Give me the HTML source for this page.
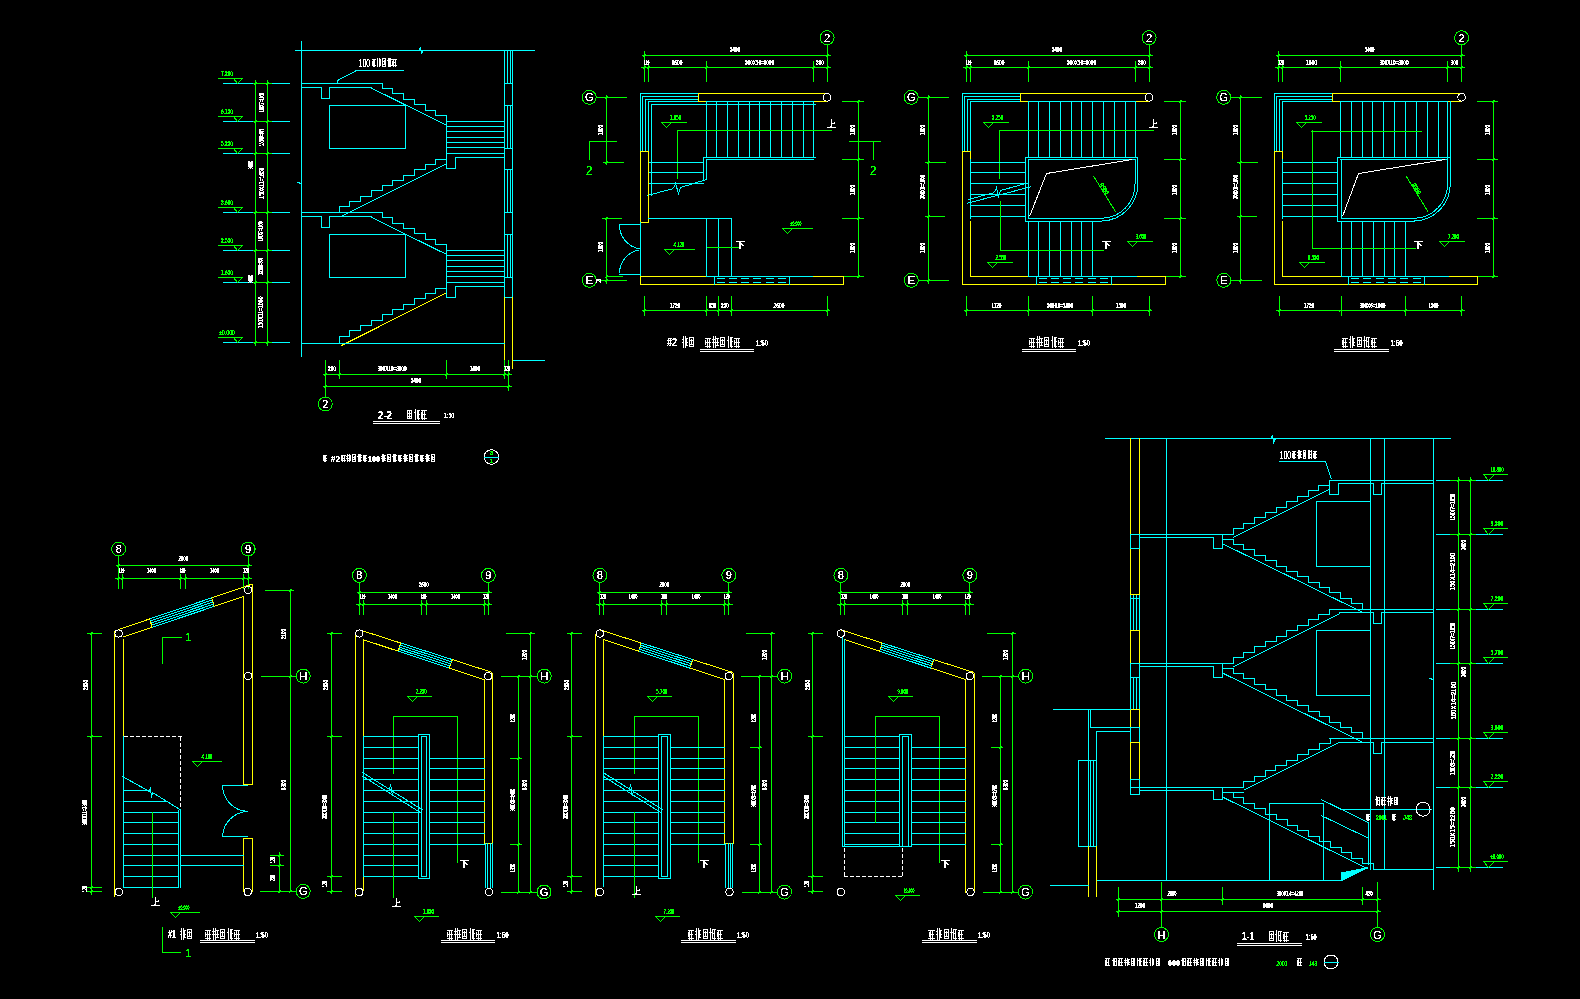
<!DOCTYPE html>
<html><head><meta charset="utf-8"><style>
html,body{margin:0;padding:0;background:#000;width:1580px;height:999px;overflow:hidden}
svg{display:block}
text{font-family:"Liberation Sans",sans-serif}
</style></head><body>
<svg width="1580" height="999" viewBox="0 0 1580 999" shape-rendering="crispEdges" stroke-width="1">
<rect width="1580" height="999" fill="#000"/>
<line x1="295" y1="50.5" x2="535" y2="50.5" stroke="#00ffff"/>
<polyline points="418.5,50.5 420.5,47.5 421.5,53.5 423.5,50.5" fill="none" stroke="#00ffff"/>
<line x1="301.5" y1="41" x2="301.5" y2="357" stroke="#00ffff"/>
<polyline points="297.5,182.5 301.5,183.5 301.5,186.5" fill="none" stroke="#00ffff"/>
<line x1="504.5" y1="50" x2="504.5" y2="298" stroke="#00ffff"/>
<line x1="512.5" y1="50" x2="512.5" y2="298" stroke="#00ffff"/>
<line x1="507.5" y1="50" x2="507.5" y2="84" stroke="#00ffff"/>
<line x1="510.5" y1="50" x2="510.5" y2="84" stroke="#00ffff"/>
<line x1="507.5" y1="105" x2="507.5" y2="149" stroke="#00ffff"/>
<line x1="510.5" y1="105" x2="510.5" y2="149" stroke="#00ffff"/>
<line x1="507.5" y1="169" x2="507.5" y2="213" stroke="#00ffff"/>
<line x1="510.5" y1="169" x2="510.5" y2="213" stroke="#00ffff"/>
<line x1="507.5" y1="234" x2="507.5" y2="278" stroke="#00ffff"/>
<line x1="510.5" y1="234" x2="510.5" y2="278" stroke="#00ffff"/>
<line x1="504" y1="83.5" x2="513" y2="83.5" stroke="#00ffff"/>
<line x1="504" y1="105.5" x2="513" y2="105.5" stroke="#00ffff"/>
<line x1="504" y1="148.5" x2="513" y2="148.5" stroke="#00ffff"/>
<line x1="504" y1="169.5" x2="513" y2="169.5" stroke="#00ffff"/>
<line x1="504" y1="212.5" x2="513" y2="212.5" stroke="#00ffff"/>
<line x1="504" y1="234.5" x2="513" y2="234.5" stroke="#00ffff"/>
<line x1="504" y1="277.5" x2="513" y2="277.5" stroke="#00ffff"/>
<line x1="504" y1="297.5" x2="513" y2="297.5" stroke="#00ffff"/>
<line x1="504.5" y1="297" x2="504.5" y2="367" stroke="#ffff00"/>
<line x1="512.5" y1="297" x2="512.5" y2="369" stroke="#ffff00"/>
<line x1="513" y1="360.5" x2="545" y2="360.5" stroke="#00ffff"/>
<line x1="301" y1="83.5" x2="383" y2="83.5" stroke="#00ffff"/>
<polyline points="301.5,87.5 321.5,87.5 321.5,98.5 329.5,98.5 329.5,87.5 371.5,87.5" fill="none" stroke="#00ffff"/>
<polyline points="382.5,83.5 382.5,88.5 392.5,88.5 392.5,93.5 403.5,93.5 403.5,99.5 414.5,99.5 414.5,104.5 425.5,104.5 425.5,110.5 435.5,110.5 435.5,115.5 446.5,115.5 446.5,121.5" fill="none" stroke="#00ffff"/>
<line x1="371" y1="87.9" x2="446.5" y2="125.2" stroke="#00ffff"/>
<line x1="446" y1="121.5" x2="505" y2="121.5" stroke="#00ffff"/>
<line x1="446" y1="126.5" x2="505" y2="126.5" stroke="#00ffff"/>
<line x1="446" y1="131.5" x2="505" y2="131.5" stroke="#00ffff"/>
<line x1="446" y1="137.5" x2="505" y2="137.5" stroke="#00ffff"/>
<line x1="446" y1="142.5" x2="505" y2="142.5" stroke="#00ffff"/>
<line x1="446" y1="147.5" x2="505" y2="147.5" stroke="#00ffff"/>
<line x1="446" y1="153.5" x2="505" y2="153.5" stroke="#00ffff"/>
<line x1="455" y1="157.5" x2="505" y2="157.5" stroke="#00ffff"/>
<line x1="446.5" y1="121" x2="446.5" y2="169" stroke="#00ffff"/>
<polyline points="446.5,168.5 455.5,168.5 455.5,157.5" fill="none" stroke="#00ffff"/>
<polyline points="446.5,159.5 435.5,159.5 435.5,164.5 425.5,164.5 425.5,169.5 414.5,169.5 414.5,175.5 403.5,175.5 403.5,180.5 392.5,180.5 392.5,185.5 382.5,185.5 382.5,190.5 371.5,190.5 371.5,196.5 360.5,196.5 360.5,201.5 349.5,201.5 349.5,206.5 339.5,206.5 339.5,212.5" fill="none" stroke="#00ffff"/>
<polygon points="329.5,105.5 405.5,105.5 405.5,148.5 329.5,148.5" fill="none" stroke="#00ffff"/>
<line x1="301" y1="212.5" x2="383" y2="212.5" stroke="#00ffff"/>
<polyline points="301.5,216.5 321.5,216.5 321.5,227.5 329.5,227.5 329.5,216.5 371.5,216.5" fill="none" stroke="#00ffff"/>
<polyline points="382.5,212.5 382.5,217.5 392.5,217.5 392.5,223.5 403.5,223.5 403.5,228.5 414.5,228.5 414.5,233.5 425.5,233.5 425.5,239.5 435.5,239.5 435.5,244.5 446.5,244.5 446.5,250.5" fill="none" stroke="#00ffff"/>
<line x1="371" y1="217.1" x2="446.5" y2="254.4" stroke="#00ffff"/>
<line x1="446" y1="250.5" x2="505" y2="250.5" stroke="#00ffff"/>
<line x1="446" y1="255.5" x2="505" y2="255.5" stroke="#00ffff"/>
<line x1="446" y1="260.5" x2="505" y2="260.5" stroke="#00ffff"/>
<line x1="446" y1="266.5" x2="505" y2="266.5" stroke="#00ffff"/>
<line x1="446" y1="271.5" x2="505" y2="271.5" stroke="#00ffff"/>
<line x1="446" y1="276.5" x2="505" y2="276.5" stroke="#00ffff"/>
<line x1="446" y1="282.5" x2="505" y2="282.5" stroke="#00ffff"/>
<line x1="455" y1="286.5" x2="505" y2="286.5" stroke="#00ffff"/>
<line x1="446.5" y1="250" x2="446.5" y2="298" stroke="#00ffff"/>
<polyline points="446.5,297.5 455.5,297.5 455.5,286.5" fill="none" stroke="#00ffff"/>
<polyline points="446.5,288.5 435.5,288.5 435.5,293.5 425.5,293.5 425.5,298.5 414.5,298.5 414.5,304.5 403.5,304.5 403.5,309.5 392.5,309.5 392.5,314.5 382.5,314.5 382.5,320.5 371.5,320.5 371.5,325.5 360.5,325.5 360.5,330.5 349.5,330.5 349.5,336.5 339.5,336.5 339.5,341.5" fill="none" stroke="#00ffff"/>
<polygon points="329.5,234.5 405.5,234.5 405.5,277.5 329.5,277.5" fill="none" stroke="#00ffff"/>
<line x1="446.5" y1="163.6" x2="341" y2="216.6" stroke="#00ffff"/>
<line x1="446.5" y1="292.8" x2="341" y2="345.8" stroke="#ffff00"/>
<line x1="339.5" y1="341" x2="339.5" y2="344" stroke="#00ffff"/>
<line x1="301" y1="343.5" x2="505" y2="343.5" stroke="#00ffff"/>
<polyline points="337.5,83.5 337.5,80.5 356.5,70.5 403.5,70.5" fill="none" stroke="#00ffff"/>
<line x1="223" y1="83.5" x2="290" y2="83.5" stroke="#00ffff"/>
<line x1="253" y1="83.5" x2="272" y2="83.5" stroke="#00ff00"/>
<line x1="218" y1="78.5" x2="243" y2="78.5" stroke="#00ff00"/>
<polyline points="233.5,78.5 237.5,83.5 242.5,78.5" fill="none" stroke="#00ff00"/>
<line x1="223" y1="121.5" x2="290" y2="121.5" stroke="#00ffff"/>
<line x1="253" y1="121.5" x2="272" y2="121.5" stroke="#00ff00"/>
<line x1="218" y1="116.5" x2="243" y2="116.5" stroke="#00ff00"/>
<polyline points="233.5,116.5 237.5,121.5 242.5,116.5" fill="none" stroke="#00ff00"/>
<line x1="223" y1="153.5" x2="290" y2="153.5" stroke="#00ffff"/>
<line x1="253" y1="153.5" x2="272" y2="153.5" stroke="#00ff00"/>
<line x1="218" y1="148.5" x2="243" y2="148.5" stroke="#00ff00"/>
<polyline points="233.5,148.5 237.5,153.5 242.5,148.5" fill="none" stroke="#00ff00"/>
<line x1="223" y1="212.5" x2="290" y2="212.5" stroke="#00ffff"/>
<line x1="253" y1="212.5" x2="272" y2="212.5" stroke="#00ff00"/>
<line x1="218" y1="207.5" x2="243" y2="207.5" stroke="#00ff00"/>
<polyline points="233.5,207.5 237.5,212.5 242.5,207.5" fill="none" stroke="#00ff00"/>
<line x1="223" y1="250.5" x2="290" y2="250.5" stroke="#00ffff"/>
<line x1="253" y1="250.5" x2="272" y2="250.5" stroke="#00ff00"/>
<line x1="218" y1="245.5" x2="243" y2="245.5" stroke="#00ff00"/>
<polyline points="233.5,245.5 237.5,250.5 242.5,245.5" fill="none" stroke="#00ff00"/>
<line x1="223" y1="282.5" x2="290" y2="282.5" stroke="#00ffff"/>
<line x1="253" y1="282.5" x2="272" y2="282.5" stroke="#00ff00"/>
<line x1="218" y1="277.5" x2="243" y2="277.5" stroke="#00ff00"/>
<polyline points="233.5,277.5 237.5,282.5 242.5,277.5" fill="none" stroke="#00ff00"/>
<line x1="223" y1="342.5" x2="290" y2="342.5" stroke="#00ffff"/>
<line x1="253" y1="342.5" x2="272" y2="342.5" stroke="#00ff00"/>
<line x1="218" y1="337.5" x2="243" y2="337.5" stroke="#00ff00"/>
<polyline points="233.5,337.5 237.5,342.5 242.5,337.5" fill="none" stroke="#00ff00"/>
<path d="M254 85 h1 v-1 h1 v-1 h1 v-1 h-1 v1 h-1 v1 h-1 z" fill="#00ff00" stroke="none"/>
<path d="M266 85 h1 v-1 h1 v-1 h1 v-1 h-1 v1 h-1 v1 h-1 z" fill="#00ff00" stroke="none"/>
<path d="M254 123 h1 v-1 h1 v-1 h1 v-1 h-1 v1 h-1 v1 h-1 z" fill="#00ff00" stroke="none"/>
<path d="M266 123 h1 v-1 h1 v-1 h1 v-1 h-1 v1 h-1 v1 h-1 z" fill="#00ff00" stroke="none"/>
<path d="M254 155 h1 v-1 h1 v-1 h1 v-1 h-1 v1 h-1 v1 h-1 z" fill="#00ff00" stroke="none"/>
<path d="M266 155 h1 v-1 h1 v-1 h1 v-1 h-1 v1 h-1 v1 h-1 z" fill="#00ff00" stroke="none"/>
<path d="M254 214 h1 v-1 h1 v-1 h1 v-1 h-1 v1 h-1 v1 h-1 z" fill="#00ff00" stroke="none"/>
<path d="M266 214 h1 v-1 h1 v-1 h1 v-1 h-1 v1 h-1 v1 h-1 z" fill="#00ff00" stroke="none"/>
<path d="M254 252 h1 v-1 h1 v-1 h1 v-1 h-1 v1 h-1 v1 h-1 z" fill="#00ff00" stroke="none"/>
<path d="M266 252 h1 v-1 h1 v-1 h1 v-1 h-1 v1 h-1 v1 h-1 z" fill="#00ff00" stroke="none"/>
<path d="M254 284 h1 v-1 h1 v-1 h1 v-1 h-1 v1 h-1 v1 h-1 z" fill="#00ff00" stroke="none"/>
<path d="M266 284 h1 v-1 h1 v-1 h1 v-1 h-1 v1 h-1 v1 h-1 z" fill="#00ff00" stroke="none"/>
<path d="M254 344 h1 v-1 h1 v-1 h1 v-1 h-1 v1 h-1 v1 h-1 z" fill="#00ff00" stroke="none"/>
<path d="M266 344 h1 v-1 h1 v-1 h1 v-1 h-1 v1 h-1 v1 h-1 z" fill="#00ff00" stroke="none"/>
<path d="M324 376 h1 v-1 h1 v-1 h1 v-1 h-1 v1 h-1 v1 h-1 z" fill="#00ff00" stroke="none"/>
<path d="M338 376 h1 v-1 h1 v-1 h1 v-1 h-1 v1 h-1 v1 h-1 z" fill="#00ff00" stroke="none"/>
<path d="M445 376 h1 v-1 h1 v-1 h1 v-1 h-1 v1 h-1 v1 h-1 z" fill="#00ff00" stroke="none"/>
<path d="M503 376 h1 v-1 h1 v-1 h1 v-1 h-1 v1 h-1 v1 h-1 z" fill="#00ff00" stroke="none"/>
<path d="M507 376 h1 v-1 h1 v-1 h1 v-1 h-1 v1 h-1 v1 h-1 z" fill="#00ff00" stroke="none"/>
<path d="M324 388 h1 v-1 h1 v-1 h1 v-1 h-1 v1 h-1 v1 h-1 z" fill="#00ff00" stroke="none"/>
<path d="M507 388 h1 v-1 h1 v-1 h1 v-1 h-1 v1 h-1 v1 h-1 z" fill="#00ff00" stroke="none"/>
<line x1="255.5" y1="80" x2="255.5" y2="346" stroke="#00ff00"/>
<line x1="267.5" y1="80" x2="267.5" y2="346" stroke="#00ff00"/>
<line x1="325.5" y1="360" x2="325.5" y2="379" stroke="#00ff00"/>
<line x1="339.5" y1="360" x2="339.5" y2="379" stroke="#00ff00"/>
<line x1="446.5" y1="360" x2="446.5" y2="379" stroke="#00ff00"/>
<line x1="504.5" y1="360" x2="504.5" y2="379" stroke="#00ff00"/>
<line x1="508.5" y1="360" x2="508.5" y2="379" stroke="#00ff00"/>
<line x1="323" y1="374.5" x2="512" y2="374.5" stroke="#00ff00"/>
<line x1="323" y1="386.5" x2="512" y2="386.5" stroke="#00ff00"/>
<line x1="325.5" y1="378" x2="325.5" y2="398" stroke="#00ff00"/>
<line x1="508.5" y1="378" x2="508.5" y2="391" stroke="#00ff00"/>
<circle cx="325.3" cy="404" r="7" fill="none" stroke="#00ff00"/>
<line x1="373" y1="421.5" x2="440" y2="421.5" stroke="#ffffff"/>
<line x1="373" y1="423.5" x2="440" y2="423.5" stroke="#ffffff"/>
<circle cx="491.4" cy="457" r="7.3" fill="none" stroke="#ffffff"/>
<line x1="484" y1="457.5" x2="499" y2="457.5" stroke="#00ffff"/>
<circle cx="827.1" cy="37.7" r="7" fill="none" stroke="#00ff00"/>
<line x1="827.5" y1="44" x2="827.5" y2="82" stroke="#00ff00"/>
<line x1="642" y1="55.5" x2="831" y2="55.5" stroke="#00ff00"/>
<line x1="644.5" y1="51" x2="644.5" y2="82" stroke="#00ff00"/>
<line x1="641" y1="67.5" x2="831" y2="67.5" stroke="#00ff00"/>
<line x1="648.5" y1="61" x2="648.5" y2="82" stroke="#00ff00"/>
<line x1="706.5" y1="61" x2="706.5" y2="82" stroke="#00ff00"/>
<line x1="813.5" y1="61" x2="813.5" y2="82" stroke="#00ff00"/>
<path d="M643 57 h1 v-1 h1 v-1 h1 v-1 h-1 v1 h-1 v1 h-1 z" fill="#00ff00" stroke="none"/>
<path d="M826 57 h1 v-1 h1 v-1 h1 v-1 h-1 v1 h-1 v1 h-1 z" fill="#00ff00" stroke="none"/>
<path d="M643 69 h1 v-1 h1 v-1 h1 v-1 h-1 v1 h-1 v1 h-1 z" fill="#00ff00" stroke="none"/>
<path d="M647 69 h1 v-1 h1 v-1 h1 v-1 h-1 v1 h-1 v1 h-1 z" fill="#00ff00" stroke="none"/>
<path d="M705 69 h1 v-1 h1 v-1 h1 v-1 h-1 v1 h-1 v1 h-1 z" fill="#00ff00" stroke="none"/>
<path d="M812 69 h1 v-1 h1 v-1 h1 v-1 h-1 v1 h-1 v1 h-1 z" fill="#00ff00" stroke="none"/>
<path d="M826 69 h1 v-1 h1 v-1 h1 v-1 h-1 v1 h-1 v1 h-1 z" fill="#00ff00" stroke="none"/>
<path d="M857 103 h1 v-1 h1 v-1 h1 v-1 h-1 v1 h-1 v1 h-1 z" fill="#00ff00" stroke="none"/>
<path d="M857 161 h1 v-1 h1 v-1 h1 v-1 h-1 v1 h-1 v1 h-1 z" fill="#00ff00" stroke="none"/>
<path d="M857 220 h1 v-1 h1 v-1 h1 v-1 h-1 v1 h-1 v1 h-1 z" fill="#00ff00" stroke="none"/>
<path d="M857 278 h1 v-1 h1 v-1 h1 v-1 h-1 v1 h-1 v1 h-1 z" fill="#00ff00" stroke="none"/>
<path d="M643 312 h1 v-1 h1 v-1 h1 v-1 h-1 v1 h-1 v1 h-1 z" fill="#00ff00" stroke="none"/>
<path d="M705 312 h1 v-1 h1 v-1 h1 v-1 h-1 v1 h-1 v1 h-1 z" fill="#00ff00" stroke="none"/>
<path d="M826 312 h1 v-1 h1 v-1 h1 v-1 h-1 v1 h-1 v1 h-1 z" fill="#00ff00" stroke="none"/>
<path d="M717 312 h1 v-1 h1 v-1 h1 v-1 h-1 v1 h-1 v1 h-1 z" fill="#00ff00" stroke="none"/>
<path d="M730 312 h1 v-1 h1 v-1 h1 v-1 h-1 v1 h-1 v1 h-1 z" fill="#00ff00" stroke="none"/>
<path d="M605 99 h1 v-1 h1 v-1 h1 v-1 h-1 v1 h-1 v1 h-1 z" fill="#00ff00" stroke="none"/>
<path d="M605 282 h1 v-1 h1 v-1 h1 v-1 h-1 v1 h-1 v1 h-1 z" fill="#00ff00" stroke="none"/>
<path d="M605 164 h1 v-1 h1 v-1 h1 v-1 h-1 v1 h-1 v1 h-1 z" fill="#00ff00" stroke="none"/>
<path d="M605 220 h1 v-1 h1 v-1 h1 v-1 h-1 v1 h-1 v1 h-1 z" fill="#00ff00" stroke="none"/>
<path d="M605 278 h1 v-1 h1 v-1 h1 v-1 h-1 v1 h-1 v1 h-1 z" fill="#00ff00" stroke="none"/>
<circle cx="589.2" cy="97.3" r="7" fill="none" stroke="#00ff00"/>
<line x1="596" y1="97.5" x2="627" y2="97.5" stroke="#00ff00"/>
<line x1="606.5" y1="95" x2="606.5" y2="165" stroke="#00ff00"/>
<line x1="606.5" y1="217" x2="606.5" y2="284" stroke="#00ff00"/>
<polyline points="640.5,151.5 640.5,93.5 698.5,93.5" fill="none" stroke="#00ffff"/>
<polyline points="642.5,151.5 642.5,96.5 698.5,96.5" fill="none" stroke="#00ffff"/>
<polyline points="645.5,151.5 645.5,99.5 698.5,99.5" fill="none" stroke="#00ffff"/>
<polyline points="648.5,218.5 648.5,101.5 706.5,101.5" fill="none" stroke="#00ffff"/>
<polyline points="651.5,195.5 651.5,104.5 815.5,104.5" fill="none" stroke="#00ffff"/>
<line x1="706" y1="101.5" x2="816" y2="101.5" stroke="#00ffff"/>
<polyline points="706.5,101.5 698.5,101.5 698.5,93.5 827.5,93.5" fill="none" stroke="#ffff00"/>
<line x1="813" y1="101.5" x2="828" y2="101.5" stroke="#ffff00"/>
<circle cx="827.1" cy="97.3" r="3.8" fill="none" stroke="#ffffff"/>
<line x1="706.5" y1="101" x2="706.5" y2="158" stroke="#00ffff"/>
<line x1="716.5" y1="101" x2="716.5" y2="158" stroke="#00ffff"/>
<line x1="727.5" y1="101" x2="727.5" y2="158" stroke="#00ffff"/>
<line x1="738.5" y1="101" x2="738.5" y2="158" stroke="#00ffff"/>
<line x1="749.5" y1="101" x2="749.5" y2="158" stroke="#00ffff"/>
<line x1="759.5" y1="101" x2="759.5" y2="158" stroke="#00ffff"/>
<line x1="770.5" y1="101" x2="770.5" y2="158" stroke="#00ffff"/>
<line x1="781.5" y1="101" x2="781.5" y2="158" stroke="#00ffff"/>
<line x1="792.5" y1="101" x2="792.5" y2="158" stroke="#00ffff"/>
<line x1="803.5" y1="101" x2="803.5" y2="158" stroke="#00ffff"/>
<line x1="813.5" y1="101" x2="813.5" y2="158" stroke="#00ffff"/>
<line x1="703" y1="157.5" x2="816" y2="157.5" stroke="#00ffff"/>
<line x1="706" y1="159.5" x2="814" y2="159.5" stroke="#00ffff"/>
<polyline points="640.5,200.5 640.5,151.5 648.5,151.5 648.5,158.5" fill="none" stroke="#ffff00"/>
<line x1="677" y1="130.5" x2="832" y2="130.5" stroke="#00ff00"/>
<line x1="677.5" y1="130" x2="677.5" y2="179" stroke="#00ff00"/>
<line x1="858.5" y1="100" x2="858.5" y2="278" stroke="#00ff00"/>
<line x1="842" y1="101.5" x2="864" y2="101.5" stroke="#00ff00"/>
<line x1="842" y1="159.5" x2="864" y2="159.5" stroke="#00ff00"/>
<line x1="842" y1="218.5" x2="864" y2="218.5" stroke="#00ff00"/>
<line x1="842" y1="276.5" x2="864" y2="276.5" stroke="#00ff00"/>
<line x1="603" y1="162.5" x2="624" y2="162.5" stroke="#00ff00"/>
<circle cx="589.3" cy="280.3" r="7" fill="none" stroke="#00ff00"/>
<line x1="596" y1="280.5" x2="627" y2="280.5" stroke="#00ff00"/>
<line x1="589" y1="141.5" x2="617" y2="141.5" stroke="#00ff00"/>
<line x1="589.5" y1="141" x2="589.5" y2="160" stroke="#00ff00"/>
<line x1="849" y1="141.5" x2="881" y2="141.5" stroke="#00ff00"/>
<line x1="873.5" y1="141" x2="873.5" y2="160" stroke="#00ff00"/>
<line x1="661" y1="122.5" x2="687" y2="122.5" stroke="#00ff00"/>
<polyline points="661.5,122.5 666.5,127.5 671.5,122.5" fill="none" stroke="#00ff00"/>
<line x1="703.5" y1="157" x2="703.5" y2="181" stroke="#00ffff"/>
<line x1="706.5" y1="159" x2="706.5" y2="180" stroke="#00ffff"/>
<line x1="648" y1="162.5" x2="704" y2="162.5" stroke="#00ffff"/>
<line x1="648" y1="172.5" x2="704" y2="172.5" stroke="#00ffff"/>
<line x1="648" y1="183.5" x2="704" y2="183.5" stroke="#00ffff"/>
<polyline points="647.5,195.5 673.5,188.5 675.5,183.5 678.5,193.5 680.5,187.5 706.5,179.5" fill="none" stroke="#00ffff"/>
<polyline points="640.5,151.5 640.5,222.5 648.5,222.5 648.5,151.5" fill="none" stroke="#ffff00"/>
<line x1="648" y1="218.5" x2="732" y2="218.5" stroke="#00ffff"/>
<line x1="706.5" y1="218" x2="706.5" y2="277" stroke="#00ffff"/>
<line x1="718.5" y1="218" x2="718.5" y2="277" stroke="#00ffff"/>
<line x1="731.5" y1="218" x2="731.5" y2="277" stroke="#00ffff"/>
<line x1="640.5" y1="222" x2="640.5" y2="277" stroke="#00ffff"/>
<line x1="619" y1="224.5" x2="641" y2="224.5" stroke="#00ffff"/>
<line x1="619" y1="274.5" x2="641" y2="274.5" stroke="#00ffff"/>
<path d="M619.5 224.5 A 24 24 0 0 0 639.5 248.8" fill="none" stroke="#00ffff"/>
<path d="M639.5 249.8 A 24 24 0 0 0 619.5 273.5" fill="none" stroke="#00ffff"/>
<line x1="640" y1="276.5" x2="707" y2="276.5" stroke="#ffff00"/>
<line x1="706" y1="276.5" x2="814" y2="276.5" stroke="#00ffff"/>
<line x1="813" y1="276.5" x2="844" y2="276.5" stroke="#ffff00"/>
<line x1="640" y1="284.5" x2="844" y2="284.5" stroke="#ffff00"/>
<line x1="640.5" y1="276" x2="640.5" y2="285" stroke="#ffff00"/>
<line x1="843.5" y1="276" x2="843.5" y2="285" stroke="#ffff00"/>
<line x1="714.5" y1="276" x2="714.5" y2="285" stroke="#00ffff"/>
<line x1="789.5" y1="276" x2="789.5" y2="285" stroke="#00ffff"/>
<line x1="717" y1="278.5" x2="725" y2="278.5" stroke="#00ffff"/>
<line x1="729" y1="278.5" x2="737" y2="278.5" stroke="#00ffff"/>
<line x1="741" y1="278.5" x2="749" y2="278.5" stroke="#00ffff"/>
<line x1="753" y1="278.5" x2="761" y2="278.5" stroke="#00ffff"/>
<line x1="766" y1="278.5" x2="774" y2="278.5" stroke="#00ffff"/>
<line x1="778" y1="278.5" x2="786" y2="278.5" stroke="#00ffff"/>
<line x1="717" y1="282.5" x2="725" y2="282.5" stroke="#00ffff"/>
<line x1="729" y1="282.5" x2="737" y2="282.5" stroke="#00ffff"/>
<line x1="741" y1="282.5" x2="749" y2="282.5" stroke="#00ffff"/>
<line x1="753" y1="282.5" x2="761" y2="282.5" stroke="#00ffff"/>
<line x1="766" y1="282.5" x2="774" y2="282.5" stroke="#00ffff"/>
<line x1="778" y1="282.5" x2="786" y2="282.5" stroke="#00ffff"/>
<line x1="602" y1="218.5" x2="622" y2="218.5" stroke="#00ff00"/>
<line x1="606" y1="276.5" x2="623" y2="276.5" stroke="#00ff00"/>
<line x1="642" y1="310.5" x2="830" y2="310.5" stroke="#00ff00"/>
<line x1="644.5" y1="296" x2="644.5" y2="316" stroke="#00ff00"/>
<line x1="706.5" y1="296" x2="706.5" y2="316" stroke="#00ff00"/>
<line x1="718.5" y1="296" x2="718.5" y2="316" stroke="#00ff00"/>
<line x1="731.5" y1="296" x2="731.5" y2="316" stroke="#00ff00"/>
<line x1="827.5" y1="296" x2="827.5" y2="316" stroke="#00ff00"/>
<line x1="664" y1="249.5" x2="695" y2="249.5" stroke="#00ff00"/>
<polyline points="664.5,249.5 669.5,254.5 674.5,249.5" fill="none" stroke="#00ff00"/>
<line x1="782" y1="228.5" x2="813" y2="228.5" stroke="#00ff00"/>
<polyline points="782.5,228.5 787.5,233.5 792.5,228.5" fill="none" stroke="#00ff00"/>
<line x1="707" y1="247.5" x2="739" y2="247.5" stroke="#00ff00"/>
<line x1="700" y1="349.5" x2="754" y2="349.5" stroke="#ffffff"/>
<line x1="700" y1="351.5" x2="754" y2="351.5" stroke="#ffffff"/>
<circle cx="1149.1" cy="37.7" r="7" fill="none" stroke="#00ff00"/>
<line x1="1149.5" y1="44" x2="1149.5" y2="82" stroke="#00ff00"/>
<line x1="964" y1="55.5" x2="1153" y2="55.5" stroke="#00ff00"/>
<line x1="966.5" y1="51" x2="966.5" y2="82" stroke="#00ff00"/>
<line x1="963" y1="67.5" x2="1153" y2="67.5" stroke="#00ff00"/>
<line x1="970.5" y1="61" x2="970.5" y2="82" stroke="#00ff00"/>
<line x1="1028.5" y1="61" x2="1028.5" y2="82" stroke="#00ff00"/>
<line x1="1135.5" y1="61" x2="1135.5" y2="82" stroke="#00ff00"/>
<path d="M965 57 h1 v-1 h1 v-1 h1 v-1 h-1 v1 h-1 v1 h-1 z" fill="#00ff00" stroke="none"/>
<path d="M1148 57 h1 v-1 h1 v-1 h1 v-1 h-1 v1 h-1 v1 h-1 z" fill="#00ff00" stroke="none"/>
<path d="M965 69 h1 v-1 h1 v-1 h1 v-1 h-1 v1 h-1 v1 h-1 z" fill="#00ff00" stroke="none"/>
<path d="M969 69 h1 v-1 h1 v-1 h1 v-1 h-1 v1 h-1 v1 h-1 z" fill="#00ff00" stroke="none"/>
<path d="M1027 69 h1 v-1 h1 v-1 h1 v-1 h-1 v1 h-1 v1 h-1 z" fill="#00ff00" stroke="none"/>
<path d="M1134 69 h1 v-1 h1 v-1 h1 v-1 h-1 v1 h-1 v1 h-1 z" fill="#00ff00" stroke="none"/>
<path d="M1148 69 h1 v-1 h1 v-1 h1 v-1 h-1 v1 h-1 v1 h-1 z" fill="#00ff00" stroke="none"/>
<path d="M1179 103 h1 v-1 h1 v-1 h1 v-1 h-1 v1 h-1 v1 h-1 z" fill="#00ff00" stroke="none"/>
<path d="M1179 161 h1 v-1 h1 v-1 h1 v-1 h-1 v1 h-1 v1 h-1 z" fill="#00ff00" stroke="none"/>
<path d="M1179 220 h1 v-1 h1 v-1 h1 v-1 h-1 v1 h-1 v1 h-1 z" fill="#00ff00" stroke="none"/>
<path d="M1179 278 h1 v-1 h1 v-1 h1 v-1 h-1 v1 h-1 v1 h-1 z" fill="#00ff00" stroke="none"/>
<path d="M965 312 h1 v-1 h1 v-1 h1 v-1 h-1 v1 h-1 v1 h-1 z" fill="#00ff00" stroke="none"/>
<path d="M1027 312 h1 v-1 h1 v-1 h1 v-1 h-1 v1 h-1 v1 h-1 z" fill="#00ff00" stroke="none"/>
<path d="M1148 312 h1 v-1 h1 v-1 h1 v-1 h-1 v1 h-1 v1 h-1 z" fill="#00ff00" stroke="none"/>
<path d="M1091 312 h1 v-1 h1 v-1 h1 v-1 h-1 v1 h-1 v1 h-1 z" fill="#00ff00" stroke="none"/>
<path d="M927 99 h1 v-1 h1 v-1 h1 v-1 h-1 v1 h-1 v1 h-1 z" fill="#00ff00" stroke="none"/>
<path d="M927 282 h1 v-1 h1 v-1 h1 v-1 h-1 v1 h-1 v1 h-1 z" fill="#00ff00" stroke="none"/>
<path d="M927 164 h1 v-1 h1 v-1 h1 v-1 h-1 v1 h-1 v1 h-1 z" fill="#00ff00" stroke="none"/>
<path d="M927 218 h1 v-1 h1 v-1 h1 v-1 h-1 v1 h-1 v1 h-1 z" fill="#00ff00" stroke="none"/>
<circle cx="911.2" cy="97.3" r="7" fill="none" stroke="#00ff00"/>
<line x1="918" y1="97.5" x2="949" y2="97.5" stroke="#00ff00"/>
<line x1="928.5" y1="95" x2="928.5" y2="284" stroke="#00ff00"/>
<polyline points="962.5,151.5 962.5,93.5 1020.5,93.5" fill="none" stroke="#00ffff"/>
<polyline points="964.5,151.5 964.5,96.5 1020.5,96.5" fill="none" stroke="#00ffff"/>
<polyline points="967.5,151.5 967.5,99.5 1020.5,99.5" fill="none" stroke="#00ffff"/>
<polyline points="970.5,218.5 970.5,101.5 1028.5,101.5" fill="none" stroke="#00ffff"/>
<line x1="1028" y1="101.5" x2="1138" y2="101.5" stroke="#00ffff"/>
<polyline points="1028.5,101.5 1020.5,101.5 1020.5,93.5 1149.5,93.5" fill="none" stroke="#ffff00"/>
<line x1="1135" y1="101.5" x2="1150" y2="101.5" stroke="#ffff00"/>
<circle cx="1149.1" cy="97.3" r="3.8" fill="none" stroke="#ffffff"/>
<line x1="1028.5" y1="101" x2="1028.5" y2="158" stroke="#00ffff"/>
<line x1="1038.5" y1="101" x2="1038.5" y2="158" stroke="#00ffff"/>
<line x1="1049.5" y1="101" x2="1049.5" y2="158" stroke="#00ffff"/>
<line x1="1060.5" y1="101" x2="1060.5" y2="158" stroke="#00ffff"/>
<line x1="1071.5" y1="101" x2="1071.5" y2="158" stroke="#00ffff"/>
<line x1="1081.5" y1="101" x2="1081.5" y2="158" stroke="#00ffff"/>
<line x1="1092.5" y1="101" x2="1092.5" y2="158" stroke="#00ffff"/>
<line x1="1103.5" y1="101" x2="1103.5" y2="158" stroke="#00ffff"/>
<line x1="1114.5" y1="101" x2="1114.5" y2="158" stroke="#00ffff"/>
<line x1="1125.5" y1="101" x2="1125.5" y2="158" stroke="#00ffff"/>
<line x1="1135.5" y1="101" x2="1135.5" y2="158" stroke="#00ffff"/>
<line x1="1025" y1="157.5" x2="1138" y2="157.5" stroke="#00ffff"/>
<line x1="1028" y1="159.5" x2="1136" y2="159.5" stroke="#00ffff"/>
<polyline points="962.5,200.5 962.5,151.5 970.5,151.5 970.5,158.5" fill="none" stroke="#ffff00"/>
<line x1="999" y1="130.5" x2="1154" y2="130.5" stroke="#00ff00"/>
<line x1="999.5" y1="130" x2="999.5" y2="179" stroke="#00ff00"/>
<line x1="1180.5" y1="100" x2="1180.5" y2="278" stroke="#00ff00"/>
<line x1="1164" y1="101.5" x2="1186" y2="101.5" stroke="#00ff00"/>
<line x1="1164" y1="159.5" x2="1186" y2="159.5" stroke="#00ff00"/>
<line x1="1164" y1="218.5" x2="1186" y2="218.5" stroke="#00ff00"/>
<line x1="1164" y1="276.5" x2="1186" y2="276.5" stroke="#00ff00"/>
<line x1="925" y1="162.5" x2="946" y2="162.5" stroke="#00ff00"/>
<circle cx="911.3" cy="280.3" r="7" fill="none" stroke="#00ff00"/>
<line x1="918" y1="280.5" x2="949" y2="280.5" stroke="#00ff00"/>
<line x1="983" y1="122.5" x2="1009" y2="122.5" stroke="#00ff00"/>
<polyline points="983.5,122.5 988.5,127.5 993.5,122.5" fill="none" stroke="#00ff00"/>
<line x1="962.5" y1="151" x2="962.5" y2="285" stroke="#ffff00"/>
<line x1="970.5" y1="221" x2="970.5" y2="277" stroke="#ffff00"/>
<line x1="970" y1="162.5" x2="1026" y2="162.5" stroke="#00ffff"/>
<line x1="970" y1="172.5" x2="1026" y2="172.5" stroke="#00ffff"/>
<line x1="970" y1="183.5" x2="1026" y2="183.5" stroke="#00ffff"/>
<line x1="970" y1="194.5" x2="1026" y2="194.5" stroke="#00ffff"/>
<line x1="970" y1="205.5" x2="1026" y2="205.5" stroke="#00ffff"/>
<line x1="970" y1="216.5" x2="1026" y2="216.5" stroke="#00ffff"/>
<path d="M1025.3 157.3 H 1137.8 V 183.6 A 37 37 0 0 1 1102 221 H 1025.3 Z" fill="none" stroke="#00ffff"/>
<path d="M1028.5 159.5 H 1135 V 183.6 A 34 34 0 0 1 1102 218.3 H 1028.5 Z" fill="none" stroke="#00ffff"/>
<polyline points="1029.5,216.5 1046.5,173.5 1132.5,159.5" fill="none" stroke="#ffffff"/>
<line x1="1093.7" y1="176.3" x2="1115.7" y2="212" stroke="#00ff00"/>
<line x1="1028.5" y1="221" x2="1028.5" y2="277" stroke="#00ffff"/>
<line x1="1038.5" y1="221" x2="1038.5" y2="277" stroke="#00ffff"/>
<line x1="1049.5" y1="221" x2="1049.5" y2="277" stroke="#00ffff"/>
<line x1="1060.5" y1="221" x2="1060.5" y2="277" stroke="#00ffff"/>
<line x1="1071.5" y1="221" x2="1071.5" y2="277" stroke="#00ffff"/>
<line x1="1081.5" y1="221" x2="1081.5" y2="277" stroke="#00ffff"/>
<line x1="1092.5" y1="221" x2="1092.5" y2="277" stroke="#00ffff"/>
<polyline points="968.5,199.5 994.5,192.5 996.5,187.5 998.5,196.5 1000.5,190.5 1029.5,182.5" fill="none" stroke="#00ffff"/>
<line x1="966.6" y1="203.4" x2="1031.5" y2="186.6" stroke="#00ffff"/>
<line x1="1000.5" y1="201" x2="1000.5" y2="251" stroke="#00ff00"/>
<line x1="1000" y1="250.5" x2="1104" y2="250.5" stroke="#00ff00"/>
<line x1="987" y1="262.5" x2="1013" y2="262.5" stroke="#00ff00"/>
<polyline points="987.5,262.5 992.5,267.5 997.5,262.5" fill="none" stroke="#00ff00"/>
<line x1="1127" y1="241.5" x2="1153" y2="241.5" stroke="#00ff00"/>
<polyline points="1127.5,241.5 1132.5,246.5 1137.5,241.5" fill="none" stroke="#00ff00"/>
<line x1="970" y1="276.5" x2="1029" y2="276.5" stroke="#ffff00"/>
<line x1="1028" y1="276.5" x2="1138" y2="276.5" stroke="#00ffff"/>
<line x1="1137" y1="276.5" x2="1166" y2="276.5" stroke="#ffff00"/>
<line x1="962" y1="284.5" x2="1166" y2="284.5" stroke="#ffff00"/>
<line x1="1165.5" y1="276" x2="1165.5" y2="285" stroke="#ffff00"/>
<line x1="1036.5" y1="276" x2="1036.5" y2="285" stroke="#00ffff"/>
<line x1="1111.5" y1="276" x2="1111.5" y2="285" stroke="#00ffff"/>
<line x1="1039" y1="278.5" x2="1047" y2="278.5" stroke="#00ffff"/>
<line x1="1051" y1="278.5" x2="1059" y2="278.5" stroke="#00ffff"/>
<line x1="1063" y1="278.5" x2="1071" y2="278.5" stroke="#00ffff"/>
<line x1="1075" y1="278.5" x2="1083" y2="278.5" stroke="#00ffff"/>
<line x1="1088" y1="278.5" x2="1096" y2="278.5" stroke="#00ffff"/>
<line x1="1100" y1="278.5" x2="1108" y2="278.5" stroke="#00ffff"/>
<line x1="1039" y1="282.5" x2="1047" y2="282.5" stroke="#00ffff"/>
<line x1="1051" y1="282.5" x2="1059" y2="282.5" stroke="#00ffff"/>
<line x1="1063" y1="282.5" x2="1071" y2="282.5" stroke="#00ffff"/>
<line x1="1075" y1="282.5" x2="1083" y2="282.5" stroke="#00ffff"/>
<line x1="1088" y1="282.5" x2="1096" y2="282.5" stroke="#00ffff"/>
<line x1="1100" y1="282.5" x2="1108" y2="282.5" stroke="#00ffff"/>
<line x1="925" y1="216.5" x2="945" y2="216.5" stroke="#00ff00"/>
<line x1="964" y1="310.5" x2="1152" y2="310.5" stroke="#00ff00"/>
<line x1="966.5" y1="296" x2="966.5" y2="316" stroke="#00ff00"/>
<line x1="1028.5" y1="296" x2="1028.5" y2="316" stroke="#00ff00"/>
<line x1="1092.5" y1="296" x2="1092.5" y2="316" stroke="#00ff00"/>
<line x1="1149.5" y1="296" x2="1149.5" y2="316" stroke="#00ff00"/>
<line x1="1022" y1="349.5" x2="1076" y2="349.5" stroke="#ffffff"/>
<line x1="1022" y1="351.5" x2="1076" y2="351.5" stroke="#ffffff"/>
<circle cx="1461.6" cy="37.7" r="7" fill="none" stroke="#00ff00"/>
<line x1="1461.5" y1="44" x2="1461.5" y2="82" stroke="#00ff00"/>
<line x1="1276" y1="55.5" x2="1465" y2="55.5" stroke="#00ff00"/>
<line x1="1278.5" y1="51" x2="1278.5" y2="82" stroke="#00ff00"/>
<line x1="1275" y1="67.5" x2="1465" y2="67.5" stroke="#00ff00"/>
<line x1="1282.5" y1="61" x2="1282.5" y2="82" stroke="#00ff00"/>
<line x1="1340.5" y1="61" x2="1340.5" y2="82" stroke="#00ff00"/>
<line x1="1447.5" y1="61" x2="1447.5" y2="82" stroke="#00ff00"/>
<path d="M1277 57 h1 v-1 h1 v-1 h1 v-1 h-1 v1 h-1 v1 h-1 z" fill="#00ff00" stroke="none"/>
<path d="M1460 57 h1 v-1 h1 v-1 h1 v-1 h-1 v1 h-1 v1 h-1 z" fill="#00ff00" stroke="none"/>
<path d="M1277 69 h1 v-1 h1 v-1 h1 v-1 h-1 v1 h-1 v1 h-1 z" fill="#00ff00" stroke="none"/>
<path d="M1281 69 h1 v-1 h1 v-1 h1 v-1 h-1 v1 h-1 v1 h-1 z" fill="#00ff00" stroke="none"/>
<path d="M1339 69 h1 v-1 h1 v-1 h1 v-1 h-1 v1 h-1 v1 h-1 z" fill="#00ff00" stroke="none"/>
<path d="M1446 69 h1 v-1 h1 v-1 h1 v-1 h-1 v1 h-1 v1 h-1 z" fill="#00ff00" stroke="none"/>
<path d="M1460 69 h1 v-1 h1 v-1 h1 v-1 h-1 v1 h-1 v1 h-1 z" fill="#00ff00" stroke="none"/>
<path d="M1492 103 h1 v-1 h1 v-1 h1 v-1 h-1 v1 h-1 v1 h-1 z" fill="#00ff00" stroke="none"/>
<path d="M1492 161 h1 v-1 h1 v-1 h1 v-1 h-1 v1 h-1 v1 h-1 z" fill="#00ff00" stroke="none"/>
<path d="M1492 220 h1 v-1 h1 v-1 h1 v-1 h-1 v1 h-1 v1 h-1 z" fill="#00ff00" stroke="none"/>
<path d="M1492 278 h1 v-1 h1 v-1 h1 v-1 h-1 v1 h-1 v1 h-1 z" fill="#00ff00" stroke="none"/>
<path d="M1278 312 h1 v-1 h1 v-1 h1 v-1 h-1 v1 h-1 v1 h-1 z" fill="#00ff00" stroke="none"/>
<path d="M1339 312 h1 v-1 h1 v-1 h1 v-1 h-1 v1 h-1 v1 h-1 z" fill="#00ff00" stroke="none"/>
<path d="M1460 312 h1 v-1 h1 v-1 h1 v-1 h-1 v1 h-1 v1 h-1 z" fill="#00ff00" stroke="none"/>
<path d="M1404 312 h1 v-1 h1 v-1 h1 v-1 h-1 v1 h-1 v1 h-1 z" fill="#00ff00" stroke="none"/>
<path d="M1239 99 h1 v-1 h1 v-1 h1 v-1 h-1 v1 h-1 v1 h-1 z" fill="#00ff00" stroke="none"/>
<path d="M1239 282 h1 v-1 h1 v-1 h1 v-1 h-1 v1 h-1 v1 h-1 z" fill="#00ff00" stroke="none"/>
<path d="M1239 164 h1 v-1 h1 v-1 h1 v-1 h-1 v1 h-1 v1 h-1 z" fill="#00ff00" stroke="none"/>
<path d="M1239 218 h1 v-1 h1 v-1 h1 v-1 h-1 v1 h-1 v1 h-1 z" fill="#00ff00" stroke="none"/>
<circle cx="1223.7" cy="97.3" r="7" fill="none" stroke="#00ff00"/>
<line x1="1230" y1="97.5" x2="1262" y2="97.5" stroke="#00ff00"/>
<line x1="1240.5" y1="95" x2="1240.5" y2="284" stroke="#00ff00"/>
<polyline points="1274.5,151.5 1274.5,93.5 1332.5,93.5" fill="none" stroke="#00ffff"/>
<polyline points="1276.5,151.5 1276.5,96.5 1332.5,96.5" fill="none" stroke="#00ffff"/>
<polyline points="1279.5,151.5 1279.5,99.5 1332.5,99.5" fill="none" stroke="#00ffff"/>
<polyline points="1282.5,218.5 1282.5,101.5 1340.5,101.5" fill="none" stroke="#00ffff"/>
<line x1="1340" y1="101.5" x2="1451" y2="101.5" stroke="#00ffff"/>
<polyline points="1340.5,101.5 1332.5,101.5 1332.5,93.5 1461.5,93.5" fill="none" stroke="#ffff00"/>
<line x1="1447" y1="101.5" x2="1462" y2="101.5" stroke="#ffff00"/>
<circle cx="1461.6" cy="97.3" r="3.8" fill="none" stroke="#ffffff"/>
<line x1="1340.5" y1="101" x2="1340.5" y2="158" stroke="#00ffff"/>
<line x1="1351.5" y1="101" x2="1351.5" y2="158" stroke="#00ffff"/>
<line x1="1362.5" y1="101" x2="1362.5" y2="158" stroke="#00ffff"/>
<line x1="1372.5" y1="101" x2="1372.5" y2="158" stroke="#00ffff"/>
<line x1="1383.5" y1="101" x2="1383.5" y2="158" stroke="#00ffff"/>
<line x1="1394.5" y1="101" x2="1394.5" y2="158" stroke="#00ffff"/>
<line x1="1405.5" y1="101" x2="1405.5" y2="158" stroke="#00ffff"/>
<line x1="1416.5" y1="101" x2="1416.5" y2="158" stroke="#00ffff"/>
<line x1="1427.5" y1="101" x2="1427.5" y2="158" stroke="#00ffff"/>
<line x1="1438.5" y1="101" x2="1438.5" y2="158" stroke="#00ffff"/>
<line x1="1447.5" y1="101" x2="1447.5" y2="158" stroke="#00ffff"/>
<line x1="1337" y1="157.5" x2="1451" y2="157.5" stroke="#00ffff"/>
<line x1="1340" y1="159.5" x2="1448" y2="159.5" stroke="#00ffff"/>
<polyline points="1274.5,200.5 1274.5,151.5 1282.5,151.5 1282.5,158.5" fill="none" stroke="#ffff00"/>
<line x1="1493.5" y1="100" x2="1493.5" y2="278" stroke="#00ff00"/>
<line x1="1477" y1="101.5" x2="1498" y2="101.5" stroke="#00ff00"/>
<line x1="1477" y1="159.5" x2="1498" y2="159.5" stroke="#00ff00"/>
<line x1="1477" y1="218.5" x2="1498" y2="218.5" stroke="#00ff00"/>
<line x1="1477" y1="276.5" x2="1498" y2="276.5" stroke="#00ff00"/>
<line x1="1237" y1="162.5" x2="1258" y2="162.5" stroke="#00ff00"/>
<circle cx="1223.8" cy="280.3" r="7" fill="none" stroke="#00ff00"/>
<line x1="1230" y1="280.5" x2="1262" y2="280.5" stroke="#00ff00"/>
<line x1="1311" y1="131.5" x2="1422" y2="131.5" stroke="#00ff00"/>
<line x1="1447.5" y1="101" x2="1447.5" y2="160" stroke="#00ffff"/>
<line x1="1450.5" y1="101" x2="1450.5" y2="158" stroke="#00ffff"/>
<line x1="1296" y1="122.5" x2="1322" y2="122.5" stroke="#00ff00"/>
<polyline points="1296.5,122.5 1301.5,127.5 1306.5,122.5" fill="none" stroke="#00ff00"/>
<line x1="1274.5" y1="151" x2="1274.5" y2="285" stroke="#ffff00"/>
<line x1="1282.5" y1="221" x2="1282.5" y2="277" stroke="#ffff00"/>
<line x1="1282" y1="162.5" x2="1338" y2="162.5" stroke="#00ffff"/>
<line x1="1282" y1="172.5" x2="1338" y2="172.5" stroke="#00ffff"/>
<line x1="1282" y1="183.5" x2="1338" y2="183.5" stroke="#00ffff"/>
<line x1="1282" y1="194.5" x2="1338" y2="194.5" stroke="#00ffff"/>
<line x1="1282" y1="205.5" x2="1338" y2="205.5" stroke="#00ffff"/>
<line x1="1282" y1="216.5" x2="1338" y2="216.5" stroke="#00ffff"/>
<path d="M1337.8 157.3 H 1450.3 V 183.6 A 37 37 0 0 1 1414.5 221 H 1337.8 Z" fill="none" stroke="#00ffff"/>
<path d="M1341 159.5 H 1447.5 V 183.6 A 34 34 0 0 1 1414.5 218.3 H 1341 Z" fill="none" stroke="#00ffff"/>
<polyline points="1342.5,216.5 1358.5,173.5 1445.5,159.5" fill="none" stroke="#ffffff"/>
<line x1="1406.2" y1="176.3" x2="1428.2" y2="212" stroke="#00ff00"/>
<line x1="1341.5" y1="221" x2="1341.5" y2="277" stroke="#00ffff"/>
<line x1="1351.5" y1="221" x2="1351.5" y2="277" stroke="#00ffff"/>
<line x1="1362.5" y1="221" x2="1362.5" y2="277" stroke="#00ffff"/>
<line x1="1373.5" y1="221" x2="1373.5" y2="277" stroke="#00ffff"/>
<line x1="1384.5" y1="221" x2="1384.5" y2="277" stroke="#00ffff"/>
<line x1="1394.5" y1="221" x2="1394.5" y2="277" stroke="#00ffff"/>
<line x1="1405.5" y1="221" x2="1405.5" y2="277" stroke="#00ffff"/>
<line x1="1312.5" y1="130" x2="1312.5" y2="249" stroke="#00ff00"/>
<line x1="1312" y1="248.5" x2="1416" y2="248.5" stroke="#00ff00"/>
<line x1="1299" y1="262.5" x2="1325" y2="262.5" stroke="#00ff00"/>
<polyline points="1299.5,262.5 1304.5,267.5 1309.5,262.5" fill="none" stroke="#00ff00"/>
<line x1="1439" y1="241.5" x2="1465" y2="241.5" stroke="#00ff00"/>
<polyline points="1439.5,241.5 1444.5,246.5 1449.5,241.5" fill="none" stroke="#00ff00"/>
<line x1="1282" y1="276.5" x2="1342" y2="276.5" stroke="#ffff00"/>
<line x1="1341" y1="276.5" x2="1450" y2="276.5" stroke="#00ffff"/>
<line x1="1449" y1="276.5" x2="1478" y2="276.5" stroke="#ffff00"/>
<line x1="1274" y1="284.5" x2="1478" y2="284.5" stroke="#ffff00"/>
<line x1="1477.5" y1="276" x2="1477.5" y2="285" stroke="#ffff00"/>
<line x1="1348.5" y1="276" x2="1348.5" y2="285" stroke="#00ffff"/>
<line x1="1424.5" y1="276" x2="1424.5" y2="285" stroke="#00ffff"/>
<line x1="1351" y1="278.5" x2="1359" y2="278.5" stroke="#00ffff"/>
<line x1="1363" y1="278.5" x2="1371" y2="278.5" stroke="#00ffff"/>
<line x1="1376" y1="278.5" x2="1384" y2="278.5" stroke="#00ffff"/>
<line x1="1388" y1="278.5" x2="1396" y2="278.5" stroke="#00ffff"/>
<line x1="1400" y1="278.5" x2="1408" y2="278.5" stroke="#00ffff"/>
<line x1="1413" y1="278.5" x2="1421" y2="278.5" stroke="#00ffff"/>
<line x1="1351" y1="282.5" x2="1359" y2="282.5" stroke="#00ffff"/>
<line x1="1363" y1="282.5" x2="1371" y2="282.5" stroke="#00ffff"/>
<line x1="1376" y1="282.5" x2="1384" y2="282.5" stroke="#00ffff"/>
<line x1="1388" y1="282.5" x2="1396" y2="282.5" stroke="#00ffff"/>
<line x1="1400" y1="282.5" x2="1408" y2="282.5" stroke="#00ffff"/>
<line x1="1413" y1="282.5" x2="1421" y2="282.5" stroke="#00ffff"/>
<line x1="1237" y1="216.5" x2="1257" y2="216.5" stroke="#00ff00"/>
<line x1="1276" y1="310.5" x2="1465" y2="310.5" stroke="#00ff00"/>
<line x1="1279.5" y1="296" x2="1279.5" y2="316" stroke="#00ff00"/>
<line x1="1341.5" y1="296" x2="1341.5" y2="316" stroke="#00ff00"/>
<line x1="1405.5" y1="296" x2="1405.5" y2="316" stroke="#00ff00"/>
<line x1="1461.5" y1="296" x2="1461.5" y2="316" stroke="#00ff00"/>
<line x1="1334" y1="349.5" x2="1389" y2="349.5" stroke="#ffffff"/>
<line x1="1334" y1="351.5" x2="1389" y2="351.5" stroke="#ffffff"/>
<circle cx="118.6" cy="549" r="7" fill="none" stroke="#00ff00"/>
<circle cx="248.1" cy="549" r="7" fill="none" stroke="#00ff00"/>
<line x1="118.5" y1="556" x2="118.5" y2="589" stroke="#00ff00"/>
<line x1="248.5" y1="556" x2="248.5" y2="589" stroke="#00ff00"/>
<line x1="116" y1="565.5" x2="252" y2="565.5" stroke="#00ff00"/>
<line x1="115" y1="578.5" x2="252" y2="578.5" stroke="#00ff00"/>
<line x1="122.5" y1="574" x2="122.5" y2="589" stroke="#00ff00"/>
<line x1="180.5" y1="574" x2="180.5" y2="589" stroke="#00ff00"/>
<line x1="185.5" y1="574" x2="185.5" y2="589" stroke="#00ff00"/>
<line x1="243.5" y1="574" x2="243.5" y2="589" stroke="#00ff00"/>
<path d="M117 567 h1 v-1 h1 v-1 h1 v-1 h-1 v1 h-1 v1 h-1 z" fill="#00ff00" stroke="none"/>
<path d="M247 567 h1 v-1 h1 v-1 h1 v-1 h-1 v1 h-1 v1 h-1 z" fill="#00ff00" stroke="none"/>
<path d="M117 580 h1 v-1 h1 v-1 h1 v-1 h-1 v1 h-1 v1 h-1 z" fill="#00ff00" stroke="none"/>
<path d="M121 580 h1 v-1 h1 v-1 h1 v-1 h-1 v1 h-1 v1 h-1 z" fill="#00ff00" stroke="none"/>
<path d="M179 580 h1 v-1 h1 v-1 h1 v-1 h-1 v1 h-1 v1 h-1 z" fill="#00ff00" stroke="none"/>
<path d="M184 580 h1 v-1 h1 v-1 h1 v-1 h-1 v1 h-1 v1 h-1 z" fill="#00ff00" stroke="none"/>
<path d="M242 580 h1 v-1 h1 v-1 h1 v-1 h-1 v1 h-1 v1 h-1 z" fill="#00ff00" stroke="none"/>
<path d="M247 580 h1 v-1 h1 v-1 h1 v-1 h-1 v1 h-1 v1 h-1 z" fill="#00ff00" stroke="none"/>
<line x1="118.6" y1="629.5" x2="149.8" y2="618.9" stroke="#ffff00"/>
<line x1="211.66" y1="597.88" x2="252.5" y2="584" stroke="#ffff00"/>
<line x1="123" y1="637" x2="151.97" y2="627.28" stroke="#ffff00"/>
<line x1="214.13" y1="606.42" x2="243.7" y2="596.5" stroke="#ffff00"/>
<line x1="149.8" y1="618.9" x2="151.97" y2="627.28" stroke="#ffff00"/>
<line x1="211.66" y1="597.88" x2="214.13" y2="606.42" stroke="#ffff00"/>
<line x1="149.8" y1="618.9" x2="211.66" y2="597.88" stroke="#00ffff"/>
<line x1="150.34" y1="620.99" x2="212.28" y2="600.01" stroke="#00ffff"/>
<line x1="150.88" y1="623.09" x2="212.89" y2="602.15" stroke="#00ffff"/>
<line x1="151.43" y1="625.18" x2="213.51" y2="604.29" stroke="#00ffff"/>
<line x1="151.97" y1="627.28" x2="214.13" y2="606.42" stroke="#00ffff"/>
<line x1="114.5" y1="631" x2="114.5" y2="897" stroke="#ffff00"/>
<line x1="123.5" y1="639" x2="123.5" y2="737" stroke="#ffff00"/>
<line x1="123.5" y1="736" x2="123.5" y2="888" stroke="#00ffff"/>
<line x1="252.5" y1="584" x2="252.5" y2="785" stroke="#ffff00"/>
<line x1="243.5" y1="597" x2="243.5" y2="785" stroke="#ffff00"/>
<line x1="243" y1="784.5" x2="253" y2="784.5" stroke="#ffff00"/>
<line x1="243.5" y1="838" x2="243.5" y2="892" stroke="#ffff00"/>
<line x1="252.5" y1="838" x2="252.5" y2="892" stroke="#ffff00"/>
<line x1="243" y1="838.5" x2="253" y2="838.5" stroke="#ffff00"/>
<circle cx="118.6" cy="633.5" r="3.6" fill="none" stroke="#ffffff"/>
<circle cx="248.1" cy="590" r="3.6" fill="none" stroke="#ffffff"/>
<circle cx="248.1" cy="676" r="3.6" fill="none" stroke="#ffffff"/>
<circle cx="118.8" cy="891.9" r="3.6" fill="none" stroke="#ffffff"/>
<circle cx="247.7" cy="891.9" r="3.6" fill="none" stroke="#ffffff"/>
<circle cx="303.2" cy="676.1" r="7" fill="none" stroke="#00ff00"/>
<line x1="261" y1="676.5" x2="297" y2="676.5" stroke="#00ff00"/>
<circle cx="303.2" cy="891.4" r="7" fill="none" stroke="#00ff00"/>
<line x1="260" y1="891.5" x2="297" y2="891.5" stroke="#00ff00"/>
<line x1="290.5" y1="589" x2="290.5" y2="892" stroke="#00ff00"/>
<line x1="265" y1="590.5" x2="294" y2="590.5" stroke="#00ff00"/>
<line x1="279.5" y1="852" x2="279.5" y2="893" stroke="#00ff00"/>
<line x1="270" y1="855.5" x2="284" y2="855.5" stroke="#00ff00"/>
<line x1="270" y1="865.5" x2="284" y2="865.5" stroke="#00ff00"/>
<line x1="91.5" y1="632" x2="91.5" y2="895" stroke="#00ff00"/>
<path d="M90 635 h1 v-1 h1 v-1 h1 v-1 h-1 v1 h-1 v1 h-1 z" fill="#00ff00" stroke="none"/>
<path d="M90 738 h1 v-1 h1 v-1 h1 v-1 h-1 v1 h-1 v1 h-1 z" fill="#00ff00" stroke="none"/>
<path d="M90 889 h1 v-1 h1 v-1 h1 v-1 h-1 v1 h-1 v1 h-1 z" fill="#00ff00" stroke="none"/>
<path d="M90 893 h1 v-1 h1 v-1 h1 v-1 h-1 v1 h-1 v1 h-1 z" fill="#00ff00" stroke="none"/>
<path d="M289 592 h1 v-1 h1 v-1 h1 v-1 h-1 v1 h-1 v1 h-1 z" fill="#00ff00" stroke="none"/>
<path d="M289 678 h1 v-1 h1 v-1 h1 v-1 h-1 v1 h-1 v1 h-1 z" fill="#00ff00" stroke="none"/>
<path d="M289 893 h1 v-1 h1 v-1 h1 v-1 h-1 v1 h-1 v1 h-1 z" fill="#00ff00" stroke="none"/>
<path d="M278 857 h1 v-1 h1 v-1 h1 v-1 h-1 v1 h-1 v1 h-1 z" fill="#00ff00" stroke="none"/>
<path d="M278 867 h1 v-1 h1 v-1 h1 v-1 h-1 v1 h-1 v1 h-1 z" fill="#00ff00" stroke="none"/>
<path d="M278 893 h1 v-1 h1 v-1 h1 v-1 h-1 v1 h-1 v1 h-1 z" fill="#00ff00" stroke="none"/>
<line x1="87" y1="633.5" x2="102" y2="633.5" stroke="#00ff00"/>
<line x1="87" y1="736.5" x2="102" y2="736.5" stroke="#00ff00"/>
<line x1="87" y1="887.5" x2="102" y2="887.5" stroke="#00ff00"/>
<line x1="87" y1="891.5" x2="102" y2="891.5" stroke="#00ff00"/>
<polyline points="162.5,663.5 162.5,637.5 181.5,637.5" fill="none" stroke="#00ff00"/>
<polyline points="162.5,926.5 162.5,952.5 180.5,952.5" fill="none" stroke="#00ff00"/>
<line x1="124" y1="736.5" x2="128" y2="736.5" stroke="#ffffff"/>
<line x1="130" y1="736.5" x2="134" y2="736.5" stroke="#ffffff"/>
<line x1="136" y1="736.5" x2="140" y2="736.5" stroke="#ffffff"/>
<line x1="142" y1="736.5" x2="146" y2="736.5" stroke="#ffffff"/>
<line x1="148" y1="736.5" x2="152" y2="736.5" stroke="#ffffff"/>
<line x1="154" y1="736.5" x2="158" y2="736.5" stroke="#ffffff"/>
<line x1="160" y1="736.5" x2="164" y2="736.5" stroke="#ffffff"/>
<line x1="166" y1="736.5" x2="170" y2="736.5" stroke="#ffffff"/>
<line x1="172" y1="736.5" x2="176" y2="736.5" stroke="#ffffff"/>
<line x1="178" y1="736.5" x2="182" y2="736.5" stroke="#ffffff"/>
<line x1="180.5" y1="737" x2="180.5" y2="741" stroke="#ffffff"/>
<line x1="180.5" y1="743" x2="180.5" y2="747" stroke="#ffffff"/>
<line x1="180.5" y1="749" x2="180.5" y2="753" stroke="#ffffff"/>
<line x1="180.5" y1="755" x2="180.5" y2="759" stroke="#ffffff"/>
<line x1="180.5" y1="761" x2="180.5" y2="765" stroke="#ffffff"/>
<line x1="180.5" y1="767" x2="180.5" y2="771" stroke="#ffffff"/>
<line x1="180.5" y1="773" x2="180.5" y2="777" stroke="#ffffff"/>
<line x1="180.5" y1="779" x2="180.5" y2="783" stroke="#ffffff"/>
<line x1="180.5" y1="785" x2="180.5" y2="789" stroke="#ffffff"/>
<line x1="180.5" y1="791" x2="180.5" y2="795" stroke="#ffffff"/>
<line x1="180.5" y1="797" x2="180.5" y2="801" stroke="#ffffff"/>
<line x1="180.5" y1="803" x2="180.5" y2="807" stroke="#ffffff"/>
<line x1="180.5" y1="809" x2="180.5" y2="813" stroke="#ffffff"/>
<line x1="123" y1="790.5" x2="150" y2="790.5" stroke="#00ffff"/>
<line x1="123" y1="801.5" x2="168" y2="801.5" stroke="#00ffff"/>
<line x1="123" y1="812.5" x2="179" y2="812.5" stroke="#00ffff"/>
<line x1="123" y1="822.5" x2="179" y2="822.5" stroke="#00ffff"/>
<line x1="123" y1="833.5" x2="179" y2="833.5" stroke="#00ffff"/>
<line x1="123" y1="844.5" x2="179" y2="844.5" stroke="#00ffff"/>
<line x1="123" y1="855.5" x2="179" y2="855.5" stroke="#00ffff"/>
<line x1="123" y1="865.5" x2="179" y2="865.5" stroke="#00ffff"/>
<line x1="123" y1="876.5" x2="179" y2="876.5" stroke="#00ffff"/>
<line x1="123" y1="887.5" x2="179" y2="887.5" stroke="#00ffff"/>
<polyline points="122.5,776.5 149.5,791.5 150.5,787.5 151.5,797.5 152.5,792.5 181.5,810.5" fill="none" stroke="#00ffff"/>
<line x1="178.5" y1="810" x2="178.5" y2="888" stroke="#00ffff"/>
<line x1="180.5" y1="810" x2="180.5" y2="888" stroke="#00ffff"/>
<line x1="180" y1="855.5" x2="244" y2="855.5" stroke="#00ffff"/>
<line x1="180" y1="865.5" x2="244" y2="865.5" stroke="#00ffff"/>
<line x1="152.5" y1="812" x2="152.5" y2="898" stroke="#00ff00"/>
<line x1="222" y1="785.5" x2="248" y2="785.5" stroke="#00ffff"/>
<line x1="222" y1="836.5" x2="248" y2="836.5" stroke="#00ffff"/>
<path d="M222.6 786 A 26 26 0 0 0 247.7 811.4" fill="none" stroke="#00ffff"/>
<path d="M247.7 811.4 A 26 26 0 0 0 222.6 836" fill="none" stroke="#00ffff"/>
<line x1="192" y1="761.5" x2="222" y2="761.5" stroke="#00ff00"/>
<polyline points="192.5,761.5 197.5,766.5 202.5,761.5" fill="none" stroke="#00ff00"/>
<line x1="170" y1="912.5" x2="200" y2="912.5" stroke="#00ff00"/>
<polyline points="170.5,912.5 175.5,917.5 180.5,912.5" fill="none" stroke="#00ff00"/>
<line x1="200" y1="940.5" x2="255" y2="940.5" stroke="#ffffff"/>
<line x1="200" y1="942.5" x2="255" y2="942.5" stroke="#ffffff"/>
<circle cx="359.4" cy="575.4" r="7" fill="none" stroke="#00ff00"/>
<circle cx="488.3" cy="575.4" r="7" fill="none" stroke="#00ff00"/>
<line x1="359.5" y1="582" x2="359.5" y2="615" stroke="#00ff00"/>
<line x1="488.5" y1="582" x2="488.5" y2="615" stroke="#00ff00"/>
<line x1="357" y1="592.5" x2="492" y2="592.5" stroke="#00ff00"/>
<line x1="356" y1="604.5" x2="492" y2="604.5" stroke="#00ff00"/>
<line x1="363.5" y1="600" x2="363.5" y2="615" stroke="#00ff00"/>
<line x1="421.5" y1="600" x2="421.5" y2="615" stroke="#00ff00"/>
<line x1="426.5" y1="600" x2="426.5" y2="615" stroke="#00ff00"/>
<line x1="484.5" y1="600" x2="484.5" y2="615" stroke="#00ff00"/>
<path d="M358 594 h1 v-1 h1 v-1 h1 v-1 h-1 v1 h-1 v1 h-1 z" fill="#00ff00" stroke="none"/>
<path d="M487 594 h1 v-1 h1 v-1 h1 v-1 h-1 v1 h-1 v1 h-1 z" fill="#00ff00" stroke="none"/>
<path d="M358 606 h1 v-1 h1 v-1 h1 v-1 h-1 v1 h-1 v1 h-1 z" fill="#00ff00" stroke="none"/>
<path d="M362 606 h1 v-1 h1 v-1 h1 v-1 h-1 v1 h-1 v1 h-1 z" fill="#00ff00" stroke="none"/>
<path d="M420 606 h1 v-1 h1 v-1 h1 v-1 h-1 v1 h-1 v1 h-1 z" fill="#00ff00" stroke="none"/>
<path d="M425 606 h1 v-1 h1 v-1 h1 v-1 h-1 v1 h-1 v1 h-1 z" fill="#00ff00" stroke="none"/>
<path d="M483 606 h1 v-1 h1 v-1 h1 v-1 h-1 v1 h-1 v1 h-1 z" fill="#00ff00" stroke="none"/>
<path d="M487 606 h1 v-1 h1 v-1 h1 v-1 h-1 v1 h-1 v1 h-1 z" fill="#00ff00" stroke="none"/>
<line x1="359.4" y1="629.8" x2="400.53" y2="642.99" stroke="#ffff00"/>
<line x1="452.3" y1="659.6" x2="492.5" y2="672.5" stroke="#ffff00"/>
<line x1="363.4" y1="639.7" x2="398.28" y2="651.22" stroke="#ffff00"/>
<line x1="449.26" y1="668.06" x2="484.5" y2="679.7" stroke="#ffff00"/>
<line x1="400.53" y1="642.99" x2="398.28" y2="651.22" stroke="#ffff00"/>
<line x1="452.3" y1="659.6" x2="449.26" y2="668.06" stroke="#ffff00"/>
<line x1="400.53" y1="642.99" x2="452.3" y2="659.6" stroke="#00ffff"/>
<line x1="399.97" y1="645.05" x2="451.54" y2="661.72" stroke="#00ffff"/>
<line x1="399.4" y1="647.11" x2="450.78" y2="663.83" stroke="#00ffff"/>
<line x1="398.84" y1="649.16" x2="450.02" y2="665.95" stroke="#00ffff"/>
<line x1="398.28" y1="651.22" x2="449.26" y2="668.06" stroke="#00ffff"/>
<line x1="355.5" y1="634" x2="355.5" y2="897" stroke="#ffff00"/>
<line x1="363.5" y1="639" x2="363.5" y2="737" stroke="#ffff00"/>
<line x1="363.5" y1="736" x2="363.5" y2="877" stroke="#00ffff"/>
<line x1="363.5" y1="876" x2="363.5" y2="891" stroke="#ffff00"/>
<circle cx="359.4" cy="633.5" r="3.6" fill="none" stroke="#ffffff"/>
<circle cx="488.3" cy="676.1" r="3.6" fill="none" stroke="#ffffff"/>
<line x1="492.5" y1="673" x2="492.5" y2="844" stroke="#ffff00"/>
<line x1="484.5" y1="679" x2="484.5" y2="844" stroke="#ffff00"/>
<line x1="484" y1="843.5" x2="493" y2="843.5" stroke="#ffff00"/>
<line x1="485.5" y1="843" x2="485.5" y2="888" stroke="#00ffff"/>
<line x1="487.5" y1="843" x2="487.5" y2="888" stroke="#00ffff"/>
<line x1="490.5" y1="843" x2="490.5" y2="888" stroke="#00ffff"/>
<line x1="492.5" y1="843" x2="492.5" y2="888" stroke="#00ffff"/>
<circle cx="359.3" cy="892" r="3.6" fill="none" stroke="#ffffff"/>
<circle cx="489" cy="892" r="3.6" fill="none" stroke="#ffffff"/>
<circle cx="544.2" cy="676.1" r="7" fill="none" stroke="#00ff00"/>
<line x1="501" y1="676.5" x2="538" y2="676.5" stroke="#00ff00"/>
<circle cx="544" cy="892" r="7" fill="none" stroke="#00ff00"/>
<line x1="501" y1="892.5" x2="538" y2="892.5" stroke="#00ff00"/>
<line x1="530.5" y1="632" x2="530.5" y2="893" stroke="#00ff00"/>
<line x1="506" y1="633.5" x2="535" y2="633.5" stroke="#00ff00"/>
<line x1="518.5" y1="675" x2="518.5" y2="893" stroke="#00ff00"/>
<path d="M529 635 h1 v-1 h1 v-1 h1 v-1 h-1 v1 h-1 v1 h-1 z" fill="#00ff00" stroke="none"/>
<path d="M529 678 h1 v-1 h1 v-1 h1 v-1 h-1 v1 h-1 v1 h-1 z" fill="#00ff00" stroke="none"/>
<path d="M529 894 h1 v-1 h1 v-1 h1 v-1 h-1 v1 h-1 v1 h-1 z" fill="#00ff00" stroke="none"/>
<path d="M517 678 h1 v-1 h1 v-1 h1 v-1 h-1 v1 h-1 v1 h-1 z" fill="#00ff00" stroke="none"/>
<path d="M517 894 h1 v-1 h1 v-1 h1 v-1 h-1 v1 h-1 v1 h-1 z" fill="#00ff00" stroke="none"/>
<path d="M330 635 h1 v-1 h1 v-1 h1 v-1 h-1 v1 h-1 v1 h-1 z" fill="#00ff00" stroke="none"/>
<path d="M330 738 h1 v-1 h1 v-1 h1 v-1 h-1 v1 h-1 v1 h-1 z" fill="#00ff00" stroke="none"/>
<path d="M330 878 h1 v-1 h1 v-1 h1 v-1 h-1 v1 h-1 v1 h-1 z" fill="#00ff00" stroke="none"/>
<path d="M330 893 h1 v-1 h1 v-1 h1 v-1 h-1 v1 h-1 v1 h-1 z" fill="#00ff00" stroke="none"/>
<line x1="510" y1="758.5" x2="522" y2="758.5" stroke="#00ff00"/>
<path d="M517 760 h1 v-1 h1 v-1 h1 v-1 h-1 v1 h-1 v1 h-1 z" fill="#00ff00" stroke="none"/>
<line x1="510" y1="844.5" x2="522" y2="844.5" stroke="#00ff00"/>
<path d="M517 846 h1 v-1 h1 v-1 h1 v-1 h-1 v1 h-1 v1 h-1 z" fill="#00ff00" stroke="none"/>
<line x1="331.5" y1="632" x2="331.5" y2="894" stroke="#00ff00"/>
<line x1="327" y1="633.5" x2="342" y2="633.5" stroke="#00ff00"/>
<line x1="327" y1="736.5" x2="342" y2="736.5" stroke="#00ff00"/>
<line x1="327" y1="876.5" x2="342" y2="876.5" stroke="#00ff00"/>
<line x1="327" y1="891.5" x2="342" y2="891.5" stroke="#00ff00"/>
<line x1="407" y1="696.5" x2="432" y2="696.5" stroke="#00ff00"/>
<polyline points="407.5,696.5 412.5,701.5 417.5,696.5" fill="none" stroke="#00ff00"/>
<line x1="393" y1="716.5" x2="458" y2="716.5" stroke="#00ff00"/>
<line x1="393.5" y1="716" x2="393.5" y2="774" stroke="#00ff00"/>
<line x1="457.5" y1="716" x2="457.5" y2="863" stroke="#00ff00"/>
<line x1="363" y1="736.5" x2="419" y2="736.5" stroke="#00ffff"/>
<line x1="363" y1="747.5" x2="419" y2="747.5" stroke="#00ffff"/>
<line x1="363" y1="758.5" x2="419" y2="758.5" stroke="#00ffff"/>
<line x1="363" y1="768.5" x2="419" y2="768.5" stroke="#00ffff"/>
<line x1="363" y1="779.5" x2="419" y2="779.5" stroke="#00ffff"/>
<line x1="363" y1="790.5" x2="419" y2="790.5" stroke="#00ffff"/>
<line x1="363" y1="801.5" x2="419" y2="801.5" stroke="#00ffff"/>
<line x1="363" y1="812.5" x2="419" y2="812.5" stroke="#00ffff"/>
<line x1="363" y1="822.5" x2="419" y2="822.5" stroke="#00ffff"/>
<line x1="363" y1="833.5" x2="419" y2="833.5" stroke="#00ffff"/>
<line x1="363" y1="844.5" x2="419" y2="844.5" stroke="#00ffff"/>
<line x1="363" y1="855.5" x2="419" y2="855.5" stroke="#00ffff"/>
<line x1="363" y1="865.5" x2="419" y2="865.5" stroke="#00ffff"/>
<line x1="363" y1="876.5" x2="419" y2="876.5" stroke="#00ffff"/>
<polygon points="418.5,734.5 429.5,734.5 429.5,878.5 418.5,878.5" fill="none" stroke="#00ffff"/>
<polygon points="421.5,736.5 426.5,736.5 426.5,876.5 421.5,876.5" fill="none" stroke="#00ffff"/>
<line x1="362.5" y1="772.5" x2="422.6" y2="810" stroke="#00ffff"/>
<line x1="362.5" y1="776" x2="421" y2="813" stroke="#00ffff"/>
<polyline points="389.5,789.5 390.5,784.5 392.5,795.5 393.5,790.5" fill="none" stroke="#00ffff"/>
<line x1="393.5" y1="812" x2="393.5" y2="898" stroke="#00ff00"/>
<line x1="414" y1="916.5" x2="439" y2="916.5" stroke="#00ff00"/>
<polyline points="414.5,916.5 419.5,921.5 424.5,916.5" fill="none" stroke="#00ff00"/>
<line x1="429" y1="758.5" x2="485" y2="758.5" stroke="#00ffff"/>
<line x1="429" y1="768.5" x2="485" y2="768.5" stroke="#00ffff"/>
<line x1="429" y1="779.5" x2="485" y2="779.5" stroke="#00ffff"/>
<line x1="429" y1="790.5" x2="485" y2="790.5" stroke="#00ffff"/>
<line x1="429" y1="801.5" x2="485" y2="801.5" stroke="#00ffff"/>
<line x1="429" y1="812.5" x2="485" y2="812.5" stroke="#00ffff"/>
<line x1="429" y1="822.5" x2="485" y2="822.5" stroke="#00ffff"/>
<line x1="429" y1="833.5" x2="485" y2="833.5" stroke="#00ffff"/>
<line x1="429" y1="844.5" x2="485" y2="844.5" stroke="#00ffff"/>
<line x1="441" y1="940.5" x2="495" y2="940.5" stroke="#ffffff"/>
<line x1="441" y1="942.5" x2="495" y2="942.5" stroke="#ffffff"/>
<circle cx="599.9" cy="575.4" r="7" fill="none" stroke="#00ff00"/>
<circle cx="728.8" cy="575.4" r="7" fill="none" stroke="#00ff00"/>
<line x1="599.5" y1="582" x2="599.5" y2="615" stroke="#00ff00"/>
<line x1="728.5" y1="582" x2="728.5" y2="615" stroke="#00ff00"/>
<line x1="597" y1="592.5" x2="732" y2="592.5" stroke="#00ff00"/>
<line x1="596" y1="604.5" x2="733" y2="604.5" stroke="#00ff00"/>
<line x1="603.5" y1="600" x2="603.5" y2="615" stroke="#00ff00"/>
<line x1="661.5" y1="600" x2="661.5" y2="615" stroke="#00ff00"/>
<line x1="666.5" y1="600" x2="666.5" y2="615" stroke="#00ff00"/>
<line x1="724.5" y1="600" x2="724.5" y2="615" stroke="#00ff00"/>
<path d="M598 594 h1 v-1 h1 v-1 h1 v-1 h-1 v1 h-1 v1 h-1 z" fill="#00ff00" stroke="none"/>
<path d="M727 594 h1 v-1 h1 v-1 h1 v-1 h-1 v1 h-1 v1 h-1 z" fill="#00ff00" stroke="none"/>
<path d="M598 606 h1 v-1 h1 v-1 h1 v-1 h-1 v1 h-1 v1 h-1 z" fill="#00ff00" stroke="none"/>
<path d="M602 606 h1 v-1 h1 v-1 h1 v-1 h-1 v1 h-1 v1 h-1 z" fill="#00ff00" stroke="none"/>
<path d="M660 606 h1 v-1 h1 v-1 h1 v-1 h-1 v1 h-1 v1 h-1 z" fill="#00ff00" stroke="none"/>
<path d="M665 606 h1 v-1 h1 v-1 h1 v-1 h-1 v1 h-1 v1 h-1 z" fill="#00ff00" stroke="none"/>
<path d="M723 606 h1 v-1 h1 v-1 h1 v-1 h-1 v1 h-1 v1 h-1 z" fill="#00ff00" stroke="none"/>
<path d="M727 606 h1 v-1 h1 v-1 h1 v-1 h-1 v1 h-1 v1 h-1 z" fill="#00ff00" stroke="none"/>
<line x1="599.9" y1="629.8" x2="641.03" y2="642.99" stroke="#ffff00"/>
<line x1="692.8" y1="659.6" x2="733" y2="672.5" stroke="#ffff00"/>
<line x1="603.9" y1="639.7" x2="638.78" y2="651.22" stroke="#ffff00"/>
<line x1="689.76" y1="668.06" x2="725" y2="679.7" stroke="#ffff00"/>
<line x1="641.03" y1="642.99" x2="638.78" y2="651.22" stroke="#ffff00"/>
<line x1="692.8" y1="659.6" x2="689.76" y2="668.06" stroke="#ffff00"/>
<line x1="641.03" y1="642.99" x2="692.8" y2="659.6" stroke="#00ffff"/>
<line x1="640.47" y1="645.05" x2="692.04" y2="661.72" stroke="#00ffff"/>
<line x1="639.9" y1="647.11" x2="691.28" y2="663.83" stroke="#00ffff"/>
<line x1="639.34" y1="649.16" x2="690.52" y2="665.95" stroke="#00ffff"/>
<line x1="638.78" y1="651.22" x2="689.76" y2="668.06" stroke="#00ffff"/>
<line x1="595.5" y1="634" x2="595.5" y2="897" stroke="#ffff00"/>
<line x1="603.5" y1="639" x2="603.5" y2="737" stroke="#ffff00"/>
<line x1="603.5" y1="736" x2="603.5" y2="887" stroke="#00ffff"/>
<circle cx="599.9" cy="633.5" r="3.6" fill="none" stroke="#ffffff"/>
<circle cx="728.8" cy="676.1" r="3.6" fill="none" stroke="#ffffff"/>
<line x1="733.5" y1="673" x2="733.5" y2="844" stroke="#ffff00"/>
<line x1="724.5" y1="679" x2="724.5" y2="844" stroke="#ffff00"/>
<line x1="724" y1="843.5" x2="734" y2="843.5" stroke="#ffff00"/>
<line x1="725.5" y1="843" x2="725.5" y2="888" stroke="#00ffff"/>
<line x1="728.5" y1="843" x2="728.5" y2="888" stroke="#00ffff"/>
<line x1="730.5" y1="843" x2="730.5" y2="888" stroke="#00ffff"/>
<line x1="732.5" y1="843" x2="732.5" y2="888" stroke="#00ffff"/>
<circle cx="599.8" cy="892" r="3.6" fill="none" stroke="#ffffff"/>
<circle cx="729.5" cy="892" r="3.6" fill="none" stroke="#ffffff"/>
<circle cx="784.7" cy="676.1" r="7" fill="none" stroke="#00ff00"/>
<line x1="741" y1="676.5" x2="778" y2="676.5" stroke="#00ff00"/>
<circle cx="784.5" cy="892" r="7" fill="none" stroke="#00ff00"/>
<line x1="742" y1="892.5" x2="778" y2="892.5" stroke="#00ff00"/>
<line x1="771.5" y1="632" x2="771.5" y2="893" stroke="#00ff00"/>
<line x1="746" y1="633.5" x2="775" y2="633.5" stroke="#00ff00"/>
<line x1="759.5" y1="675" x2="759.5" y2="893" stroke="#00ff00"/>
<path d="M770 635 h1 v-1 h1 v-1 h1 v-1 h-1 v1 h-1 v1 h-1 z" fill="#00ff00" stroke="none"/>
<path d="M770 678 h1 v-1 h1 v-1 h1 v-1 h-1 v1 h-1 v1 h-1 z" fill="#00ff00" stroke="none"/>
<path d="M770 894 h1 v-1 h1 v-1 h1 v-1 h-1 v1 h-1 v1 h-1 z" fill="#00ff00" stroke="none"/>
<path d="M758 678 h1 v-1 h1 v-1 h1 v-1 h-1 v1 h-1 v1 h-1 z" fill="#00ff00" stroke="none"/>
<path d="M758 894 h1 v-1 h1 v-1 h1 v-1 h-1 v1 h-1 v1 h-1 z" fill="#00ff00" stroke="none"/>
<path d="M570 635 h1 v-1 h1 v-1 h1 v-1 h-1 v1 h-1 v1 h-1 z" fill="#00ff00" stroke="none"/>
<path d="M570 738 h1 v-1 h1 v-1 h1 v-1 h-1 v1 h-1 v1 h-1 z" fill="#00ff00" stroke="none"/>
<path d="M570 878 h1 v-1 h1 v-1 h1 v-1 h-1 v1 h-1 v1 h-1 z" fill="#00ff00" stroke="none"/>
<path d="M570 893 h1 v-1 h1 v-1 h1 v-1 h-1 v1 h-1 v1 h-1 z" fill="#00ff00" stroke="none"/>
<line x1="750" y1="747.5" x2="762" y2="747.5" stroke="#00ff00"/>
<path d="M758 749 h1 v-1 h1 v-1 h1 v-1 h-1 v1 h-1 v1 h-1 z" fill="#00ff00" stroke="none"/>
<line x1="750" y1="844.5" x2="762" y2="844.5" stroke="#00ff00"/>
<path d="M758 846 h1 v-1 h1 v-1 h1 v-1 h-1 v1 h-1 v1 h-1 z" fill="#00ff00" stroke="none"/>
<line x1="571.5" y1="632" x2="571.5" y2="894" stroke="#00ff00"/>
<line x1="567" y1="633.5" x2="582" y2="633.5" stroke="#00ff00"/>
<line x1="567" y1="736.5" x2="582" y2="736.5" stroke="#00ff00"/>
<line x1="567" y1="876.5" x2="582" y2="876.5" stroke="#00ff00"/>
<line x1="567" y1="891.5" x2="582" y2="891.5" stroke="#00ff00"/>
<line x1="647" y1="696.5" x2="672" y2="696.5" stroke="#00ff00"/>
<polyline points="647.5,696.5 652.5,701.5 657.5,696.5" fill="none" stroke="#00ff00"/>
<line x1="634" y1="716.5" x2="699" y2="716.5" stroke="#00ff00"/>
<line x1="634.5" y1="716" x2="634.5" y2="774" stroke="#00ff00"/>
<line x1="698.5" y1="716" x2="698.5" y2="863" stroke="#00ff00"/>
<line x1="603" y1="736.5" x2="659" y2="736.5" stroke="#00ffff"/>
<line x1="603" y1="747.5" x2="659" y2="747.5" stroke="#00ffff"/>
<line x1="603" y1="758.5" x2="659" y2="758.5" stroke="#00ffff"/>
<line x1="603" y1="768.5" x2="659" y2="768.5" stroke="#00ffff"/>
<line x1="603" y1="779.5" x2="659" y2="779.5" stroke="#00ffff"/>
<line x1="603" y1="790.5" x2="659" y2="790.5" stroke="#00ffff"/>
<line x1="603" y1="801.5" x2="659" y2="801.5" stroke="#00ffff"/>
<line x1="603" y1="812.5" x2="659" y2="812.5" stroke="#00ffff"/>
<line x1="603" y1="822.5" x2="659" y2="822.5" stroke="#00ffff"/>
<line x1="603" y1="833.5" x2="659" y2="833.5" stroke="#00ffff"/>
<line x1="603" y1="844.5" x2="659" y2="844.5" stroke="#00ffff"/>
<line x1="603" y1="855.5" x2="659" y2="855.5" stroke="#00ffff"/>
<line x1="603" y1="865.5" x2="659" y2="865.5" stroke="#00ffff"/>
<line x1="603" y1="876.5" x2="659" y2="876.5" stroke="#00ffff"/>
<polygon points="658.5,734.5 670.5,734.5 670.5,878.5 658.5,878.5" fill="none" stroke="#00ffff"/>
<polygon points="661.5,736.5 667.5,736.5 667.5,876.5 661.5,876.5" fill="none" stroke="#00ffff"/>
<line x1="603" y1="772.5" x2="663.1" y2="810" stroke="#00ffff"/>
<line x1="603" y1="776" x2="661.5" y2="813" stroke="#00ffff"/>
<polyline points="629.5,789.5 630.5,784.5 632.5,795.5 633.5,790.5" fill="none" stroke="#00ffff"/>
<line x1="634.5" y1="812" x2="634.5" y2="898" stroke="#00ff00"/>
<line x1="655" y1="916.5" x2="680" y2="916.5" stroke="#00ff00"/>
<polyline points="655.5,916.5 660.5,921.5 665.5,916.5" fill="none" stroke="#00ff00"/>
<line x1="670" y1="747.5" x2="725" y2="747.5" stroke="#00ffff"/>
<line x1="670" y1="758.5" x2="725" y2="758.5" stroke="#00ffff"/>
<line x1="670" y1="768.5" x2="725" y2="768.5" stroke="#00ffff"/>
<line x1="670" y1="779.5" x2="725" y2="779.5" stroke="#00ffff"/>
<line x1="670" y1="790.5" x2="725" y2="790.5" stroke="#00ffff"/>
<line x1="670" y1="801.5" x2="725" y2="801.5" stroke="#00ffff"/>
<line x1="670" y1="812.5" x2="725" y2="812.5" stroke="#00ffff"/>
<line x1="670" y1="822.5" x2="725" y2="822.5" stroke="#00ffff"/>
<line x1="670" y1="833.5" x2="725" y2="833.5" stroke="#00ffff"/>
<line x1="670" y1="844.5" x2="725" y2="844.5" stroke="#00ffff"/>
<line x1="681" y1="940.5" x2="736" y2="940.5" stroke="#ffffff"/>
<line x1="681" y1="942.5" x2="736" y2="942.5" stroke="#ffffff"/>
<circle cx="840.9" cy="575.4" r="7" fill="none" stroke="#00ff00"/>
<circle cx="969.8" cy="575.4" r="7" fill="none" stroke="#00ff00"/>
<line x1="840.5" y1="582" x2="840.5" y2="615" stroke="#00ff00"/>
<line x1="969.5" y1="582" x2="969.5" y2="615" stroke="#00ff00"/>
<line x1="838" y1="592.5" x2="973" y2="592.5" stroke="#00ff00"/>
<line x1="837" y1="604.5" x2="974" y2="604.5" stroke="#00ff00"/>
<line x1="844.5" y1="600" x2="844.5" y2="615" stroke="#00ff00"/>
<line x1="902.5" y1="600" x2="902.5" y2="615" stroke="#00ff00"/>
<line x1="907.5" y1="600" x2="907.5" y2="615" stroke="#00ff00"/>
<line x1="965.5" y1="600" x2="965.5" y2="615" stroke="#00ff00"/>
<path d="M839 594 h1 v-1 h1 v-1 h1 v-1 h-1 v1 h-1 v1 h-1 z" fill="#00ff00" stroke="none"/>
<path d="M968 594 h1 v-1 h1 v-1 h1 v-1 h-1 v1 h-1 v1 h-1 z" fill="#00ff00" stroke="none"/>
<path d="M839 606 h1 v-1 h1 v-1 h1 v-1 h-1 v1 h-1 v1 h-1 z" fill="#00ff00" stroke="none"/>
<path d="M843 606 h1 v-1 h1 v-1 h1 v-1 h-1 v1 h-1 v1 h-1 z" fill="#00ff00" stroke="none"/>
<path d="M901 606 h1 v-1 h1 v-1 h1 v-1 h-1 v1 h-1 v1 h-1 z" fill="#00ff00" stroke="none"/>
<path d="M906 606 h1 v-1 h1 v-1 h1 v-1 h-1 v1 h-1 v1 h-1 z" fill="#00ff00" stroke="none"/>
<path d="M964 606 h1 v-1 h1 v-1 h1 v-1 h-1 v1 h-1 v1 h-1 z" fill="#00ff00" stroke="none"/>
<path d="M968 606 h1 v-1 h1 v-1 h1 v-1 h-1 v1 h-1 v1 h-1 z" fill="#00ff00" stroke="none"/>
<line x1="840.9" y1="629.8" x2="882.03" y2="642.99" stroke="#ffff00"/>
<line x1="933.8" y1="659.6" x2="974" y2="672.5" stroke="#ffff00"/>
<line x1="844.9" y1="639.7" x2="879.78" y2="651.22" stroke="#ffff00"/>
<line x1="930.76" y1="668.06" x2="966" y2="679.7" stroke="#ffff00"/>
<line x1="882.03" y1="642.99" x2="879.78" y2="651.22" stroke="#ffff00"/>
<line x1="933.8" y1="659.6" x2="930.76" y2="668.06" stroke="#ffff00"/>
<line x1="882.03" y1="642.99" x2="933.8" y2="659.6" stroke="#00ffff"/>
<line x1="881.47" y1="645.05" x2="933.04" y2="661.72" stroke="#00ffff"/>
<line x1="880.9" y1="647.11" x2="932.28" y2="663.83" stroke="#00ffff"/>
<line x1="880.34" y1="649.16" x2="931.52" y2="665.95" stroke="#00ffff"/>
<line x1="879.78" y1="651.22" x2="930.76" y2="668.06" stroke="#00ffff"/>
<line x1="842.5" y1="637" x2="842.5" y2="847" stroke="#00ffff"/>
<line x1="844.5" y1="639" x2="844.5" y2="847" stroke="#00ffff"/>
<circle cx="840.9" cy="633.5" r="3.6" fill="none" stroke="#ffffff"/>
<circle cx="969.8" cy="676.1" r="3.6" fill="none" stroke="#ffffff"/>
<line x1="974.5" y1="673" x2="974.5" y2="893" stroke="#ffff00"/>
<line x1="965.5" y1="679" x2="965.5" y2="893" stroke="#ffff00"/>
<circle cx="840.8" cy="892" r="3.6" fill="none" stroke="#ffffff"/>
<circle cx="970.5" cy="892" r="3.6" fill="none" stroke="#ffffff"/>
<circle cx="1025.7" cy="676.1" r="7" fill="none" stroke="#00ff00"/>
<line x1="982" y1="676.5" x2="1019" y2="676.5" stroke="#00ff00"/>
<circle cx="1025.5" cy="892" r="7" fill="none" stroke="#00ff00"/>
<line x1="983" y1="892.5" x2="1019" y2="892.5" stroke="#00ff00"/>
<line x1="1012.5" y1="632" x2="1012.5" y2="893" stroke="#00ff00"/>
<line x1="987" y1="633.5" x2="1016" y2="633.5" stroke="#00ff00"/>
<line x1="1000.5" y1="675" x2="1000.5" y2="893" stroke="#00ff00"/>
<path d="M1011 635 h1 v-1 h1 v-1 h1 v-1 h-1 v1 h-1 v1 h-1 z" fill="#00ff00" stroke="none"/>
<path d="M1011 678 h1 v-1 h1 v-1 h1 v-1 h-1 v1 h-1 v1 h-1 z" fill="#00ff00" stroke="none"/>
<path d="M1011 894 h1 v-1 h1 v-1 h1 v-1 h-1 v1 h-1 v1 h-1 z" fill="#00ff00" stroke="none"/>
<path d="M999 678 h1 v-1 h1 v-1 h1 v-1 h-1 v1 h-1 v1 h-1 z" fill="#00ff00" stroke="none"/>
<path d="M999 894 h1 v-1 h1 v-1 h1 v-1 h-1 v1 h-1 v1 h-1 z" fill="#00ff00" stroke="none"/>
<path d="M811 635 h1 v-1 h1 v-1 h1 v-1 h-1 v1 h-1 v1 h-1 z" fill="#00ff00" stroke="none"/>
<path d="M811 738 h1 v-1 h1 v-1 h1 v-1 h-1 v1 h-1 v1 h-1 z" fill="#00ff00" stroke="none"/>
<path d="M811 878 h1 v-1 h1 v-1 h1 v-1 h-1 v1 h-1 v1 h-1 z" fill="#00ff00" stroke="none"/>
<path d="M811 893 h1 v-1 h1 v-1 h1 v-1 h-1 v1 h-1 v1 h-1 z" fill="#00ff00" stroke="none"/>
<line x1="991" y1="747.5" x2="1003" y2="747.5" stroke="#00ff00"/>
<path d="M999 749 h1 v-1 h1 v-1 h1 v-1 h-1 v1 h-1 v1 h-1 z" fill="#00ff00" stroke="none"/>
<line x1="991" y1="844.5" x2="1003" y2="844.5" stroke="#00ff00"/>
<path d="M999 846 h1 v-1 h1 v-1 h1 v-1 h-1 v1 h-1 v1 h-1 z" fill="#00ff00" stroke="none"/>
<line x1="812.5" y1="632" x2="812.5" y2="894" stroke="#00ff00"/>
<line x1="808" y1="633.5" x2="823" y2="633.5" stroke="#00ff00"/>
<line x1="808" y1="736.5" x2="823" y2="736.5" stroke="#00ff00"/>
<line x1="808" y1="876.5" x2="823" y2="876.5" stroke="#00ff00"/>
<line x1="808" y1="891.5" x2="823" y2="891.5" stroke="#00ff00"/>
<line x1="888" y1="696.5" x2="913" y2="696.5" stroke="#00ff00"/>
<polyline points="888.5,696.5 893.5,701.5 898.5,696.5" fill="none" stroke="#00ff00"/>
<line x1="875" y1="716.5" x2="940" y2="716.5" stroke="#00ff00"/>
<line x1="875.5" y1="716" x2="875.5" y2="774" stroke="#00ff00"/>
<line x1="939.5" y1="716" x2="939.5" y2="863" stroke="#00ff00"/>
<line x1="844" y1="736.5" x2="900" y2="736.5" stroke="#00ffff"/>
<line x1="844" y1="747.5" x2="900" y2="747.5" stroke="#00ffff"/>
<line x1="844" y1="758.5" x2="900" y2="758.5" stroke="#00ffff"/>
<line x1="844" y1="768.5" x2="900" y2="768.5" stroke="#00ffff"/>
<line x1="844" y1="779.5" x2="900" y2="779.5" stroke="#00ffff"/>
<line x1="844" y1="790.5" x2="900" y2="790.5" stroke="#00ffff"/>
<line x1="844" y1="801.5" x2="900" y2="801.5" stroke="#00ffff"/>
<line x1="844" y1="812.5" x2="900" y2="812.5" stroke="#00ffff"/>
<line x1="844" y1="822.5" x2="900" y2="822.5" stroke="#00ffff"/>
<line x1="844" y1="833.5" x2="900" y2="833.5" stroke="#00ffff"/>
<line x1="844" y1="844.5" x2="900" y2="844.5" stroke="#00ffff"/>
<line x1="842" y1="846.5" x2="912" y2="846.5" stroke="#00ffff"/>
<polygon points="899.5,734.5 911.5,734.5 911.5,846.5 899.5,846.5" fill="none" stroke="#00ffff"/>
<polygon points="902.5,736.5 908.5,736.5 908.5,846.5 902.5,846.5" fill="none" stroke="#00ffff"/>
<line x1="844.5" y1="848" x2="844.5" y2="852" stroke="#ffffff"/>
<line x1="902.5" y1="848" x2="902.5" y2="852" stroke="#ffffff"/>
<line x1="844.5" y1="854" x2="844.5" y2="858" stroke="#ffffff"/>
<line x1="902.5" y1="854" x2="902.5" y2="858" stroke="#ffffff"/>
<line x1="844.5" y1="860" x2="844.5" y2="864" stroke="#ffffff"/>
<line x1="902.5" y1="860" x2="902.5" y2="864" stroke="#ffffff"/>
<line x1="844.5" y1="866" x2="844.5" y2="870" stroke="#ffffff"/>
<line x1="902.5" y1="866" x2="902.5" y2="870" stroke="#ffffff"/>
<line x1="844.5" y1="872" x2="844.5" y2="876" stroke="#ffffff"/>
<line x1="902.5" y1="872" x2="902.5" y2="876" stroke="#ffffff"/>
<line x1="844" y1="876.5" x2="848" y2="876.5" stroke="#ffffff"/>
<line x1="850" y1="876.5" x2="854" y2="876.5" stroke="#ffffff"/>
<line x1="856" y1="876.5" x2="860" y2="876.5" stroke="#ffffff"/>
<line x1="862" y1="876.5" x2="866" y2="876.5" stroke="#ffffff"/>
<line x1="868" y1="876.5" x2="872" y2="876.5" stroke="#ffffff"/>
<line x1="874" y1="876.5" x2="878" y2="876.5" stroke="#ffffff"/>
<line x1="880" y1="876.5" x2="884" y2="876.5" stroke="#ffffff"/>
<line x1="886" y1="876.5" x2="890" y2="876.5" stroke="#ffffff"/>
<line x1="892" y1="876.5" x2="896" y2="876.5" stroke="#ffffff"/>
<line x1="898" y1="876.5" x2="902" y2="876.5" stroke="#ffffff"/>
<line x1="895" y1="895.5" x2="920" y2="895.5" stroke="#00ff00"/>
<polyline points="895.5,895.5 900.5,900.5 905.5,895.5" fill="none" stroke="#00ff00"/>
<line x1="875.5" y1="716" x2="875.5" y2="823" stroke="#00ff00"/>
<line x1="875" y1="716.5" x2="940" y2="716.5" stroke="#00ff00"/>
<line x1="911" y1="747.5" x2="966" y2="747.5" stroke="#00ffff"/>
<line x1="911" y1="758.5" x2="966" y2="758.5" stroke="#00ffff"/>
<line x1="911" y1="768.5" x2="966" y2="768.5" stroke="#00ffff"/>
<line x1="911" y1="779.5" x2="966" y2="779.5" stroke="#00ffff"/>
<line x1="911" y1="790.5" x2="966" y2="790.5" stroke="#00ffff"/>
<line x1="911" y1="801.5" x2="966" y2="801.5" stroke="#00ffff"/>
<line x1="911" y1="812.5" x2="966" y2="812.5" stroke="#00ffff"/>
<line x1="911" y1="822.5" x2="966" y2="822.5" stroke="#00ffff"/>
<line x1="911" y1="833.5" x2="966" y2="833.5" stroke="#00ffff"/>
<line x1="911" y1="844.5" x2="966" y2="844.5" stroke="#00ffff"/>
<line x1="922" y1="940.5" x2="977" y2="940.5" stroke="#ffffff"/>
<line x1="922" y1="942.5" x2="977" y2="942.5" stroke="#ffffff"/>
<line x1="1105" y1="438.5" x2="1451" y2="438.5" stroke="#00ffff"/>
<polyline points="1270.5,438.5 1272.5,435.5 1273.5,442.5 1275.5,438.5" fill="none" stroke="#00ffff"/>
<line x1="1130.5" y1="438" x2="1130.5" y2="535" stroke="#ffff00"/>
<line x1="1139.5" y1="438" x2="1139.5" y2="535" stroke="#ffff00"/>
<line x1="1130.5" y1="534" x2="1130.5" y2="549" stroke="#00ffff"/>
<line x1="1139.5" y1="534" x2="1139.5" y2="549" stroke="#00ffff"/>
<line x1="1130.5" y1="548" x2="1130.5" y2="595" stroke="#ffff00"/>
<line x1="1139.5" y1="548" x2="1139.5" y2="595" stroke="#ffff00"/>
<line x1="1130.5" y1="594" x2="1130.5" y2="599" stroke="#00ffff"/>
<line x1="1139.5" y1="594" x2="1139.5" y2="599" stroke="#00ffff"/>
<line x1="1133.5" y1="594" x2="1133.5" y2="599" stroke="#00ffff"/>
<line x1="1136.5" y1="594" x2="1136.5" y2="599" stroke="#00ffff"/>
<line x1="1130.5" y1="598" x2="1130.5" y2="631" stroke="#00ffff"/>
<line x1="1139.5" y1="598" x2="1139.5" y2="631" stroke="#00ffff"/>
<line x1="1133.5" y1="598" x2="1133.5" y2="631" stroke="#00ffff"/>
<line x1="1136.5" y1="598" x2="1136.5" y2="631" stroke="#00ffff"/>
<line x1="1130.5" y1="630" x2="1130.5" y2="664" stroke="#ffff00"/>
<line x1="1139.5" y1="630" x2="1139.5" y2="664" stroke="#ffff00"/>
<line x1="1130.5" y1="663" x2="1130.5" y2="678" stroke="#00ffff"/>
<line x1="1139.5" y1="663" x2="1139.5" y2="678" stroke="#00ffff"/>
<line x1="1130.5" y1="677" x2="1130.5" y2="710" stroke="#00ffff"/>
<line x1="1139.5" y1="677" x2="1139.5" y2="710" stroke="#00ffff"/>
<line x1="1133.5" y1="677" x2="1133.5" y2="710" stroke="#00ffff"/>
<line x1="1136.5" y1="677" x2="1136.5" y2="710" stroke="#00ffff"/>
<line x1="1130.5" y1="709" x2="1130.5" y2="728" stroke="#ffff00"/>
<line x1="1139.5" y1="709" x2="1139.5" y2="728" stroke="#ffff00"/>
<line x1="1130.5" y1="727" x2="1130.5" y2="743" stroke="#00ffff"/>
<line x1="1139.5" y1="727" x2="1139.5" y2="743" stroke="#00ffff"/>
<line x1="1130.5" y1="742" x2="1130.5" y2="780" stroke="#ffff00"/>
<line x1="1139.5" y1="742" x2="1139.5" y2="780" stroke="#ffff00"/>
<line x1="1130.5" y1="779" x2="1130.5" y2="795" stroke="#00ffff"/>
<line x1="1139.5" y1="779" x2="1139.5" y2="795" stroke="#00ffff"/>
<line x1="1130" y1="548.5" x2="1140" y2="548.5" stroke="#00ffff"/>
<line x1="1130" y1="594.5" x2="1140" y2="594.5" stroke="#ffff00"/>
<line x1="1130" y1="598.5" x2="1140" y2="598.5" stroke="#00ffff"/>
<line x1="1130" y1="630.5" x2="1140" y2="630.5" stroke="#ffff00"/>
<line x1="1130" y1="663.5" x2="1140" y2="663.5" stroke="#00ffff"/>
<line x1="1130" y1="677.5" x2="1140" y2="677.5" stroke="#00ffff"/>
<line x1="1130" y1="709.5" x2="1140" y2="709.5" stroke="#ffff00"/>
<line x1="1130" y1="727.5" x2="1140" y2="727.5" stroke="#00ffff"/>
<line x1="1130" y1="742.5" x2="1140" y2="742.5" stroke="#ffff00"/>
<line x1="1130" y1="779.5" x2="1140" y2="779.5" stroke="#00ffff"/>
<line x1="1130" y1="794.5" x2="1140" y2="794.5" stroke="#00ffff"/>
<line x1="1166.5" y1="438" x2="1166.5" y2="881" stroke="#00ffff"/>
<line x1="1130" y1="534.5" x2="1234" y2="534.5" stroke="#00ffff"/>
<polyline points="1139.5,537.5 1213.5,537.5 1213.5,548.5 1222.5,548.5 1222.5,534.5" fill="none" stroke="#00ffff"/>
<line x1="1130" y1="663.5" x2="1234" y2="663.5" stroke="#00ffff"/>
<polyline points="1139.5,666.5 1213.5,666.5 1213.5,677.5 1222.5,677.5 1222.5,663.5" fill="none" stroke="#00ffff"/>
<line x1="1130" y1="787.5" x2="1244" y2="787.5" stroke="#00ffff"/>
<polyline points="1139.5,790.5 1213.5,790.5 1213.5,799.5 1222.5,799.5 1222.5,787.5" fill="none" stroke="#00ffff"/>
<line x1="1222" y1="539.5" x2="1234" y2="539.5" stroke="#00ffff"/>
<line x1="1222" y1="668.5" x2="1234" y2="668.5" stroke="#00ffff"/>
<line x1="1222" y1="792.5" x2="1244" y2="792.5" stroke="#00ffff"/>
<line x1="1370.5" y1="438" x2="1370.5" y2="870" stroke="#00ffff"/>
<line x1="1384.5" y1="438" x2="1384.5" y2="870" stroke="#00ffff"/>
<line x1="1433.5" y1="438" x2="1433.5" y2="680" stroke="#00ffff"/>
<polyline points="1429.5,678.5 1433.5,679.5 1433.5,683.5" fill="none" stroke="#00ffff"/>
<line x1="1433.5" y1="683" x2="1433.5" y2="890" stroke="#00ffff"/>
<line x1="1329" y1="480.5" x2="1434" y2="480.5" stroke="#00ffff"/>
<polyline points="1329.5,480.5 1329.5,494.5 1338.5,494.5 1338.5,483.5 1373.5,483.5" fill="none" stroke="#00ffff"/>
<polyline points="1373.5,483.5 1373.5,494.5 1381.5,494.5 1381.5,483.5 1433.5,483.5" fill="none" stroke="#00ffff"/>
<line x1="1329" y1="609.5" x2="1434" y2="609.5" stroke="#00ffff"/>
<line x1="1339" y1="612.5" x2="1374" y2="612.5" stroke="#00ffff"/>
<polyline points="1373.5,612.5 1373.5,623.5 1381.5,623.5 1381.5,612.5 1433.5,612.5" fill="none" stroke="#00ffff"/>
<line x1="1329" y1="738.5" x2="1434" y2="738.5" stroke="#00ffff"/>
<line x1="1339" y1="742.5" x2="1374" y2="742.5" stroke="#00ffff"/>
<polyline points="1373.5,742.5 1373.5,753.5 1381.5,753.5 1381.5,742.5 1433.5,742.5" fill="none" stroke="#00ffff"/>
<line x1="1373" y1="869.5" x2="1434" y2="869.5" stroke="#00ffff"/>
<polygon points="1316.5,501.5 1370.5,501.5 1370.5,566.5 1316.5,566.5" fill="none" stroke="#00ffff"/>
<polygon points="1316.5,630.5 1370.5,630.5 1370.5,695.5 1316.5,695.5" fill="none" stroke="#00ffff"/>
<polyline points="1233.5,534.5 1233.5,528.5 1243.5,528.5 1243.5,523.5 1254.5,523.5 1254.5,517.5 1265.5,517.5 1265.5,512.5 1276.5,512.5 1276.5,507.5 1286.5,507.5 1286.5,501.5 1297.5,501.5 1297.5,496.5 1308.5,496.5 1308.5,490.5 1318.5,490.5 1318.5,485.5 1329.5,485.5 1329.5,480.5" fill="none" stroke="#00ffff"/>
<line x1="1233.1" y1="537.5" x2="1329.7" y2="489.2" stroke="#00ffff"/>
<polyline points="1233.5,539.5 1233.5,544.5 1243.5,544.5 1243.5,549.5 1254.5,549.5 1254.5,555.5 1265.5,555.5 1265.5,560.5 1276.5,560.5 1276.5,566.5 1286.5,566.5 1286.5,571.5 1297.5,571.5 1297.5,576.5 1308.5,576.5 1308.5,582.5 1319.5,582.5 1319.5,587.5 1329.5,587.5 1329.5,592.5 1340.5,592.5 1340.5,598.5 1351.5,598.5 1351.5,603.5 1362.5,603.5 1362.5,609.5" fill="none" stroke="#00ffff"/>
<line x1="1222.5" y1="543.7" x2="1362" y2="612" stroke="#00ffff"/>
<polyline points="1233.5,663.5 1233.5,657.5 1243.5,657.5 1243.5,652.5 1254.5,652.5 1254.5,646.5 1265.5,646.5 1265.5,641.5 1276.5,641.5 1276.5,636.5 1286.5,636.5 1286.5,630.5 1297.5,630.5 1297.5,625.5 1308.5,625.5 1308.5,619.5 1318.5,619.5 1318.5,614.5 1329.5,614.5 1329.5,609.5" fill="none" stroke="#00ffff"/>
<line x1="1233.1" y1="667" x2="1339.6" y2="613.6" stroke="#00ffff"/>
<polyline points="1233.5,668.5 1233.5,673.5 1243.5,673.5 1243.5,678.5 1254.5,678.5 1254.5,684.5 1265.5,684.5 1265.5,689.5 1276.5,689.5 1276.5,695.5 1286.5,695.5 1286.5,700.5 1297.5,700.5 1297.5,705.5 1308.5,705.5 1308.5,711.5 1319.5,711.5 1319.5,716.5 1329.5,716.5 1329.5,722.5 1340.5,722.5 1340.5,727.5 1351.5,727.5 1351.5,732.5 1362.5,732.5 1362.5,738.5" fill="none" stroke="#00ffff"/>
<line x1="1222.5" y1="673" x2="1362" y2="742" stroke="#00ffff"/>
<polyline points="1243.5,787.5 1243.5,781.5 1254.5,781.5 1254.5,776.5 1265.5,776.5 1265.5,770.5 1275.5,770.5 1275.5,765.5 1286.5,765.5 1286.5,760.5 1297.5,760.5 1297.5,754.5 1308.5,754.5 1308.5,749.5 1319.5,749.5 1319.5,743.5 1330.5,743.5 1330.5,738.5" fill="none" stroke="#00ffff"/>
<line x1="1243.5" y1="790.2" x2="1339.6" y2="742.2" stroke="#00ffff"/>
<polyline points="1233.5,792.5 1233.5,797.5 1243.5,797.5 1243.5,803.5 1254.5,803.5 1254.5,808.5 1265.5,808.5 1265.5,814.5 1276.5,814.5 1276.5,819.5 1287.5,819.5 1287.5,825.5 1297.5,825.5 1297.5,830.5 1308.5,830.5 1308.5,836.5 1319.5,836.5 1319.5,841.5 1330.5,841.5 1330.5,847.5 1341.5,847.5 1341.5,852.5 1351.5,852.5 1351.5,858.5 1362.5,858.5 1362.5,863.5 1373.5,863.5 1373.5,869.5" fill="none" stroke="#00ffff"/>
<line x1="1222.5" y1="797" x2="1368" y2="869" stroke="#00ffff"/>
<polygon points="1341,873 1368,867.5 1341,881" fill="#00ffff" stroke="#00ffff"/>
<line x1="1321" y1="799.4" x2="1368" y2="822.4" stroke="#00ffff"/>
<line x1="1321" y1="815.4" x2="1368" y2="838" stroke="#00ffff"/>
<line x1="1368.5" y1="822" x2="1368.5" y2="865" stroke="#00ffff"/>
<line x1="1096" y1="880.5" x2="1342" y2="880.5" stroke="#00ffff"/>
<line x1="1269.5" y1="803" x2="1269.5" y2="881" stroke="#00ffff"/>
<line x1="1269" y1="803.5" x2="1324" y2="803.5" stroke="#00ffff"/>
<line x1="1323.5" y1="803" x2="1323.5" y2="881" stroke="#00ffff"/>
<line x1="1053" y1="709.5" x2="1131" y2="709.5" stroke="#00ffff"/>
<line x1="1088.5" y1="709" x2="1088.5" y2="847" stroke="#00ffff"/>
<line x1="1090.5" y1="709" x2="1090.5" y2="728" stroke="#00ffff"/>
<line x1="1090" y1="727.5" x2="1140" y2="727.5" stroke="#00ffff"/>
<line x1="1096" y1="731.5" x2="1131" y2="731.5" stroke="#00ffff"/>
<line x1="1096.5" y1="731" x2="1096.5" y2="847" stroke="#00ffff"/>
<polyline points="1096.5,760.5 1078.5,760.5 1078.5,846.5 1096.5,846.5" fill="none" stroke="#00ffff"/>
<line x1="1090.5" y1="760" x2="1090.5" y2="847" stroke="#00ffff"/>
<line x1="1093.5" y1="760" x2="1093.5" y2="847" stroke="#00ffff"/>
<line x1="1088.5" y1="846" x2="1088.5" y2="897" stroke="#ffff00"/>
<line x1="1096.5" y1="846" x2="1096.5" y2="897" stroke="#ffff00"/>
<line x1="1050" y1="885.5" x2="1089" y2="885.5" stroke="#00ffff"/>
<polyline points="1278.5,461.5 1325.5,461.5 1331.5,479.5" fill="none" stroke="#00ffff"/>
<line x1="1341" y1="809.5" x2="1432" y2="809.5" stroke="#00ffff"/>
<circle cx="1423.1" cy="809.2" r="7" fill="none" stroke="#ffffff"/>
<line x1="1436" y1="480.5" x2="1503" y2="480.5" stroke="#00ffff"/>
<line x1="1450" y1="480.5" x2="1476" y2="480.5" stroke="#00ff00"/>
<line x1="1483" y1="474.5" x2="1508" y2="474.5" stroke="#00ff00"/>
<polyline points="1483.5,474.5 1488.5,480.5 1494.5,474.5" fill="none" stroke="#00ff00"/>
<line x1="1436" y1="534.5" x2="1503" y2="534.5" stroke="#00ffff"/>
<line x1="1450" y1="534.5" x2="1476" y2="534.5" stroke="#00ff00"/>
<line x1="1483" y1="528.5" x2="1508" y2="528.5" stroke="#00ff00"/>
<polyline points="1483.5,528.5 1488.5,534.5 1494.5,528.5" fill="none" stroke="#00ff00"/>
<line x1="1436" y1="609.5" x2="1503" y2="609.5" stroke="#00ffff"/>
<line x1="1450" y1="609.5" x2="1476" y2="609.5" stroke="#00ff00"/>
<line x1="1483" y1="603.5" x2="1508" y2="603.5" stroke="#00ff00"/>
<polyline points="1483.5,603.5 1488.5,609.5 1494.5,603.5" fill="none" stroke="#00ff00"/>
<line x1="1436" y1="663.5" x2="1503" y2="663.5" stroke="#00ffff"/>
<line x1="1450" y1="663.5" x2="1476" y2="663.5" stroke="#00ff00"/>
<line x1="1483" y1="657.5" x2="1508" y2="657.5" stroke="#00ff00"/>
<polyline points="1483.5,657.5 1488.5,663.5 1494.5,657.5" fill="none" stroke="#00ff00"/>
<line x1="1436" y1="738.5" x2="1503" y2="738.5" stroke="#00ffff"/>
<line x1="1450" y1="738.5" x2="1476" y2="738.5" stroke="#00ff00"/>
<line x1="1483" y1="732.5" x2="1508" y2="732.5" stroke="#00ff00"/>
<polyline points="1483.5,732.5 1488.5,738.5 1494.5,732.5" fill="none" stroke="#00ff00"/>
<line x1="1436" y1="787.5" x2="1503" y2="787.5" stroke="#00ffff"/>
<line x1="1450" y1="787.5" x2="1476" y2="787.5" stroke="#00ff00"/>
<line x1="1483" y1="781.5" x2="1508" y2="781.5" stroke="#00ff00"/>
<polyline points="1483.5,781.5 1488.5,787.5 1494.5,781.5" fill="none" stroke="#00ff00"/>
<line x1="1436" y1="867.5" x2="1503" y2="867.5" stroke="#00ffff"/>
<line x1="1450" y1="867.5" x2="1476" y2="867.5" stroke="#00ff00"/>
<line x1="1483" y1="861.5" x2="1508" y2="861.5" stroke="#00ff00"/>
<polyline points="1483.5,861.5 1488.5,867.5 1494.5,861.5" fill="none" stroke="#00ff00"/>
<path d="M1457 482 h1 v-1 h1 v-1 h1 v-1 h-1 v1 h-1 v1 h-1 z" fill="#00ff00" stroke="none"/>
<path d="M1469 482 h1 v-1 h1 v-1 h1 v-1 h-1 v1 h-1 v1 h-1 z" fill="#00ff00" stroke="none"/>
<path d="M1457 536 h1 v-1 h1 v-1 h1 v-1 h-1 v1 h-1 v1 h-1 z" fill="#00ff00" stroke="none"/>
<path d="M1469 536 h1 v-1 h1 v-1 h1 v-1 h-1 v1 h-1 v1 h-1 z" fill="#00ff00" stroke="none"/>
<path d="M1457 611 h1 v-1 h1 v-1 h1 v-1 h-1 v1 h-1 v1 h-1 z" fill="#00ff00" stroke="none"/>
<path d="M1469 611 h1 v-1 h1 v-1 h1 v-1 h-1 v1 h-1 v1 h-1 z" fill="#00ff00" stroke="none"/>
<path d="M1457 665 h1 v-1 h1 v-1 h1 v-1 h-1 v1 h-1 v1 h-1 z" fill="#00ff00" stroke="none"/>
<path d="M1469 665 h1 v-1 h1 v-1 h1 v-1 h-1 v1 h-1 v1 h-1 z" fill="#00ff00" stroke="none"/>
<path d="M1457 740 h1 v-1 h1 v-1 h1 v-1 h-1 v1 h-1 v1 h-1 z" fill="#00ff00" stroke="none"/>
<path d="M1469 740 h1 v-1 h1 v-1 h1 v-1 h-1 v1 h-1 v1 h-1 z" fill="#00ff00" stroke="none"/>
<path d="M1457 789 h1 v-1 h1 v-1 h1 v-1 h-1 v1 h-1 v1 h-1 z" fill="#00ff00" stroke="none"/>
<path d="M1469 789 h1 v-1 h1 v-1 h1 v-1 h-1 v1 h-1 v1 h-1 z" fill="#00ff00" stroke="none"/>
<path d="M1457 869 h1 v-1 h1 v-1 h1 v-1 h-1 v1 h-1 v1 h-1 z" fill="#00ff00" stroke="none"/>
<path d="M1469 869 h1 v-1 h1 v-1 h1 v-1 h-1 v1 h-1 v1 h-1 z" fill="#00ff00" stroke="none"/>
<path d="M1117 901 h1 v-1 h1 v-1 h1 v-1 h-1 v1 h-1 v1 h-1 z" fill="#00ff00" stroke="none"/>
<path d="M1160 901 h1 v-1 h1 v-1 h1 v-1 h-1 v1 h-1 v1 h-1 z" fill="#00ff00" stroke="none"/>
<path d="M1221 901 h1 v-1 h1 v-1 h1 v-1 h-1 v1 h-1 v1 h-1 z" fill="#00ff00" stroke="none"/>
<path d="M1361 901 h1 v-1 h1 v-1 h1 v-1 h-1 v1 h-1 v1 h-1 z" fill="#00ff00" stroke="none"/>
<path d="M1376 901 h1 v-1 h1 v-1 h1 v-1 h-1 v1 h-1 v1 h-1 z" fill="#00ff00" stroke="none"/>
<path d="M1117 913 h1 v-1 h1 v-1 h1 v-1 h-1 v1 h-1 v1 h-1 z" fill="#00ff00" stroke="none"/>
<path d="M1160 913 h1 v-1 h1 v-1 h1 v-1 h-1 v1 h-1 v1 h-1 z" fill="#00ff00" stroke="none"/>
<path d="M1376 913 h1 v-1 h1 v-1 h1 v-1 h-1 v1 h-1 v1 h-1 z" fill="#00ff00" stroke="none"/>
<line x1="1458.5" y1="477" x2="1458.5" y2="872" stroke="#00ff00"/>
<line x1="1470.5" y1="477" x2="1470.5" y2="872" stroke="#00ff00"/>
<line x1="1116" y1="899.5" x2="1381" y2="899.5" stroke="#00ff00"/>
<line x1="1116" y1="911.5" x2="1381" y2="911.5" stroke="#00ff00"/>
<line x1="1118.5" y1="887" x2="1118.5" y2="905" stroke="#00ff00"/>
<line x1="1161.5" y1="887" x2="1161.5" y2="905" stroke="#00ff00"/>
<line x1="1222.5" y1="887" x2="1222.5" y2="905" stroke="#00ff00"/>
<line x1="1362.5" y1="887" x2="1362.5" y2="905" stroke="#00ff00"/>
<line x1="1377.5" y1="887" x2="1377.5" y2="905" stroke="#00ff00"/>
<line x1="1118.5" y1="904" x2="1118.5" y2="917" stroke="#00ff00"/>
<line x1="1161.5" y1="882" x2="1161.5" y2="928" stroke="#00ff00"/>
<line x1="1377.5" y1="882" x2="1377.5" y2="928" stroke="#00ff00"/>
<circle cx="1161.5" cy="934.5" r="7" fill="none" stroke="#00ff00"/>
<circle cx="1377.5" cy="934.5" r="7" fill="none" stroke="#00ff00"/>
<line x1="1237" y1="943.5" x2="1302" y2="943.5" stroke="#ffffff"/>
<line x1="1237" y1="945.5" x2="1302" y2="945.5" stroke="#ffffff"/>
<circle cx="1331" cy="962" r="7" fill="none" stroke="#ffffff"/>
<line x1="1324" y1="962.5" x2="1339" y2="962.5" stroke="#00ffff"/>
<filter id="th" x="0" y="0" width="1" height="1"><feComponentTransfer><feFuncA type="discrete" tableValues="0 1 1"/></feComponentTransfer></filter>
<g filter="url(#th)"><text x="359" y="66.5" font-size="10.5" fill="#ffffff" text-anchor="start" textLength="11" lengthAdjust="spacingAndGlyphs">100</text>
<rect x="372" y="59" width="4" height="1" fill="#ffffff"/><rect x="373" y="59" width="1" height="8" fill="#ffffff"/><rect x="374" y="59" width="1" height="8" fill="#ffffff"/><rect x="372" y="62" width="3" height="1" fill="#ffffff"/><rect x="372" y="65" width="4" height="1" fill="#ffffff"/><rect x="372" y="61" width="1" height="4" fill="#ffffff"/><rect x="377" y="58" width="1" height="9" fill="#ffffff"/><rect x="377" y="60" width="1" height="1" fill="#ffffff"/><rect x="377" y="63" width="1" height="1" fill="#ffffff"/><rect x="379" y="58" width="1" height="9" fill="#ffffff"/><rect x="379" y="59" width="2" height="1" fill="#ffffff"/><rect x="379" y="62" width="2" height="1" fill="#ffffff"/><rect x="379" y="65" width="2" height="1" fill="#ffffff"/><rect x="380" y="59" width="1" height="7" fill="#ffffff"/><rect x="382" y="58" width="4" height="1" fill="#ffffff"/><rect x="382" y="58" width="1" height="9" fill="#ffffff"/><rect x="385" y="58" width="1" height="9" fill="#ffffff"/><rect x="382" y="66" width="4" height="1" fill="#ffffff"/><rect x="383" y="61" width="2" height="1" fill="#ffffff"/><rect x="384" y="60" width="1" height="5" fill="#ffffff"/><rect x="383" y="64" width="2" height="1" fill="#ffffff"/><rect x="388" y="58" width="1" height="9" fill="#ffffff"/><rect x="387" y="60" width="2" height="1" fill="#ffffff"/><rect x="389" y="58" width="1" height="9" fill="#ffffff"/><rect x="390" y="58" width="1" height="9" fill="#ffffff"/><rect x="389" y="59" width="3" height="1" fill="#ffffff"/><rect x="389" y="62" width="2" height="1" fill="#ffffff"/><rect x="389" y="65" width="3" height="1" fill="#ffffff"/><rect x="392" y="59" width="5" height="1" fill="#ffffff"/><rect x="393" y="59" width="1" height="8" fill="#ffffff"/><rect x="395" y="59" width="1" height="8" fill="#ffffff"/><rect x="393" y="62" width="3" height="1" fill="#ffffff"/><rect x="392" y="65" width="5" height="1" fill="#ffffff"/><rect x="392" y="61" width="1" height="4" fill="#ffffff"/>
<text x="227" y="76" font-size="6.9" fill="#00ff00" text-anchor="middle" textLength="12" lengthAdjust="spacingAndGlyphs" font-weight="bold">7.200</text>
<text x="227" y="114" font-size="6.9" fill="#00ff00" text-anchor="middle" textLength="12" lengthAdjust="spacingAndGlyphs" font-weight="bold">6.150</text>
<text x="227" y="146" font-size="6.9" fill="#00ff00" text-anchor="middle" textLength="12" lengthAdjust="spacingAndGlyphs" font-weight="bold">5.250</text>
<text x="227" y="205" font-size="6.9" fill="#00ff00" text-anchor="middle" textLength="12" lengthAdjust="spacingAndGlyphs" font-weight="bold">3.600</text>
<text x="227" y="242.8" font-size="6.9" fill="#00ff00" text-anchor="middle" textLength="12" lengthAdjust="spacingAndGlyphs" font-weight="bold">2.550</text>
<text x="227" y="274.8" font-size="6.9" fill="#00ff00" text-anchor="middle" textLength="12" lengthAdjust="spacingAndGlyphs" font-weight="bold">1.650</text>
<text x="227" y="335" font-size="6.9" fill="#00ff00" text-anchor="middle" textLength="16" lengthAdjust="spacingAndGlyphs" font-weight="bold">±0.000</text>
<text x="263.5" y="102.5" font-size="6.9" fill="#ffffff" text-anchor="middle" textLength="20.14" lengthAdjust="spacingAndGlyphs" transform="rotate(-90 263.5 102.5)" font-weight="bold">150X7=1050</text>
<text x="263.5" y="137.5" font-size="6.9" fill="#ffffff" text-anchor="middle" textLength="16.96" lengthAdjust="spacingAndGlyphs" transform="rotate(-90 263.5 137.5)" font-weight="bold">150X6=900</text>
<text x="263.5" y="183" font-size="6.9" fill="#ffffff" text-anchor="middle" textLength="31.27" lengthAdjust="spacingAndGlyphs" transform="rotate(-90 263.5 183)" font-weight="bold">150X11=1650</text>
<text x="263.5" y="231.4" font-size="6.9" fill="#ffffff" text-anchor="middle" textLength="20.03" lengthAdjust="spacingAndGlyphs" transform="rotate(-90 263.5 231.4)" font-weight="bold">150X7=1050</text>
<text x="263.5" y="266.3" font-size="6.9" fill="#ffffff" text-anchor="middle" textLength="16.96" lengthAdjust="spacingAndGlyphs" transform="rotate(-90 263.5 266.3)" font-weight="bold">150X6=900</text>
<text x="263.5" y="312.4" font-size="6.9" fill="#ffffff" text-anchor="middle" textLength="31.91" lengthAdjust="spacingAndGlyphs" transform="rotate(-90 263.5 312.4)" font-weight="bold">150X11=1650</text>
<text x="252.5" y="165" font-size="6.9" fill="#ffffff" text-anchor="middle" textLength="9" lengthAdjust="spacingAndGlyphs" transform="rotate(-90 252.5 165)" font-weight="bold">3600</text>
<text x="252.5" y="279" font-size="6.9" fill="#ffffff" text-anchor="middle" textLength="9" lengthAdjust="spacingAndGlyphs" transform="rotate(-90 252.5 279)" font-weight="bold">3600</text>
<text x="332" y="371" font-size="6.9" fill="#ffffff" text-anchor="middle" textLength="8" lengthAdjust="spacingAndGlyphs" font-weight="bold">200</text>
<text x="392" y="371" font-size="6.9" fill="#ffffff" text-anchor="middle" textLength="29" lengthAdjust="spacingAndGlyphs" font-weight="bold">300X10=3000</text>
<text x="475" y="371" font-size="6.9" fill="#ffffff" text-anchor="middle" textLength="10" lengthAdjust="spacingAndGlyphs" font-weight="bold">1600</text>
<text x="507" y="371" font-size="6.9" fill="#ffffff" text-anchor="middle" textLength="6" lengthAdjust="spacingAndGlyphs" font-weight="bold">120</text>
<text x="416" y="383" font-size="6.9" fill="#ffffff" text-anchor="middle" textLength="10" lengthAdjust="spacingAndGlyphs" font-weight="bold">5400</text>
<text x="325.3" y="408" font-size="11" fill="#ffffff" text-anchor="middle">2</text>
<text x="385" y="419" font-size="11.5" fill="#ffffff" text-anchor="middle" textLength="14" lengthAdjust="spacingAndGlyphs" font-weight="bold">2-2</text>
<rect x="408" y="410" width="4" height="1" fill="#ffffff"/><rect x="407" y="410" width="1" height="9" fill="#ffffff"/><rect x="411" y="410" width="1" height="9" fill="#ffffff"/><rect x="408" y="418" width="4" height="1" fill="#ffffff"/><rect x="408" y="413" width="4" height="1" fill="#ffffff"/><rect x="409" y="411" width="1" height="7" fill="#ffffff"/><rect x="408" y="416" width="4" height="1" fill="#ffffff"/><rect x="415" y="409" width="1" height="11" fill="#ffffff"/><rect x="414" y="412" width="2" height="1" fill="#ffffff"/><rect x="417" y="410" width="1" height="9" fill="#ffffff"/><rect x="418" y="410" width="1" height="10" fill="#ffffff"/><rect x="417" y="410" width="3" height="1" fill="#ffffff"/><rect x="417" y="414" width="3" height="1" fill="#ffffff"/><rect x="417" y="418" width="3" height="1" fill="#ffffff"/><rect x="421" y="410" width="6" height="1" fill="#ffffff"/><rect x="422" y="410" width="1" height="10" fill="#ffffff"/><rect x="424" y="410" width="1" height="10" fill="#ffffff"/><rect x="422" y="414" width="4" height="1" fill="#ffffff"/><rect x="421" y="418" width="6" height="1" fill="#ffffff"/><rect x="421" y="412" width="1" height="6" fill="#ffffff"/>
<text x="449" y="418" font-size="8.05" fill="#ffffff" text-anchor="middle" textLength="10" lengthAdjust="spacingAndGlyphs" font-weight="bold">1:50</text>
<rect x="323" y="455" width="4" height="1" fill="#ffffff"/><rect x="324" y="455" width="1" height="7" fill="#ffffff"/><rect x="325" y="455" width="1" height="7" fill="#ffffff"/><rect x="323" y="458" width="4" height="1" fill="#ffffff"/><rect x="323" y="460" width="4" height="1" fill="#ffffff"/><rect x="323" y="456" width="1" height="4" fill="#ffffff"/>
<text x="331" y="462" font-size="9.2" fill="#ffffff" text-anchor="start" textLength="9" lengthAdjust="spacingAndGlyphs" font-weight="bold">#2</text>
<rect x="341" y="455" width="5" height="1" fill="#ffffff"/><rect x="342" y="455" width="1" height="7" fill="#ffffff"/><rect x="344" y="455" width="1" height="7" fill="#ffffff"/><rect x="341" y="458" width="4" height="1" fill="#ffffff"/><rect x="341" y="460" width="5" height="1" fill="#ffffff"/><rect x="341" y="456" width="1" height="4" fill="#ffffff"/><rect x="347" y="454" width="1" height="8" fill="#ffffff"/><rect x="346" y="456" width="2" height="1" fill="#ffffff"/><rect x="346" y="458" width="2" height="1" fill="#ffffff"/><rect x="349" y="454" width="1" height="8" fill="#ffffff"/><rect x="348" y="455" width="3" height="1" fill="#ffffff"/><rect x="348" y="458" width="3" height="1" fill="#ffffff"/><rect x="348" y="460" width="3" height="1" fill="#ffffff"/><rect x="350" y="455" width="1" height="6" fill="#ffffff"/><rect x="352" y="454" width="4" height="1" fill="#ffffff"/><rect x="352" y="454" width="1" height="8" fill="#ffffff"/><rect x="355" y="454" width="1" height="8" fill="#ffffff"/><rect x="352" y="461" width="4" height="1" fill="#ffffff"/><rect x="353" y="457" width="2" height="1" fill="#ffffff"/><rect x="354" y="456" width="1" height="4" fill="#ffffff"/><rect x="353" y="459" width="2" height="1" fill="#ffffff"/><rect x="358" y="454" width="1" height="8" fill="#ffffff"/><rect x="357" y="456" width="2" height="1" fill="#ffffff"/><rect x="359" y="454" width="1" height="8" fill="#ffffff"/><rect x="360" y="454" width="1" height="8" fill="#ffffff"/><rect x="359" y="455" width="3" height="1" fill="#ffffff"/><rect x="359" y="457" width="3" height="1" fill="#ffffff"/><rect x="359" y="460" width="3" height="1" fill="#ffffff"/><rect x="363" y="455" width="4" height="1" fill="#ffffff"/><rect x="364" y="455" width="1" height="7" fill="#ffffff"/><rect x="365" y="455" width="1" height="7" fill="#ffffff"/><rect x="363" y="458" width="4" height="1" fill="#ffffff"/><rect x="363" y="460" width="4" height="1" fill="#ffffff"/><rect x="363" y="456" width="1" height="4" fill="#ffffff"/>
<text x="368" y="462" font-size="9.2" fill="#ffffff" text-anchor="start" textLength="12" lengthAdjust="spacingAndGlyphs" font-weight="bold">100</text>
<rect x="382" y="454" width="1" height="8" fill="#ffffff"/><rect x="381" y="456" width="2" height="1" fill="#ffffff"/><rect x="381" y="458" width="2" height="1" fill="#ffffff"/><rect x="383" y="454" width="1" height="8" fill="#ffffff"/><rect x="383" y="455" width="3" height="1" fill="#ffffff"/><rect x="383" y="458" width="3" height="1" fill="#ffffff"/><rect x="383" y="460" width="3" height="1" fill="#ffffff"/><rect x="384" y="455" width="1" height="6" fill="#ffffff"/><rect x="387" y="454" width="4" height="1" fill="#ffffff"/><rect x="387" y="454" width="1" height="8" fill="#ffffff"/><rect x="390" y="454" width="1" height="8" fill="#ffffff"/><rect x="387" y="461" width="4" height="1" fill="#ffffff"/><rect x="387" y="457" width="3" height="1" fill="#ffffff"/><rect x="388" y="456" width="1" height="4" fill="#ffffff"/><rect x="387" y="459" width="3" height="1" fill="#ffffff"/><rect x="393" y="454" width="1" height="8" fill="#ffffff"/><rect x="392" y="456" width="2" height="1" fill="#ffffff"/><rect x="394" y="454" width="1" height="8" fill="#ffffff"/><rect x="395" y="454" width="1" height="8" fill="#ffffff"/><rect x="394" y="455" width="3" height="1" fill="#ffffff"/><rect x="394" y="457" width="2" height="1" fill="#ffffff"/><rect x="394" y="460" width="3" height="1" fill="#ffffff"/><rect x="398" y="455" width="4" height="1" fill="#ffffff"/><rect x="399" y="455" width="1" height="7" fill="#ffffff"/><rect x="400" y="455" width="1" height="7" fill="#ffffff"/><rect x="398" y="458" width="4" height="1" fill="#ffffff"/><rect x="398" y="460" width="4" height="1" fill="#ffffff"/><rect x="398" y="456" width="1" height="4" fill="#ffffff"/><rect x="404" y="454" width="1" height="8" fill="#ffffff"/><rect x="403" y="456" width="2" height="1" fill="#ffffff"/><rect x="403" y="458" width="2" height="1" fill="#ffffff"/><rect x="405" y="454" width="1" height="8" fill="#ffffff"/><rect x="405" y="455" width="3" height="1" fill="#ffffff"/><rect x="405" y="458" width="3" height="1" fill="#ffffff"/><rect x="405" y="460" width="3" height="1" fill="#ffffff"/><rect x="406" y="455" width="1" height="6" fill="#ffffff"/><rect x="409" y="454" width="4" height="1" fill="#ffffff"/><rect x="409" y="454" width="1" height="8" fill="#ffffff"/><rect x="412" y="454" width="1" height="8" fill="#ffffff"/><rect x="409" y="461" width="4" height="1" fill="#ffffff"/><rect x="409" y="457" width="3" height="1" fill="#ffffff"/><rect x="410" y="456" width="1" height="4" fill="#ffffff"/><rect x="409" y="459" width="3" height="1" fill="#ffffff"/><rect x="415" y="454" width="1" height="8" fill="#ffffff"/><rect x="414" y="456" width="2" height="1" fill="#ffffff"/><rect x="416" y="454" width="1" height="8" fill="#ffffff"/><rect x="417" y="454" width="1" height="8" fill="#ffffff"/><rect x="416" y="455" width="3" height="1" fill="#ffffff"/><rect x="416" y="457" width="2" height="1" fill="#ffffff"/><rect x="416" y="460" width="3" height="1" fill="#ffffff"/><rect x="420" y="455" width="4" height="1" fill="#ffffff"/><rect x="421" y="455" width="1" height="7" fill="#ffffff"/><rect x="422" y="455" width="1" height="7" fill="#ffffff"/><rect x="420" y="458" width="4" height="1" fill="#ffffff"/><rect x="420" y="460" width="4" height="1" fill="#ffffff"/><rect x="420" y="456" width="1" height="4" fill="#ffffff"/><rect x="426" y="454" width="1" height="8" fill="#ffffff"/><rect x="425" y="456" width="2" height="1" fill="#ffffff"/><rect x="425" y="458" width="2" height="1" fill="#ffffff"/><rect x="427" y="454" width="1" height="8" fill="#ffffff"/><rect x="427" y="455" width="3" height="1" fill="#ffffff"/><rect x="427" y="458" width="3" height="1" fill="#ffffff"/><rect x="427" y="460" width="3" height="1" fill="#ffffff"/><rect x="428" y="455" width="1" height="6" fill="#ffffff"/><rect x="431" y="454" width="4" height="1" fill="#ffffff"/><rect x="431" y="454" width="1" height="8" fill="#ffffff"/><rect x="434" y="454" width="1" height="8" fill="#ffffff"/><rect x="431" y="461" width="4" height="1" fill="#ffffff"/><rect x="431" y="457" width="3" height="1" fill="#ffffff"/><rect x="432" y="456" width="1" height="4" fill="#ffffff"/><rect x="431" y="459" width="3" height="1" fill="#ffffff"/>
<text x="491.4" y="455" font-size="5.75" fill="#00ff00" text-anchor="middle" font-weight="bold">3</text>
<text x="491.4" y="463" font-size="5.75" fill="#00ff00" text-anchor="middle" font-weight="bold">1</text>
<text x="827.1" y="41.7" font-size="11" fill="#ffffff" text-anchor="middle">2</text>
<text x="735" y="52" font-size="8.05" fill="#ffffff" text-anchor="middle" textLength="10" lengthAdjust="spacingAndGlyphs" font-weight="bold">5400</text>
<text x="646.5" y="64.5" font-size="8.05" fill="#ffffff" text-anchor="middle" textLength="6" lengthAdjust="spacingAndGlyphs" font-weight="bold">120</text>
<text x="677" y="64.5" font-size="8.05" fill="#ffffff" text-anchor="middle" textLength="11" lengthAdjust="spacingAndGlyphs" font-weight="bold">1600</text>
<text x="759.5" y="64.5" font-size="8.05" fill="#ffffff" text-anchor="middle" textLength="29" lengthAdjust="spacingAndGlyphs" font-weight="bold">300X10=3000</text>
<text x="820" y="64.5" font-size="8.05" fill="#ffffff" text-anchor="middle" textLength="8" lengthAdjust="spacingAndGlyphs" font-weight="bold">300</text>
<text x="589.2" y="101.3" font-size="11" fill="#ffffff" text-anchor="middle">G</text>
<text x="855" y="130" font-size="8.05" fill="#ffffff" text-anchor="middle" textLength="10" lengthAdjust="spacingAndGlyphs" transform="rotate(-90 855 130)" font-weight="bold">1800</text>
<text x="855" y="190" font-size="8.05" fill="#ffffff" text-anchor="middle" textLength="10" lengthAdjust="spacingAndGlyphs" transform="rotate(-90 855 190)" font-weight="bold">1800</text>
<text x="855" y="248" font-size="8.05" fill="#ffffff" text-anchor="middle" textLength="10" lengthAdjust="spacingAndGlyphs" transform="rotate(-90 855 248)" font-weight="bold">1800</text>
<text x="603" y="130" font-size="8.05" fill="#ffffff" text-anchor="middle" textLength="10" lengthAdjust="spacingAndGlyphs" transform="rotate(-90 603 130)" font-weight="bold">1800</text>
<text x="589.3" y="284.3" font-size="11" fill="#ffffff" text-anchor="middle">E</text>
<text x="831" y="127" font-size="9.2" fill="#ffffff" text-anchor="middle" font-weight="bold">上</text>
<text x="589" y="175" font-size="12" fill="#00ff00" text-anchor="middle">2</text>
<text x="873" y="175" font-size="12" fill="#00ff00" text-anchor="middle">2</text>
<text x="675.6" y="120.3" font-size="6.9" fill="#00ff00" text-anchor="middle" textLength="11" lengthAdjust="spacingAndGlyphs" font-weight="bold">1.650</text>
<text x="603" y="247" font-size="8.05" fill="#ffffff" text-anchor="middle" textLength="10" lengthAdjust="spacingAndGlyphs" transform="rotate(-90 603 247)" font-weight="bold">1800</text>
<text x="601" y="281" font-size="6.9" fill="#ffffff" text-anchor="middle" textLength="5" lengthAdjust="spacingAndGlyphs" transform="rotate(-90 601 281)" font-weight="bold">120</text>
<text x="675" y="307.5" font-size="8.05" fill="#ffffff" text-anchor="middle" textLength="10" lengthAdjust="spacingAndGlyphs" font-weight="bold">1720</text>
<text x="712.5" y="307.5" font-size="8.05" fill="#ffffff" text-anchor="middle" textLength="8" lengthAdjust="spacingAndGlyphs" font-weight="bold">150</text>
<text x="725" y="307.5" font-size="8.05" fill="#ffffff" text-anchor="middle" textLength="8" lengthAdjust="spacingAndGlyphs" font-weight="bold">250</text>
<text x="779" y="307.5" font-size="8.05" fill="#ffffff" text-anchor="middle" textLength="11" lengthAdjust="spacingAndGlyphs" font-weight="bold">2600</text>
<text x="678.5" y="246.5" font-size="6.9" fill="#00ff00" text-anchor="middle" textLength="11" lengthAdjust="spacingAndGlyphs" font-weight="bold">-0.120</text>
<text x="796" y="226" font-size="6.9" fill="#00ff00" text-anchor="middle" textLength="11" lengthAdjust="spacingAndGlyphs" font-weight="bold">±0.000</text>
<text x="740.5" y="248" font-size="9.2" fill="#ffffff" text-anchor="middle" font-weight="bold">下</text>
<text x="672" y="346" font-size="11.5" fill="#ffffff" text-anchor="middle" textLength="10" lengthAdjust="spacingAndGlyphs" font-weight="bold">#2</text>
<rect x="683" y="336" width="1" height="12" fill="#ffffff"/><rect x="682" y="339" width="2" height="1" fill="#ffffff"/><rect x="682" y="342" width="2" height="1" fill="#ffffff"/><rect x="685" y="336" width="1" height="12" fill="#ffffff"/><rect x="685" y="338" width="3" height="1" fill="#ffffff"/><rect x="685" y="342" width="3" height="1" fill="#ffffff"/><rect x="685" y="345" width="3" height="1" fill="#ffffff"/><rect x="686" y="338" width="1" height="8" fill="#ffffff"/><rect x="690" y="337" width="4" height="1" fill="#ffffff"/><rect x="689" y="337" width="1" height="10" fill="#ffffff"/><rect x="693" y="337" width="1" height="10" fill="#ffffff"/><rect x="690" y="346" width="4" height="1" fill="#ffffff"/><rect x="690" y="340" width="4" height="1" fill="#ffffff"/><rect x="691" y="339" width="1" height="6" fill="#ffffff"/><rect x="690" y="344" width="4" height="1" fill="#ffffff"/>
<rect x="705" y="338" width="6" height="1" fill="#ffffff"/><rect x="707" y="338" width="1" height="10" fill="#ffffff"/><rect x="709" y="338" width="1" height="10" fill="#ffffff"/><rect x="706" y="342" width="5" height="1" fill="#ffffff"/><rect x="705" y="346" width="6" height="1" fill="#ffffff"/><rect x="705" y="340" width="1" height="5" fill="#ffffff"/><rect x="713" y="336" width="1" height="12" fill="#ffffff"/><rect x="712" y="339" width="3" height="1" fill="#ffffff"/><rect x="712" y="342" width="3" height="1" fill="#ffffff"/><rect x="715" y="336" width="1" height="12" fill="#ffffff"/><rect x="715" y="338" width="4" height="1" fill="#ffffff"/><rect x="715" y="342" width="4" height="1" fill="#ffffff"/><rect x="715" y="345" width="4" height="1" fill="#ffffff"/><rect x="717" y="338" width="1" height="8" fill="#ffffff"/><rect x="720" y="337" width="5" height="1" fill="#ffffff"/><rect x="720" y="337" width="1" height="10" fill="#ffffff"/><rect x="724" y="337" width="1" height="10" fill="#ffffff"/><rect x="720" y="346" width="5" height="1" fill="#ffffff"/><rect x="721" y="340" width="4" height="1" fill="#ffffff"/><rect x="722" y="339" width="1" height="6" fill="#ffffff"/><rect x="721" y="344" width="4" height="1" fill="#ffffff"/><rect x="728" y="336" width="1" height="12" fill="#ffffff"/><rect x="727" y="340" width="2" height="1" fill="#ffffff"/><rect x="730" y="337" width="1" height="10" fill="#ffffff"/><rect x="731" y="337" width="1" height="11" fill="#ffffff"/><rect x="730" y="337" width="3" height="1" fill="#ffffff"/><rect x="730" y="341" width="3" height="1" fill="#ffffff"/><rect x="730" y="346" width="3" height="1" fill="#ffffff"/><rect x="734" y="338" width="6" height="1" fill="#ffffff"/><rect x="736" y="338" width="1" height="10" fill="#ffffff"/><rect x="738" y="338" width="1" height="10" fill="#ffffff"/><rect x="735" y="342" width="5" height="1" fill="#ffffff"/><rect x="734" y="346" width="6" height="1" fill="#ffffff"/><rect x="734" y="340" width="1" height="5" fill="#ffffff"/>
<text x="762" y="346" font-size="9.2" fill="#ffffff" text-anchor="middle" textLength="12" lengthAdjust="spacingAndGlyphs" font-weight="bold">1:50</text>
<text x="1149.1" y="41.7" font-size="11" fill="#ffffff" text-anchor="middle">2</text>
<text x="1057" y="52" font-size="8.05" fill="#ffffff" text-anchor="middle" textLength="10" lengthAdjust="spacingAndGlyphs" font-weight="bold">5400</text>
<text x="968.5" y="64.5" font-size="8.05" fill="#ffffff" text-anchor="middle" textLength="6" lengthAdjust="spacingAndGlyphs" font-weight="bold">120</text>
<text x="999" y="64.5" font-size="8.05" fill="#ffffff" text-anchor="middle" textLength="11" lengthAdjust="spacingAndGlyphs" font-weight="bold">1600</text>
<text x="1081.5" y="64.5" font-size="8.05" fill="#ffffff" text-anchor="middle" textLength="29" lengthAdjust="spacingAndGlyphs" font-weight="bold">300X10=3000</text>
<text x="1142" y="64.5" font-size="8.05" fill="#ffffff" text-anchor="middle" textLength="8" lengthAdjust="spacingAndGlyphs" font-weight="bold">300</text>
<text x="911.2" y="101.3" font-size="11" fill="#ffffff" text-anchor="middle">G</text>
<text x="1177" y="130" font-size="8.05" fill="#ffffff" text-anchor="middle" textLength="10" lengthAdjust="spacingAndGlyphs" transform="rotate(-90 1177 130)" font-weight="bold">1800</text>
<text x="1177" y="190" font-size="8.05" fill="#ffffff" text-anchor="middle" textLength="10" lengthAdjust="spacingAndGlyphs" transform="rotate(-90 1177 190)" font-weight="bold">1800</text>
<text x="1177" y="248" font-size="8.05" fill="#ffffff" text-anchor="middle" textLength="10" lengthAdjust="spacingAndGlyphs" transform="rotate(-90 1177 248)" font-weight="bold">1800</text>
<text x="925" y="130" font-size="8.05" fill="#ffffff" text-anchor="middle" textLength="10" lengthAdjust="spacingAndGlyphs" transform="rotate(-90 925 130)" font-weight="bold">1800</text>
<text x="911.3" y="284.3" font-size="11" fill="#ffffff" text-anchor="middle">E</text>
<text x="1153" y="127" font-size="9.2" fill="#ffffff" text-anchor="middle" font-weight="bold">上</text>
<text x="997.6" y="120.3" font-size="6.9" fill="#00ff00" text-anchor="middle" textLength="11" lengthAdjust="spacingAndGlyphs" font-weight="bold">5.250</text>
<text x="1102" y="190" font-size="6.9" fill="#00ff00" text-anchor="middle" textLength="12" lengthAdjust="spacingAndGlyphs" transform="rotate(58 1102 190)" font-weight="bold">R900</text>
<text x="1106" y="248" font-size="9.2" fill="#ffffff" text-anchor="middle" font-weight="bold">下</text>
<text x="1001" y="260.2" font-size="6.9" fill="#00ff00" text-anchor="middle" textLength="11" lengthAdjust="spacingAndGlyphs" font-weight="bold">2.550</text>
<text x="1141" y="238.9" font-size="6.9" fill="#00ff00" text-anchor="middle" textLength="11" lengthAdjust="spacingAndGlyphs" font-weight="bold">3.600</text>
<text x="925" y="187" font-size="6.9" fill="#ffffff" text-anchor="middle" textLength="24" lengthAdjust="spacingAndGlyphs" transform="rotate(-90 925 187)" font-weight="bold">300X6=1800</text>
<text x="925" y="248" font-size="8.05" fill="#ffffff" text-anchor="middle" textLength="10" lengthAdjust="spacingAndGlyphs" transform="rotate(-90 925 248)" font-weight="bold">1800</text>
<text x="996.5" y="307.5" font-size="8.05" fill="#ffffff" text-anchor="middle" textLength="10" lengthAdjust="spacingAndGlyphs" font-weight="bold">1720</text>
<text x="1060" y="307.5" font-size="8.05" fill="#ffffff" text-anchor="middle" textLength="26" lengthAdjust="spacingAndGlyphs" font-weight="bold">300X6=1800</text>
<text x="1121" y="307.5" font-size="8.05" fill="#ffffff" text-anchor="middle" textLength="10" lengthAdjust="spacingAndGlyphs" font-weight="bold">1500</text>
<rect x="1029" y="338" width="6" height="1" fill="#ffffff"/><rect x="1031" y="338" width="1" height="10" fill="#ffffff"/><rect x="1033" y="338" width="1" height="10" fill="#ffffff"/><rect x="1030" y="342" width="5" height="1" fill="#ffffff"/><rect x="1029" y="346" width="6" height="1" fill="#ffffff"/><rect x="1029" y="340" width="1" height="5" fill="#ffffff"/><rect x="1037" y="336" width="1" height="12" fill="#ffffff"/><rect x="1036" y="339" width="3" height="1" fill="#ffffff"/><rect x="1036" y="342" width="3" height="1" fill="#ffffff"/><rect x="1039" y="336" width="1" height="12" fill="#ffffff"/><rect x="1039" y="338" width="4" height="1" fill="#ffffff"/><rect x="1039" y="342" width="4" height="1" fill="#ffffff"/><rect x="1039" y="345" width="4" height="1" fill="#ffffff"/><rect x="1041" y="338" width="1" height="8" fill="#ffffff"/><rect x="1044" y="337" width="5" height="1" fill="#ffffff"/><rect x="1044" y="337" width="1" height="10" fill="#ffffff"/><rect x="1048" y="337" width="1" height="10" fill="#ffffff"/><rect x="1044" y="346" width="5" height="1" fill="#ffffff"/><rect x="1045" y="340" width="4" height="1" fill="#ffffff"/><rect x="1046" y="339" width="1" height="6" fill="#ffffff"/><rect x="1045" y="344" width="4" height="1" fill="#ffffff"/><rect x="1052" y="336" width="1" height="12" fill="#ffffff"/><rect x="1051" y="340" width="2" height="1" fill="#ffffff"/><rect x="1054" y="337" width="1" height="10" fill="#ffffff"/><rect x="1055" y="337" width="1" height="11" fill="#ffffff"/><rect x="1054" y="337" width="3" height="1" fill="#ffffff"/><rect x="1054" y="341" width="3" height="1" fill="#ffffff"/><rect x="1054" y="346" width="3" height="1" fill="#ffffff"/><rect x="1058" y="338" width="6" height="1" fill="#ffffff"/><rect x="1060" y="338" width="1" height="10" fill="#ffffff"/><rect x="1062" y="338" width="1" height="10" fill="#ffffff"/><rect x="1059" y="342" width="5" height="1" fill="#ffffff"/><rect x="1058" y="346" width="6" height="1" fill="#ffffff"/><rect x="1058" y="340" width="1" height="5" fill="#ffffff"/>
<text x="1084" y="346" font-size="9.2" fill="#ffffff" text-anchor="middle" textLength="12" lengthAdjust="spacingAndGlyphs" font-weight="bold">1:50</text>
<text x="1461.6" y="41.7" font-size="11" fill="#ffffff" text-anchor="middle">2</text>
<text x="1369.5" y="52" font-size="8.05" fill="#ffffff" text-anchor="middle" textLength="10" lengthAdjust="spacingAndGlyphs" font-weight="bold">5400</text>
<text x="1281" y="64.5" font-size="8.05" fill="#ffffff" text-anchor="middle" textLength="6" lengthAdjust="spacingAndGlyphs" font-weight="bold">120</text>
<text x="1311.5" y="64.5" font-size="8.05" fill="#ffffff" text-anchor="middle" textLength="11" lengthAdjust="spacingAndGlyphs" font-weight="bold">1600</text>
<text x="1394" y="64.5" font-size="8.05" fill="#ffffff" text-anchor="middle" textLength="29" lengthAdjust="spacingAndGlyphs" font-weight="bold">300X10=3000</text>
<text x="1454.5" y="64.5" font-size="8.05" fill="#ffffff" text-anchor="middle" textLength="8" lengthAdjust="spacingAndGlyphs" font-weight="bold">300</text>
<text x="1223.7" y="101.3" font-size="11" fill="#ffffff" text-anchor="middle">G</text>
<text x="1489.5" y="130" font-size="8.05" fill="#ffffff" text-anchor="middle" textLength="10" lengthAdjust="spacingAndGlyphs" transform="rotate(-90 1489.5 130)" font-weight="bold">1800</text>
<text x="1489.5" y="190" font-size="8.05" fill="#ffffff" text-anchor="middle" textLength="10" lengthAdjust="spacingAndGlyphs" transform="rotate(-90 1489.5 190)" font-weight="bold">1800</text>
<text x="1489.5" y="248" font-size="8.05" fill="#ffffff" text-anchor="middle" textLength="10" lengthAdjust="spacingAndGlyphs" transform="rotate(-90 1489.5 248)" font-weight="bold">1800</text>
<text x="1237.5" y="130" font-size="8.05" fill="#ffffff" text-anchor="middle" textLength="10" lengthAdjust="spacingAndGlyphs" transform="rotate(-90 1237.5 130)" font-weight="bold">1800</text>
<text x="1223.8" y="284.3" font-size="11" fill="#ffffff" text-anchor="middle">E</text>
<text x="1310.1" y="120.3" font-size="6.9" fill="#00ff00" text-anchor="middle" textLength="11" lengthAdjust="spacingAndGlyphs" font-weight="bold">5.250</text>
<text x="1414.5" y="190" font-size="6.9" fill="#00ff00" text-anchor="middle" textLength="12" lengthAdjust="spacingAndGlyphs" transform="rotate(58 1414.5 190)" font-weight="bold">R900</text>
<text x="1418.5" y="248" font-size="9.2" fill="#ffffff" text-anchor="middle" font-weight="bold">下</text>
<text x="1313.5" y="260.2" font-size="6.9" fill="#00ff00" text-anchor="middle" textLength="11" lengthAdjust="spacingAndGlyphs" font-weight="bold">6.150</text>
<text x="1453.5" y="238.9" font-size="6.9" fill="#00ff00" text-anchor="middle" textLength="11" lengthAdjust="spacingAndGlyphs" font-weight="bold">7.200</text>
<text x="1237.5" y="187" font-size="6.9" fill="#ffffff" text-anchor="middle" textLength="24" lengthAdjust="spacingAndGlyphs" transform="rotate(-90 1237.5 187)" font-weight="bold">300X6=1800</text>
<text x="1237.5" y="248" font-size="8.05" fill="#ffffff" text-anchor="middle" textLength="10" lengthAdjust="spacingAndGlyphs" transform="rotate(-90 1237.5 248)" font-weight="bold">1800</text>
<text x="1309" y="307.5" font-size="8.05" fill="#ffffff" text-anchor="middle" textLength="10" lengthAdjust="spacingAndGlyphs" font-weight="bold">1720</text>
<text x="1372.5" y="307.5" font-size="8.05" fill="#ffffff" text-anchor="middle" textLength="26" lengthAdjust="spacingAndGlyphs" font-weight="bold">300X6=1800</text>
<text x="1433.5" y="307.5" font-size="8.05" fill="#ffffff" text-anchor="middle" textLength="10" lengthAdjust="spacingAndGlyphs" font-weight="bold">1500</text>
<rect x="1342" y="338" width="6" height="1" fill="#ffffff"/><rect x="1343" y="338" width="1" height="10" fill="#ffffff"/><rect x="1345" y="338" width="1" height="10" fill="#ffffff"/><rect x="1342" y="342" width="5" height="1" fill="#ffffff"/><rect x="1342" y="346" width="6" height="1" fill="#ffffff"/><rect x="1342" y="340" width="1" height="5" fill="#ffffff"/><rect x="1350" y="336" width="1" height="12" fill="#ffffff"/><rect x="1349" y="339" width="2" height="1" fill="#ffffff"/><rect x="1349" y="342" width="2" height="1" fill="#ffffff"/><rect x="1352" y="336" width="1" height="12" fill="#ffffff"/><rect x="1352" y="338" width="3" height="1" fill="#ffffff"/><rect x="1352" y="342" width="3" height="1" fill="#ffffff"/><rect x="1352" y="345" width="3" height="1" fill="#ffffff"/><rect x="1353" y="338" width="1" height="8" fill="#ffffff"/><rect x="1357" y="337" width="5" height="1" fill="#ffffff"/><rect x="1357" y="337" width="1" height="10" fill="#ffffff"/><rect x="1361" y="337" width="1" height="10" fill="#ffffff"/><rect x="1357" y="346" width="5" height="1" fill="#ffffff"/><rect x="1357" y="340" width="4" height="1" fill="#ffffff"/><rect x="1359" y="339" width="1" height="6" fill="#ffffff"/><rect x="1357" y="344" width="4" height="1" fill="#ffffff"/><rect x="1364" y="336" width="1" height="12" fill="#ffffff"/><rect x="1363" y="340" width="3" height="1" fill="#ffffff"/><rect x="1366" y="337" width="1" height="10" fill="#ffffff"/><rect x="1368" y="337" width="1" height="11" fill="#ffffff"/><rect x="1366" y="337" width="4" height="1" fill="#ffffff"/><rect x="1367" y="341" width="2" height="1" fill="#ffffff"/><rect x="1366" y="346" width="4" height="1" fill="#ffffff"/><rect x="1371" y="338" width="6" height="1" fill="#ffffff"/><rect x="1372" y="338" width="1" height="10" fill="#ffffff"/><rect x="1374" y="338" width="1" height="10" fill="#ffffff"/><rect x="1371" y="342" width="5" height="1" fill="#ffffff"/><rect x="1371" y="346" width="6" height="1" fill="#ffffff"/><rect x="1371" y="340" width="1" height="5" fill="#ffffff"/>
<text x="1396.5" y="346" font-size="9.2" fill="#ffffff" text-anchor="middle" textLength="12" lengthAdjust="spacingAndGlyphs" font-weight="bold">1:50</text>
<text x="118.6" y="553" font-size="11" fill="#ffffff" text-anchor="middle">8</text>
<text x="248.1" y="553" font-size="11" fill="#ffffff" text-anchor="middle">9</text>
<text x="183.35" y="561" font-size="8.05" fill="#ffffff" text-anchor="middle" textLength="10" lengthAdjust="spacingAndGlyphs" font-weight="bold">2600</text>
<text x="121.6" y="573" font-size="8.05" fill="#ffffff" text-anchor="middle" textLength="6" lengthAdjust="spacingAndGlyphs" font-weight="bold">120</text>
<text x="151.6" y="573" font-size="8.05" fill="#ffffff" text-anchor="middle" textLength="9" lengthAdjust="spacingAndGlyphs" font-weight="bold">1400</text>
<text x="182.6" y="573" font-size="8.05" fill="#ffffff" text-anchor="middle" textLength="6" lengthAdjust="spacingAndGlyphs" font-weight="bold">180</text>
<text x="214.6" y="573" font-size="8.05" fill="#ffffff" text-anchor="middle" textLength="9" lengthAdjust="spacingAndGlyphs" font-weight="bold">1400</text>
<text x="246.1" y="573" font-size="8.05" fill="#ffffff" text-anchor="middle" textLength="6" lengthAdjust="spacingAndGlyphs" font-weight="bold">120</text>
<text x="303.2" y="680.1" font-size="11" fill="#ffffff" text-anchor="middle">H</text>
<text x="303.2" y="895.4" font-size="11" fill="#ffffff" text-anchor="middle">G</text>
<text x="286" y="634" font-size="8.05" fill="#ffffff" text-anchor="middle" textLength="10" lengthAdjust="spacingAndGlyphs" transform="rotate(-90 286 634)" font-weight="bold">2100</text>
<text x="286" y="785" font-size="8.05" fill="#ffffff" text-anchor="middle" textLength="10" lengthAdjust="spacingAndGlyphs" transform="rotate(-90 286 785)" font-weight="bold">6300</text>
<text x="275" y="860" font-size="6.9" fill="#ffffff" text-anchor="middle" textLength="6" lengthAdjust="spacingAndGlyphs" transform="rotate(-90 275 860)" font-weight="bold">120</text>
<text x="275" y="878" font-size="6.9" fill="#ffffff" text-anchor="middle" textLength="6" lengthAdjust="spacingAndGlyphs" transform="rotate(-90 275 878)" font-weight="bold">250</text>
<text x="88" y="685" font-size="8.05" fill="#ffffff" text-anchor="middle" textLength="10" lengthAdjust="spacingAndGlyphs" transform="rotate(-90 88 685)" font-weight="bold">2850</text>
<text x="87" y="812.6" font-size="6.9" fill="#ffffff" text-anchor="middle" textLength="26" lengthAdjust="spacingAndGlyphs" transform="rotate(-90 87 812.6)" font-weight="bold">300X11=3300</text>
<text x="87" y="889" font-size="6.9" fill="#ffffff" text-anchor="middle" textLength="6" lengthAdjust="spacingAndGlyphs" transform="rotate(-90 87 889)" font-weight="bold">120</text>
<text x="188.5" y="641" font-size="11" fill="#00ff00" text-anchor="middle">1</text>
<text x="188.5" y="957" font-size="11" fill="#00ff00" text-anchor="middle">1</text>
<text x="155.6" y="905" font-size="9.2" fill="#ffffff" text-anchor="middle" font-weight="bold">上</text>
<text x="206.5" y="759" font-size="6.9" fill="#00ff00" text-anchor="middle" textLength="11" lengthAdjust="spacingAndGlyphs" font-weight="bold">-0.100</text>
<text x="184" y="909.5" font-size="6.9" fill="#00ff00" text-anchor="middle" textLength="11" lengthAdjust="spacingAndGlyphs" font-weight="bold">±0.000</text>
<text x="172" y="938" font-size="10.35" fill="#ffffff" text-anchor="middle" textLength="8" lengthAdjust="spacingAndGlyphs" font-weight="bold">#1</text>
<rect x="181" y="928" width="1" height="12" fill="#ffffff"/><rect x="180" y="931" width="2" height="1" fill="#ffffff"/><rect x="180" y="934" width="2" height="1" fill="#ffffff"/><rect x="183" y="928" width="1" height="12" fill="#ffffff"/><rect x="183" y="930" width="3" height="1" fill="#ffffff"/><rect x="183" y="934" width="3" height="1" fill="#ffffff"/><rect x="183" y="937" width="3" height="1" fill="#ffffff"/><rect x="184" y="930" width="1" height="8" fill="#ffffff"/><rect x="188" y="929" width="4" height="1" fill="#ffffff"/><rect x="187" y="929" width="1" height="10" fill="#ffffff"/><rect x="191" y="929" width="1" height="10" fill="#ffffff"/><rect x="188" y="938" width="4" height="1" fill="#ffffff"/><rect x="188" y="932" width="4" height="1" fill="#ffffff"/><rect x="189" y="931" width="1" height="6" fill="#ffffff"/><rect x="188" y="936" width="4" height="1" fill="#ffffff"/>
<rect x="205" y="930" width="6" height="1" fill="#ffffff"/><rect x="207" y="930" width="1" height="10" fill="#ffffff"/><rect x="209" y="930" width="1" height="10" fill="#ffffff"/><rect x="206" y="934" width="5" height="1" fill="#ffffff"/><rect x="205" y="938" width="6" height="1" fill="#ffffff"/><rect x="205" y="932" width="1" height="5" fill="#ffffff"/><rect x="213" y="928" width="1" height="12" fill="#ffffff"/><rect x="212" y="931" width="3" height="1" fill="#ffffff"/><rect x="212" y="934" width="3" height="1" fill="#ffffff"/><rect x="215" y="928" width="1" height="12" fill="#ffffff"/><rect x="215" y="930" width="4" height="1" fill="#ffffff"/><rect x="215" y="934" width="4" height="1" fill="#ffffff"/><rect x="215" y="937" width="4" height="1" fill="#ffffff"/><rect x="217" y="930" width="1" height="8" fill="#ffffff"/><rect x="220" y="929" width="5" height="1" fill="#ffffff"/><rect x="220" y="929" width="1" height="10" fill="#ffffff"/><rect x="224" y="929" width="1" height="10" fill="#ffffff"/><rect x="220" y="938" width="5" height="1" fill="#ffffff"/><rect x="221" y="932" width="4" height="1" fill="#ffffff"/><rect x="222" y="931" width="1" height="6" fill="#ffffff"/><rect x="221" y="936" width="4" height="1" fill="#ffffff"/><rect x="228" y="928" width="1" height="12" fill="#ffffff"/><rect x="227" y="932" width="2" height="1" fill="#ffffff"/><rect x="230" y="929" width="1" height="10" fill="#ffffff"/><rect x="231" y="929" width="1" height="11" fill="#ffffff"/><rect x="230" y="929" width="3" height="1" fill="#ffffff"/><rect x="230" y="933" width="3" height="1" fill="#ffffff"/><rect x="230" y="938" width="3" height="1" fill="#ffffff"/><rect x="234" y="930" width="6" height="1" fill="#ffffff"/><rect x="236" y="930" width="1" height="10" fill="#ffffff"/><rect x="238" y="930" width="1" height="10" fill="#ffffff"/><rect x="235" y="934" width="5" height="1" fill="#ffffff"/><rect x="234" y="938" width="6" height="1" fill="#ffffff"/><rect x="234" y="932" width="1" height="5" fill="#ffffff"/>
<text x="262" y="938" font-size="9.2" fill="#ffffff" text-anchor="middle" textLength="12" lengthAdjust="spacingAndGlyphs" font-weight="bold">1:50</text>
<text x="359.4" y="579.4" font-size="11" fill="#ffffff" text-anchor="middle">8</text>
<text x="488.3" y="579.4" font-size="11" fill="#ffffff" text-anchor="middle">9</text>
<text x="423.85" y="587.4" font-size="8.05" fill="#ffffff" text-anchor="middle" textLength="10" lengthAdjust="spacingAndGlyphs" font-weight="bold">2600</text>
<text x="362.4" y="599.4" font-size="8.05" fill="#ffffff" text-anchor="middle" textLength="6" lengthAdjust="spacingAndGlyphs" font-weight="bold">120</text>
<text x="392.4" y="599.4" font-size="8.05" fill="#ffffff" text-anchor="middle" textLength="9" lengthAdjust="spacingAndGlyphs" font-weight="bold">1400</text>
<text x="423.4" y="599.4" font-size="8.05" fill="#ffffff" text-anchor="middle" textLength="6" lengthAdjust="spacingAndGlyphs" font-weight="bold">180</text>
<text x="455.4" y="599.4" font-size="8.05" fill="#ffffff" text-anchor="middle" textLength="9" lengthAdjust="spacingAndGlyphs" font-weight="bold">1400</text>
<text x="486.3" y="599.4" font-size="8.05" fill="#ffffff" text-anchor="middle" textLength="6" lengthAdjust="spacingAndGlyphs" font-weight="bold">120</text>
<text x="544.2" y="680.1" font-size="11" fill="#ffffff" text-anchor="middle">H</text>
<text x="544" y="896" font-size="11" fill="#ffffff" text-anchor="middle">G</text>
<text x="526.5" y="655" font-size="8.05" fill="#ffffff" text-anchor="middle" textLength="10" lengthAdjust="spacingAndGlyphs" transform="rotate(-90 526.5 655)" font-weight="bold">1200</text>
<text x="515" y="718" font-size="6.9" fill="#ffffff" text-anchor="middle" textLength="9" lengthAdjust="spacingAndGlyphs" transform="rotate(-90 515 718)" font-weight="bold">2200</text>
<text x="526.5" y="785" font-size="8.05" fill="#ffffff" text-anchor="middle" textLength="10" lengthAdjust="spacingAndGlyphs" transform="rotate(-90 526.5 785)" font-weight="bold">6300</text>
<text x="515" y="800" font-size="6.9" fill="#ffffff" text-anchor="middle" textLength="23" lengthAdjust="spacingAndGlyphs" transform="rotate(-90 515 800)" font-weight="bold">300X8=2400</text>
<text x="515" y="868" font-size="6.9" fill="#ffffff" text-anchor="middle" textLength="9" lengthAdjust="spacingAndGlyphs" transform="rotate(-90 515 868)" font-weight="bold">1350</text>
<text x="328" y="685" font-size="8.05" fill="#ffffff" text-anchor="middle" textLength="10" lengthAdjust="spacingAndGlyphs" transform="rotate(-90 328 685)" font-weight="bold">2850</text>
<text x="327" y="807" font-size="6.9" fill="#ffffff" text-anchor="middle" textLength="24" lengthAdjust="spacingAndGlyphs" transform="rotate(-90 327 807)" font-weight="bold">300X10=3000</text>
<text x="327" y="884" font-size="6.9" fill="#ffffff" text-anchor="middle" textLength="6" lengthAdjust="spacingAndGlyphs" transform="rotate(-90 327 884)" font-weight="bold">120</text>
<text x="421.3" y="694" font-size="6.9" fill="#00ff00" text-anchor="middle" textLength="11" lengthAdjust="spacingAndGlyphs" font-weight="bold">2.250</text>
<text x="396" y="906" font-size="9.2" fill="#ffffff" text-anchor="middle" font-weight="bold">上</text>
<text x="428.5" y="914" font-size="6.9" fill="#00ff00" text-anchor="middle" textLength="11" lengthAdjust="spacingAndGlyphs" font-weight="bold">1.650</text>
<text x="464" y="867" font-size="9.2" fill="#ffffff" text-anchor="middle" font-weight="bold">下</text>
<rect x="447" y="930" width="6" height="1" fill="#ffffff"/><rect x="449" y="930" width="1" height="10" fill="#ffffff"/><rect x="451" y="930" width="1" height="10" fill="#ffffff"/><rect x="448" y="934" width="5" height="1" fill="#ffffff"/><rect x="447" y="938" width="6" height="1" fill="#ffffff"/><rect x="447" y="932" width="1" height="5" fill="#ffffff"/><rect x="455" y="928" width="1" height="12" fill="#ffffff"/><rect x="454" y="931" width="3" height="1" fill="#ffffff"/><rect x="454" y="934" width="3" height="1" fill="#ffffff"/><rect x="457" y="928" width="1" height="12" fill="#ffffff"/><rect x="457" y="930" width="4" height="1" fill="#ffffff"/><rect x="457" y="934" width="4" height="1" fill="#ffffff"/><rect x="457" y="937" width="4" height="1" fill="#ffffff"/><rect x="459" y="930" width="1" height="8" fill="#ffffff"/><rect x="462" y="929" width="5" height="1" fill="#ffffff"/><rect x="462" y="929" width="1" height="10" fill="#ffffff"/><rect x="466" y="929" width="1" height="10" fill="#ffffff"/><rect x="462" y="938" width="5" height="1" fill="#ffffff"/><rect x="463" y="932" width="4" height="1" fill="#ffffff"/><rect x="464" y="931" width="1" height="6" fill="#ffffff"/><rect x="463" y="936" width="4" height="1" fill="#ffffff"/><rect x="470" y="928" width="1" height="12" fill="#ffffff"/><rect x="469" y="932" width="2" height="1" fill="#ffffff"/><rect x="472" y="929" width="1" height="10" fill="#ffffff"/><rect x="473" y="929" width="1" height="11" fill="#ffffff"/><rect x="472" y="929" width="3" height="1" fill="#ffffff"/><rect x="472" y="933" width="3" height="1" fill="#ffffff"/><rect x="472" y="938" width="3" height="1" fill="#ffffff"/><rect x="476" y="930" width="6" height="1" fill="#ffffff"/><rect x="478" y="930" width="1" height="10" fill="#ffffff"/><rect x="480" y="930" width="1" height="10" fill="#ffffff"/><rect x="477" y="934" width="5" height="1" fill="#ffffff"/><rect x="476" y="938" width="6" height="1" fill="#ffffff"/><rect x="476" y="932" width="1" height="5" fill="#ffffff"/>
<text x="502.5" y="938" font-size="9.2" fill="#ffffff" text-anchor="middle" textLength="12" lengthAdjust="spacingAndGlyphs" font-weight="bold">1:50</text>
<text x="599.9" y="579.4" font-size="11" fill="#ffffff" text-anchor="middle">8</text>
<text x="728.8" y="579.4" font-size="11" fill="#ffffff" text-anchor="middle">9</text>
<text x="664.35" y="587.4" font-size="8.05" fill="#ffffff" text-anchor="middle" textLength="10" lengthAdjust="spacingAndGlyphs" font-weight="bold">2600</text>
<text x="602.9" y="599.4" font-size="8.05" fill="#ffffff" text-anchor="middle" textLength="6" lengthAdjust="spacingAndGlyphs" font-weight="bold">120</text>
<text x="632.9" y="599.4" font-size="8.05" fill="#ffffff" text-anchor="middle" textLength="9" lengthAdjust="spacingAndGlyphs" font-weight="bold">1400</text>
<text x="663.9" y="599.4" font-size="8.05" fill="#ffffff" text-anchor="middle" textLength="6" lengthAdjust="spacingAndGlyphs" font-weight="bold">180</text>
<text x="695.9" y="599.4" font-size="8.05" fill="#ffffff" text-anchor="middle" textLength="9" lengthAdjust="spacingAndGlyphs" font-weight="bold">1400</text>
<text x="726.8" y="599.4" font-size="8.05" fill="#ffffff" text-anchor="middle" textLength="6" lengthAdjust="spacingAndGlyphs" font-weight="bold">120</text>
<text x="784.7" y="680.1" font-size="11" fill="#ffffff" text-anchor="middle">H</text>
<text x="784.5" y="896" font-size="11" fill="#ffffff" text-anchor="middle">G</text>
<text x="767" y="655" font-size="8.05" fill="#ffffff" text-anchor="middle" textLength="10" lengthAdjust="spacingAndGlyphs" transform="rotate(-90 767 655)" font-weight="bold">1200</text>
<text x="755.5" y="718" font-size="6.9" fill="#ffffff" text-anchor="middle" textLength="9" lengthAdjust="spacingAndGlyphs" transform="rotate(-90 755.5 718)" font-weight="bold">2200</text>
<text x="767" y="785" font-size="8.05" fill="#ffffff" text-anchor="middle" textLength="10" lengthAdjust="spacingAndGlyphs" transform="rotate(-90 767 785)" font-weight="bold">6300</text>
<text x="755.5" y="796" font-size="6.9" fill="#ffffff" text-anchor="middle" textLength="23" lengthAdjust="spacingAndGlyphs" transform="rotate(-90 755.5 796)" font-weight="bold">300X9=2700</text>
<text x="755.5" y="868" font-size="6.9" fill="#ffffff" text-anchor="middle" textLength="9" lengthAdjust="spacingAndGlyphs" transform="rotate(-90 755.5 868)" font-weight="bold">1350</text>
<text x="568.5" y="685" font-size="8.05" fill="#ffffff" text-anchor="middle" textLength="10" lengthAdjust="spacingAndGlyphs" transform="rotate(-90 568.5 685)" font-weight="bold">2850</text>
<text x="567.5" y="807" font-size="6.9" fill="#ffffff" text-anchor="middle" textLength="24" lengthAdjust="spacingAndGlyphs" transform="rotate(-90 567.5 807)" font-weight="bold">300X10=3000</text>
<text x="567.5" y="884" font-size="6.9" fill="#ffffff" text-anchor="middle" textLength="6" lengthAdjust="spacingAndGlyphs" transform="rotate(-90 567.5 884)" font-weight="bold">120</text>
<text x="661.8" y="694" font-size="6.9" fill="#00ff00" text-anchor="middle" textLength="11" lengthAdjust="spacingAndGlyphs" font-weight="bold">5.700</text>
<text x="636.5" y="894" font-size="9.2" fill="#ffffff" text-anchor="middle" font-weight="bold">上</text>
<text x="669" y="914" font-size="6.9" fill="#00ff00" text-anchor="middle" textLength="11" lengthAdjust="spacingAndGlyphs" font-weight="bold">7.200</text>
<text x="704.5" y="867" font-size="9.2" fill="#ffffff" text-anchor="middle" font-weight="bold">下</text>
<rect x="688" y="930" width="6" height="1" fill="#ffffff"/><rect x="689" y="930" width="1" height="10" fill="#ffffff"/><rect x="691" y="930" width="1" height="10" fill="#ffffff"/><rect x="688" y="934" width="5" height="1" fill="#ffffff"/><rect x="688" y="938" width="6" height="1" fill="#ffffff"/><rect x="688" y="932" width="1" height="5" fill="#ffffff"/><rect x="696" y="928" width="1" height="12" fill="#ffffff"/><rect x="695" y="931" width="2" height="1" fill="#ffffff"/><rect x="695" y="934" width="2" height="1" fill="#ffffff"/><rect x="698" y="928" width="1" height="12" fill="#ffffff"/><rect x="698" y="930" width="3" height="1" fill="#ffffff"/><rect x="698" y="934" width="3" height="1" fill="#ffffff"/><rect x="698" y="937" width="3" height="1" fill="#ffffff"/><rect x="699" y="930" width="1" height="8" fill="#ffffff"/><rect x="703" y="929" width="5" height="1" fill="#ffffff"/><rect x="703" y="929" width="1" height="10" fill="#ffffff"/><rect x="707" y="929" width="1" height="10" fill="#ffffff"/><rect x="703" y="938" width="5" height="1" fill="#ffffff"/><rect x="703" y="932" width="4" height="1" fill="#ffffff"/><rect x="705" y="931" width="1" height="6" fill="#ffffff"/><rect x="703" y="936" width="4" height="1" fill="#ffffff"/><rect x="710" y="928" width="1" height="12" fill="#ffffff"/><rect x="709" y="932" width="3" height="1" fill="#ffffff"/><rect x="712" y="929" width="1" height="10" fill="#ffffff"/><rect x="714" y="929" width="1" height="11" fill="#ffffff"/><rect x="712" y="929" width="4" height="1" fill="#ffffff"/><rect x="713" y="933" width="2" height="1" fill="#ffffff"/><rect x="712" y="938" width="4" height="1" fill="#ffffff"/><rect x="717" y="930" width="6" height="1" fill="#ffffff"/><rect x="718" y="930" width="1" height="10" fill="#ffffff"/><rect x="720" y="930" width="1" height="10" fill="#ffffff"/><rect x="717" y="934" width="5" height="1" fill="#ffffff"/><rect x="717" y="938" width="6" height="1" fill="#ffffff"/><rect x="717" y="932" width="1" height="5" fill="#ffffff"/>
<text x="743" y="938" font-size="9.2" fill="#ffffff" text-anchor="middle" textLength="12" lengthAdjust="spacingAndGlyphs" font-weight="bold">1:50</text>
<text x="840.9" y="579.4" font-size="11" fill="#ffffff" text-anchor="middle">8</text>
<text x="969.8" y="579.4" font-size="11" fill="#ffffff" text-anchor="middle">9</text>
<text x="905.35" y="587.4" font-size="8.05" fill="#ffffff" text-anchor="middle" textLength="10" lengthAdjust="spacingAndGlyphs" font-weight="bold">2600</text>
<text x="843.9" y="599.4" font-size="8.05" fill="#ffffff" text-anchor="middle" textLength="6" lengthAdjust="spacingAndGlyphs" font-weight="bold">120</text>
<text x="873.9" y="599.4" font-size="8.05" fill="#ffffff" text-anchor="middle" textLength="9" lengthAdjust="spacingAndGlyphs" font-weight="bold">1400</text>
<text x="904.9" y="599.4" font-size="8.05" fill="#ffffff" text-anchor="middle" textLength="6" lengthAdjust="spacingAndGlyphs" font-weight="bold">180</text>
<text x="936.9" y="599.4" font-size="8.05" fill="#ffffff" text-anchor="middle" textLength="9" lengthAdjust="spacingAndGlyphs" font-weight="bold">1400</text>
<text x="967.8" y="599.4" font-size="8.05" fill="#ffffff" text-anchor="middle" textLength="6" lengthAdjust="spacingAndGlyphs" font-weight="bold">120</text>
<text x="1025.7" y="680.1" font-size="11" fill="#ffffff" text-anchor="middle">H</text>
<text x="1025.5" y="896" font-size="11" fill="#ffffff" text-anchor="middle">G</text>
<text x="1008" y="655" font-size="8.05" fill="#ffffff" text-anchor="middle" textLength="10" lengthAdjust="spacingAndGlyphs" transform="rotate(-90 1008 655)" font-weight="bold">1200</text>
<text x="996.5" y="718" font-size="6.9" fill="#ffffff" text-anchor="middle" textLength="9" lengthAdjust="spacingAndGlyphs" transform="rotate(-90 996.5 718)" font-weight="bold">2200</text>
<text x="1008" y="785" font-size="8.05" fill="#ffffff" text-anchor="middle" textLength="10" lengthAdjust="spacingAndGlyphs" transform="rotate(-90 1008 785)" font-weight="bold">6300</text>
<text x="996.5" y="796" font-size="6.9" fill="#ffffff" text-anchor="middle" textLength="23" lengthAdjust="spacingAndGlyphs" transform="rotate(-90 996.5 796)" font-weight="bold">300X9=2700</text>
<text x="996.5" y="868" font-size="6.9" fill="#ffffff" text-anchor="middle" textLength="9" lengthAdjust="spacingAndGlyphs" transform="rotate(-90 996.5 868)" font-weight="bold">1350</text>
<text x="809.5" y="685" font-size="8.05" fill="#ffffff" text-anchor="middle" textLength="10" lengthAdjust="spacingAndGlyphs" transform="rotate(-90 809.5 685)" font-weight="bold">2850</text>
<text x="808.5" y="807" font-size="6.9" fill="#ffffff" text-anchor="middle" textLength="24" lengthAdjust="spacingAndGlyphs" transform="rotate(-90 808.5 807)" font-weight="bold">300X10=3000</text>
<text x="808.5" y="884" font-size="6.9" fill="#ffffff" text-anchor="middle" textLength="6" lengthAdjust="spacingAndGlyphs" transform="rotate(-90 808.5 884)" font-weight="bold">120</text>
<text x="902.8" y="694" font-size="6.9" fill="#00ff00" text-anchor="middle" textLength="11" lengthAdjust="spacingAndGlyphs" font-weight="bold">9.000</text>
<text x="909" y="893" font-size="6.9" fill="#00ff00" text-anchor="middle" textLength="11" lengthAdjust="spacingAndGlyphs" font-weight="bold">10.800</text>
<text x="945.5" y="867" font-size="9.2" fill="#ffffff" text-anchor="middle" font-weight="bold">下</text>
<rect x="928" y="930" width="7" height="1" fill="#ffffff"/><rect x="930" y="930" width="1" height="10" fill="#ffffff"/><rect x="932" y="930" width="1" height="10" fill="#ffffff"/><rect x="929" y="934" width="5" height="1" fill="#ffffff"/><rect x="928" y="938" width="7" height="1" fill="#ffffff"/><rect x="929" y="932" width="1" height="5" fill="#ffffff"/><rect x="937" y="928" width="1" height="12" fill="#ffffff"/><rect x="936" y="931" width="2" height="1" fill="#ffffff"/><rect x="936" y="934" width="2" height="1" fill="#ffffff"/><rect x="939" y="928" width="1" height="12" fill="#ffffff"/><rect x="939" y="930" width="3" height="1" fill="#ffffff"/><rect x="939" y="934" width="3" height="1" fill="#ffffff"/><rect x="939" y="937" width="3" height="1" fill="#ffffff"/><rect x="940" y="930" width="1" height="8" fill="#ffffff"/><rect x="944" y="929" width="5" height="1" fill="#ffffff"/><rect x="944" y="929" width="1" height="10" fill="#ffffff"/><rect x="948" y="929" width="1" height="10" fill="#ffffff"/><rect x="944" y="938" width="5" height="1" fill="#ffffff"/><rect x="944" y="932" width="4" height="1" fill="#ffffff"/><rect x="946" y="931" width="1" height="6" fill="#ffffff"/><rect x="944" y="936" width="4" height="1" fill="#ffffff"/><rect x="951" y="928" width="1" height="12" fill="#ffffff"/><rect x="950" y="932" width="3" height="1" fill="#ffffff"/><rect x="953" y="929" width="1" height="10" fill="#ffffff"/><rect x="955" y="929" width="1" height="11" fill="#ffffff"/><rect x="953" y="929" width="4" height="1" fill="#ffffff"/><rect x="954" y="933" width="2" height="1" fill="#ffffff"/><rect x="953" y="938" width="4" height="1" fill="#ffffff"/><rect x="958" y="930" width="6" height="1" fill="#ffffff"/><rect x="959" y="930" width="1" height="10" fill="#ffffff"/><rect x="961" y="930" width="1" height="10" fill="#ffffff"/><rect x="958" y="934" width="5" height="1" fill="#ffffff"/><rect x="958" y="938" width="6" height="1" fill="#ffffff"/><rect x="958" y="932" width="1" height="5" fill="#ffffff"/>
<text x="984" y="938" font-size="9.2" fill="#ffffff" text-anchor="middle" textLength="12" lengthAdjust="spacingAndGlyphs" font-weight="bold">1:50</text>
<text x="1280" y="458.5" font-size="10.5" fill="#ffffff" text-anchor="start" textLength="11" lengthAdjust="spacingAndGlyphs">100</text>
<rect x="1292" y="451" width="4" height="1" fill="#ffffff"/><rect x="1293" y="451" width="1" height="8" fill="#ffffff"/><rect x="1294" y="451" width="1" height="8" fill="#ffffff"/><rect x="1292" y="454" width="4" height="1" fill="#ffffff"/><rect x="1292" y="457" width="4" height="1" fill="#ffffff"/><rect x="1292" y="453" width="1" height="4" fill="#ffffff"/><rect x="1298" y="450" width="1" height="9" fill="#ffffff"/><rect x="1297" y="452" width="2" height="1" fill="#ffffff"/><rect x="1297" y="455" width="2" height="1" fill="#ffffff"/><rect x="1299" y="450" width="1" height="9" fill="#ffffff"/><rect x="1299" y="451" width="3" height="1" fill="#ffffff"/><rect x="1299" y="454" width="3" height="1" fill="#ffffff"/><rect x="1299" y="457" width="3" height="1" fill="#ffffff"/><rect x="1300" y="451" width="1" height="7" fill="#ffffff"/><rect x="1303" y="450" width="3" height="1" fill="#ffffff"/><rect x="1303" y="450" width="1" height="9" fill="#ffffff"/><rect x="1305" y="450" width="1" height="9" fill="#ffffff"/><rect x="1303" y="458" width="3" height="1" fill="#ffffff"/><rect x="1303" y="453" width="3" height="1" fill="#ffffff"/><rect x="1304" y="452" width="1" height="5" fill="#ffffff"/><rect x="1303" y="456" width="3" height="1" fill="#ffffff"/><rect x="1308" y="450" width="1" height="9" fill="#ffffff"/><rect x="1308" y="452" width="1" height="1" fill="#ffffff"/><rect x="1309" y="450" width="1" height="9" fill="#ffffff"/><rect x="1311" y="450" width="1" height="9" fill="#ffffff"/><rect x="1310" y="451" width="2" height="1" fill="#ffffff"/><rect x="1310" y="454" width="2" height="1" fill="#ffffff"/><rect x="1310" y="457" width="2" height="1" fill="#ffffff"/><rect x="1313" y="451" width="4" height="1" fill="#ffffff"/><rect x="1314" y="451" width="1" height="8" fill="#ffffff"/><rect x="1315" y="451" width="1" height="8" fill="#ffffff"/><rect x="1313" y="454" width="4" height="1" fill="#ffffff"/><rect x="1313" y="457" width="4" height="1" fill="#ffffff"/><rect x="1313" y="453" width="1" height="4" fill="#ffffff"/>
<rect x="1376" y="796" width="1" height="10" fill="#ffffff"/><rect x="1375" y="799" width="2" height="1" fill="#ffffff"/><rect x="1377" y="797" width="1" height="8" fill="#ffffff"/><rect x="1379" y="797" width="1" height="9" fill="#ffffff"/><rect x="1377" y="797" width="3" height="1" fill="#ffffff"/><rect x="1378" y="800" width="2" height="1" fill="#ffffff"/><rect x="1377" y="804" width="3" height="1" fill="#ffffff"/><rect x="1381" y="797" width="5" height="1" fill="#ffffff"/><rect x="1382" y="797" width="1" height="9" fill="#ffffff"/><rect x="1384" y="797" width="1" height="9" fill="#ffffff"/><rect x="1382" y="800" width="4" height="1" fill="#ffffff"/><rect x="1381" y="804" width="5" height="1" fill="#ffffff"/><rect x="1381" y="799" width="1" height="5" fill="#ffffff"/><rect x="1388" y="796" width="1" height="10" fill="#ffffff"/><rect x="1387" y="798" width="3" height="1" fill="#ffffff"/><rect x="1387" y="801" width="3" height="1" fill="#ffffff"/><rect x="1390" y="796" width="1" height="10" fill="#ffffff"/><rect x="1390" y="798" width="3" height="1" fill="#ffffff"/><rect x="1390" y="800" width="3" height="1" fill="#ffffff"/><rect x="1390" y="803" width="3" height="1" fill="#ffffff"/><rect x="1391" y="798" width="1" height="6" fill="#ffffff"/><rect x="1394" y="797" width="4" height="1" fill="#ffffff"/><rect x="1394" y="797" width="1" height="8" fill="#ffffff"/><rect x="1397" y="797" width="1" height="8" fill="#ffffff"/><rect x="1394" y="804" width="4" height="1" fill="#ffffff"/><rect x="1395" y="800" width="3" height="1" fill="#ffffff"/><rect x="1396" y="798" width="1" height="6" fill="#ffffff"/><rect x="1395" y="802" width="3" height="1" fill="#ffffff"/>
<rect x="1366" y="814" width="4" height="1" fill="#ffffff"/><rect x="1367" y="814" width="1" height="7" fill="#ffffff"/><rect x="1368" y="814" width="1" height="7" fill="#ffffff"/><rect x="1366" y="816" width="4" height="1" fill="#ffffff"/><rect x="1366" y="819" width="4" height="1" fill="#ffffff"/><rect x="1366" y="815" width="1" height="4" fill="#ffffff"/>
<text x="1376" y="820" font-size="8.05" fill="#00ff00" text-anchor="start" textLength="11" lengthAdjust="spacingAndGlyphs" font-weight="bold">2001</text>
<rect x="1392" y="814" width="4" height="1" fill="#ffffff"/><rect x="1393" y="814" width="1" height="7" fill="#ffffff"/><rect x="1394" y="814" width="1" height="7" fill="#ffffff"/><rect x="1392" y="816" width="4" height="1" fill="#ffffff"/><rect x="1392" y="819" width="4" height="1" fill="#ffffff"/><rect x="1392" y="815" width="1" height="4" fill="#ffffff"/>
<text x="1403" y="820" font-size="8.05" fill="#00ff00" text-anchor="start" textLength="9" lengthAdjust="spacingAndGlyphs" font-weight="bold">J43</text>
<text x="1497" y="471.5" font-size="6.9" fill="#00ff00" text-anchor="middle" textLength="13" lengthAdjust="spacingAndGlyphs" font-weight="bold">10.800</text>
<text x="1497" y="525.6" font-size="6.9" fill="#00ff00" text-anchor="middle" textLength="13" lengthAdjust="spacingAndGlyphs" font-weight="bold">9.300</text>
<text x="1497" y="600.6" font-size="6.9" fill="#00ff00" text-anchor="middle" textLength="13" lengthAdjust="spacingAndGlyphs" font-weight="bold">7.200</text>
<text x="1497" y="654.5" font-size="6.9" fill="#00ff00" text-anchor="middle" textLength="13" lengthAdjust="spacingAndGlyphs" font-weight="bold">5.700</text>
<text x="1497" y="730" font-size="6.9" fill="#00ff00" text-anchor="middle" textLength="13" lengthAdjust="spacingAndGlyphs" font-weight="bold">3.600</text>
<text x="1497" y="778.6" font-size="6.9" fill="#00ff00" text-anchor="middle" textLength="13" lengthAdjust="spacingAndGlyphs" font-weight="bold">2.250</text>
<text x="1497" y="859" font-size="6.9" fill="#00ff00" text-anchor="middle" textLength="13" lengthAdjust="spacingAndGlyphs" font-weight="bold">±0.000</text>
<text x="1455.5" y="507.05" font-size="6.9" fill="#ffffff" text-anchor="middle" textLength="27.05" lengthAdjust="spacingAndGlyphs" transform="rotate(-90 1455.5 507.05)" font-weight="bold">150X7=1050</text>
<text x="1455.5" y="571.6" font-size="6.9" fill="#ffffff" text-anchor="middle" textLength="37.5" lengthAdjust="spacingAndGlyphs" transform="rotate(-90 1455.5 571.6)" font-weight="bold">150X14=2100</text>
<text x="1455.5" y="636.05" font-size="6.9" fill="#ffffff" text-anchor="middle" textLength="26.95" lengthAdjust="spacingAndGlyphs" transform="rotate(-90 1455.5 636.05)" font-weight="bold">150X7=1050</text>
<text x="1455.5" y="700.75" font-size="6.9" fill="#ffffff" text-anchor="middle" textLength="37.75" lengthAdjust="spacingAndGlyphs" transform="rotate(-90 1455.5 700.75)" font-weight="bold">150X14=2100</text>
<text x="1455.5" y="762.8" font-size="6.9" fill="#ffffff" text-anchor="middle" textLength="24.3" lengthAdjust="spacingAndGlyphs" transform="rotate(-90 1455.5 762.8)" font-weight="bold">150X9=1350</text>
<text x="1455.5" y="827.3" font-size="6.9" fill="#ffffff" text-anchor="middle" textLength="40.2" lengthAdjust="spacingAndGlyphs" transform="rotate(-90 1455.5 827.3)" font-weight="bold">150X15=2250</text>
<text x="1466" y="545" font-size="6.9" fill="#ffffff" text-anchor="middle" textLength="10" lengthAdjust="spacingAndGlyphs" transform="rotate(-90 1466 545)" font-weight="bold">3600</text>
<text x="1466" y="672" font-size="6.9" fill="#ffffff" text-anchor="middle" textLength="10" lengthAdjust="spacingAndGlyphs" transform="rotate(-90 1466 672)" font-weight="bold">3600</text>
<text x="1466" y="802" font-size="6.9" fill="#ffffff" text-anchor="middle" textLength="10" lengthAdjust="spacingAndGlyphs" transform="rotate(-90 1466 802)" font-weight="bold">3600</text>
<text x="1161.5" y="938.5" font-size="11" fill="#ffffff" text-anchor="middle">H</text>
<text x="1377.5" y="938.5" font-size="11" fill="#ffffff" text-anchor="middle">G</text>
<text x="1172" y="896" font-size="8.05" fill="#ffffff" text-anchor="middle" textLength="9" lengthAdjust="spacingAndGlyphs" font-weight="bold">2000</text>
<text x="1290" y="896" font-size="8.05" fill="#ffffff" text-anchor="middle" textLength="27" lengthAdjust="spacingAndGlyphs" font-weight="bold">300X14=4200</text>
<text x="1369" y="896" font-size="8.05" fill="#ffffff" text-anchor="middle" textLength="7" lengthAdjust="spacingAndGlyphs" font-weight="bold">420</text>
<text x="1140" y="908" font-size="8.05" fill="#ffffff" text-anchor="middle" textLength="10" lengthAdjust="spacingAndGlyphs" font-weight="bold">1200</text>
<text x="1268" y="908" font-size="8.05" fill="#ffffff" text-anchor="middle" textLength="10" lengthAdjust="spacingAndGlyphs" font-weight="bold">6000</text>
<text x="1248" y="940" font-size="10.35" fill="#ffffff" text-anchor="middle" textLength="12" lengthAdjust="spacingAndGlyphs" font-weight="bold">1-1</text>
<rect x="1269" y="931" width="5" height="1" fill="#ffffff"/><rect x="1269" y="931" width="1" height="10" fill="#ffffff"/><rect x="1273" y="931" width="1" height="10" fill="#ffffff"/><rect x="1269" y="940" width="5" height="1" fill="#ffffff"/><rect x="1269" y="934" width="4" height="1" fill="#ffffff"/><rect x="1271" y="933" width="1" height="6" fill="#ffffff"/><rect x="1269" y="938" width="4" height="1" fill="#ffffff"/><rect x="1276" y="930" width="1" height="12" fill="#ffffff"/><rect x="1275" y="934" width="2" height="1" fill="#ffffff"/><rect x="1278" y="931" width="1" height="10" fill="#ffffff"/><rect x="1280" y="931" width="1" height="11" fill="#ffffff"/><rect x="1278" y="931" width="4" height="1" fill="#ffffff"/><rect x="1278" y="935" width="3" height="1" fill="#ffffff"/><rect x="1278" y="940" width="4" height="1" fill="#ffffff"/><rect x="1283" y="932" width="6" height="1" fill="#ffffff"/><rect x="1284" y="932" width="1" height="10" fill="#ffffff"/><rect x="1286" y="932" width="1" height="10" fill="#ffffff"/><rect x="1283" y="936" width="5" height="1" fill="#ffffff"/><rect x="1283" y="940" width="6" height="1" fill="#ffffff"/><rect x="1283" y="934" width="1" height="5" fill="#ffffff"/>
<text x="1311" y="940" font-size="9.2" fill="#ffffff" text-anchor="middle" textLength="11" lengthAdjust="spacingAndGlyphs" font-weight="bold">1:50</text>
<rect x="1105" y="958" width="5" height="1" fill="#ffffff"/><rect x="1106" y="958" width="1" height="8" fill="#ffffff"/><rect x="1108" y="958" width="1" height="8" fill="#ffffff"/><rect x="1105" y="962" width="4" height="1" fill="#ffffff"/><rect x="1105" y="965" width="5" height="1" fill="#ffffff"/><rect x="1105" y="960" width="1" height="5" fill="#ffffff"/>
<rect x="1113" y="958" width="1" height="8" fill="#ffffff"/><rect x="1112" y="960" width="2" height="1" fill="#ffffff"/><rect x="1114" y="958" width="1" height="8" fill="#ffffff"/><rect x="1116" y="958" width="1" height="8" fill="#ffffff"/><rect x="1114" y="958" width="3" height="1" fill="#ffffff"/><rect x="1115" y="961" width="2" height="1" fill="#ffffff"/><rect x="1114" y="965" width="3" height="1" fill="#ffffff"/><rect x="1118" y="958" width="5" height="1" fill="#ffffff"/><rect x="1119" y="958" width="1" height="8" fill="#ffffff"/><rect x="1121" y="958" width="1" height="8" fill="#ffffff"/><rect x="1119" y="962" width="4" height="1" fill="#ffffff"/><rect x="1118" y="965" width="5" height="1" fill="#ffffff"/><rect x="1118" y="960" width="1" height="5" fill="#ffffff"/><rect x="1125" y="958" width="1" height="8" fill="#ffffff"/><rect x="1124" y="960" width="3" height="1" fill="#ffffff"/><rect x="1124" y="962" width="3" height="1" fill="#ffffff"/><rect x="1127" y="958" width="1" height="8" fill="#ffffff"/><rect x="1127" y="959" width="3" height="1" fill="#ffffff"/><rect x="1127" y="962" width="3" height="1" fill="#ffffff"/><rect x="1127" y="964" width="3" height="1" fill="#ffffff"/><rect x="1128" y="959" width="1" height="6" fill="#ffffff"/><rect x="1131" y="958" width="4" height="1" fill="#ffffff"/><rect x="1131" y="958" width="1" height="8" fill="#ffffff"/><rect x="1134" y="958" width="1" height="8" fill="#ffffff"/><rect x="1131" y="965" width="4" height="1" fill="#ffffff"/><rect x="1132" y="961" width="3" height="1" fill="#ffffff"/><rect x="1133" y="959" width="1" height="6" fill="#ffffff"/><rect x="1132" y="963" width="3" height="1" fill="#ffffff"/><rect x="1137" y="958" width="1" height="8" fill="#ffffff"/><rect x="1137" y="960" width="2" height="1" fill="#ffffff"/><rect x="1139" y="958" width="1" height="8" fill="#ffffff"/><rect x="1140" y="958" width="1" height="8" fill="#ffffff"/><rect x="1139" y="958" width="3" height="1" fill="#ffffff"/><rect x="1139" y="961" width="3" height="1" fill="#ffffff"/><rect x="1139" y="965" width="3" height="1" fill="#ffffff"/><rect x="1143" y="958" width="5" height="1" fill="#ffffff"/><rect x="1144" y="958" width="1" height="8" fill="#ffffff"/><rect x="1146" y="958" width="1" height="8" fill="#ffffff"/><rect x="1144" y="962" width="4" height="1" fill="#ffffff"/><rect x="1143" y="965" width="5" height="1" fill="#ffffff"/><rect x="1143" y="960" width="1" height="5" fill="#ffffff"/><rect x="1150" y="958" width="1" height="8" fill="#ffffff"/><rect x="1149" y="960" width="2" height="1" fill="#ffffff"/><rect x="1149" y="962" width="2" height="1" fill="#ffffff"/><rect x="1152" y="958" width="1" height="8" fill="#ffffff"/><rect x="1152" y="959" width="2" height="1" fill="#ffffff"/><rect x="1152" y="962" width="2" height="1" fill="#ffffff"/><rect x="1152" y="964" width="2" height="1" fill="#ffffff"/><rect x="1153" y="959" width="1" height="6" fill="#ffffff"/><rect x="1156" y="958" width="4" height="1" fill="#ffffff"/><rect x="1156" y="958" width="1" height="8" fill="#ffffff"/><rect x="1159" y="958" width="1" height="8" fill="#ffffff"/><rect x="1156" y="965" width="4" height="1" fill="#ffffff"/><rect x="1156" y="961" width="4" height="1" fill="#ffffff"/><rect x="1158" y="959" width="1" height="6" fill="#ffffff"/><rect x="1156" y="963" width="4" height="1" fill="#ffffff"/>
<text x="1168" y="966" font-size="9.2" fill="#ffffff" text-anchor="start" textLength="12" lengthAdjust="spacingAndGlyphs" font-weight="bold">600</text>
<rect x="1182" y="958" width="1" height="8" fill="#ffffff"/><rect x="1181" y="960" width="2" height="1" fill="#ffffff"/><rect x="1183" y="958" width="1" height="8" fill="#ffffff"/><rect x="1185" y="958" width="1" height="8" fill="#ffffff"/><rect x="1183" y="958" width="3" height="1" fill="#ffffff"/><rect x="1184" y="961" width="2" height="1" fill="#ffffff"/><rect x="1183" y="965" width="3" height="1" fill="#ffffff"/><rect x="1187" y="958" width="5" height="1" fill="#ffffff"/><rect x="1188" y="958" width="1" height="8" fill="#ffffff"/><rect x="1190" y="958" width="1" height="8" fill="#ffffff"/><rect x="1188" y="962" width="4" height="1" fill="#ffffff"/><rect x="1187" y="965" width="5" height="1" fill="#ffffff"/><rect x="1187" y="960" width="1" height="5" fill="#ffffff"/><rect x="1194" y="958" width="1" height="8" fill="#ffffff"/><rect x="1193" y="960" width="3" height="1" fill="#ffffff"/><rect x="1193" y="962" width="3" height="1" fill="#ffffff"/><rect x="1196" y="958" width="1" height="8" fill="#ffffff"/><rect x="1196" y="959" width="3" height="1" fill="#ffffff"/><rect x="1196" y="962" width="3" height="1" fill="#ffffff"/><rect x="1196" y="964" width="3" height="1" fill="#ffffff"/><rect x="1197" y="959" width="1" height="6" fill="#ffffff"/><rect x="1200" y="958" width="4" height="1" fill="#ffffff"/><rect x="1200" y="958" width="1" height="8" fill="#ffffff"/><rect x="1203" y="958" width="1" height="8" fill="#ffffff"/><rect x="1200" y="965" width="4" height="1" fill="#ffffff"/><rect x="1201" y="961" width="3" height="1" fill="#ffffff"/><rect x="1202" y="959" width="1" height="6" fill="#ffffff"/><rect x="1201" y="963" width="3" height="1" fill="#ffffff"/><rect x="1206" y="958" width="1" height="8" fill="#ffffff"/><rect x="1206" y="960" width="2" height="1" fill="#ffffff"/><rect x="1208" y="958" width="1" height="8" fill="#ffffff"/><rect x="1209" y="958" width="1" height="8" fill="#ffffff"/><rect x="1208" y="958" width="3" height="1" fill="#ffffff"/><rect x="1208" y="961" width="3" height="1" fill="#ffffff"/><rect x="1208" y="965" width="3" height="1" fill="#ffffff"/><rect x="1212" y="958" width="5" height="1" fill="#ffffff"/><rect x="1213" y="958" width="1" height="8" fill="#ffffff"/><rect x="1215" y="958" width="1" height="8" fill="#ffffff"/><rect x="1213" y="962" width="4" height="1" fill="#ffffff"/><rect x="1212" y="965" width="5" height="1" fill="#ffffff"/><rect x="1212" y="960" width="1" height="5" fill="#ffffff"/><rect x="1219" y="958" width="1" height="8" fill="#ffffff"/><rect x="1218" y="960" width="2" height="1" fill="#ffffff"/><rect x="1218" y="962" width="2" height="1" fill="#ffffff"/><rect x="1221" y="958" width="1" height="8" fill="#ffffff"/><rect x="1221" y="959" width="2" height="1" fill="#ffffff"/><rect x="1221" y="962" width="2" height="1" fill="#ffffff"/><rect x="1221" y="964" width="2" height="1" fill="#ffffff"/><rect x="1222" y="959" width="1" height="6" fill="#ffffff"/><rect x="1225" y="958" width="4" height="1" fill="#ffffff"/><rect x="1225" y="958" width="1" height="8" fill="#ffffff"/><rect x="1228" y="958" width="1" height="8" fill="#ffffff"/><rect x="1225" y="965" width="4" height="1" fill="#ffffff"/><rect x="1225" y="961" width="4" height="1" fill="#ffffff"/><rect x="1227" y="959" width="1" height="6" fill="#ffffff"/><rect x="1225" y="963" width="4" height="1" fill="#ffffff"/>
<text x="1282" y="966" font-size="8.05" fill="#00ff00" text-anchor="middle" textLength="11" lengthAdjust="spacingAndGlyphs" font-weight="bold">2001</text>
<rect x="1297" y="958" width="5" height="1" fill="#ffffff"/><rect x="1298" y="958" width="1" height="8" fill="#ffffff"/><rect x="1300" y="958" width="1" height="8" fill="#ffffff"/><rect x="1298" y="962" width="4" height="1" fill="#ffffff"/><rect x="1297" y="965" width="5" height="1" fill="#ffffff"/><rect x="1297" y="960" width="1" height="5" fill="#ffffff"/>
<text x="1313" y="966" font-size="8.05" fill="#00ff00" text-anchor="middle" textLength="9" lengthAdjust="spacingAndGlyphs" font-weight="bold">J43</text></g>
</svg></body></html>
